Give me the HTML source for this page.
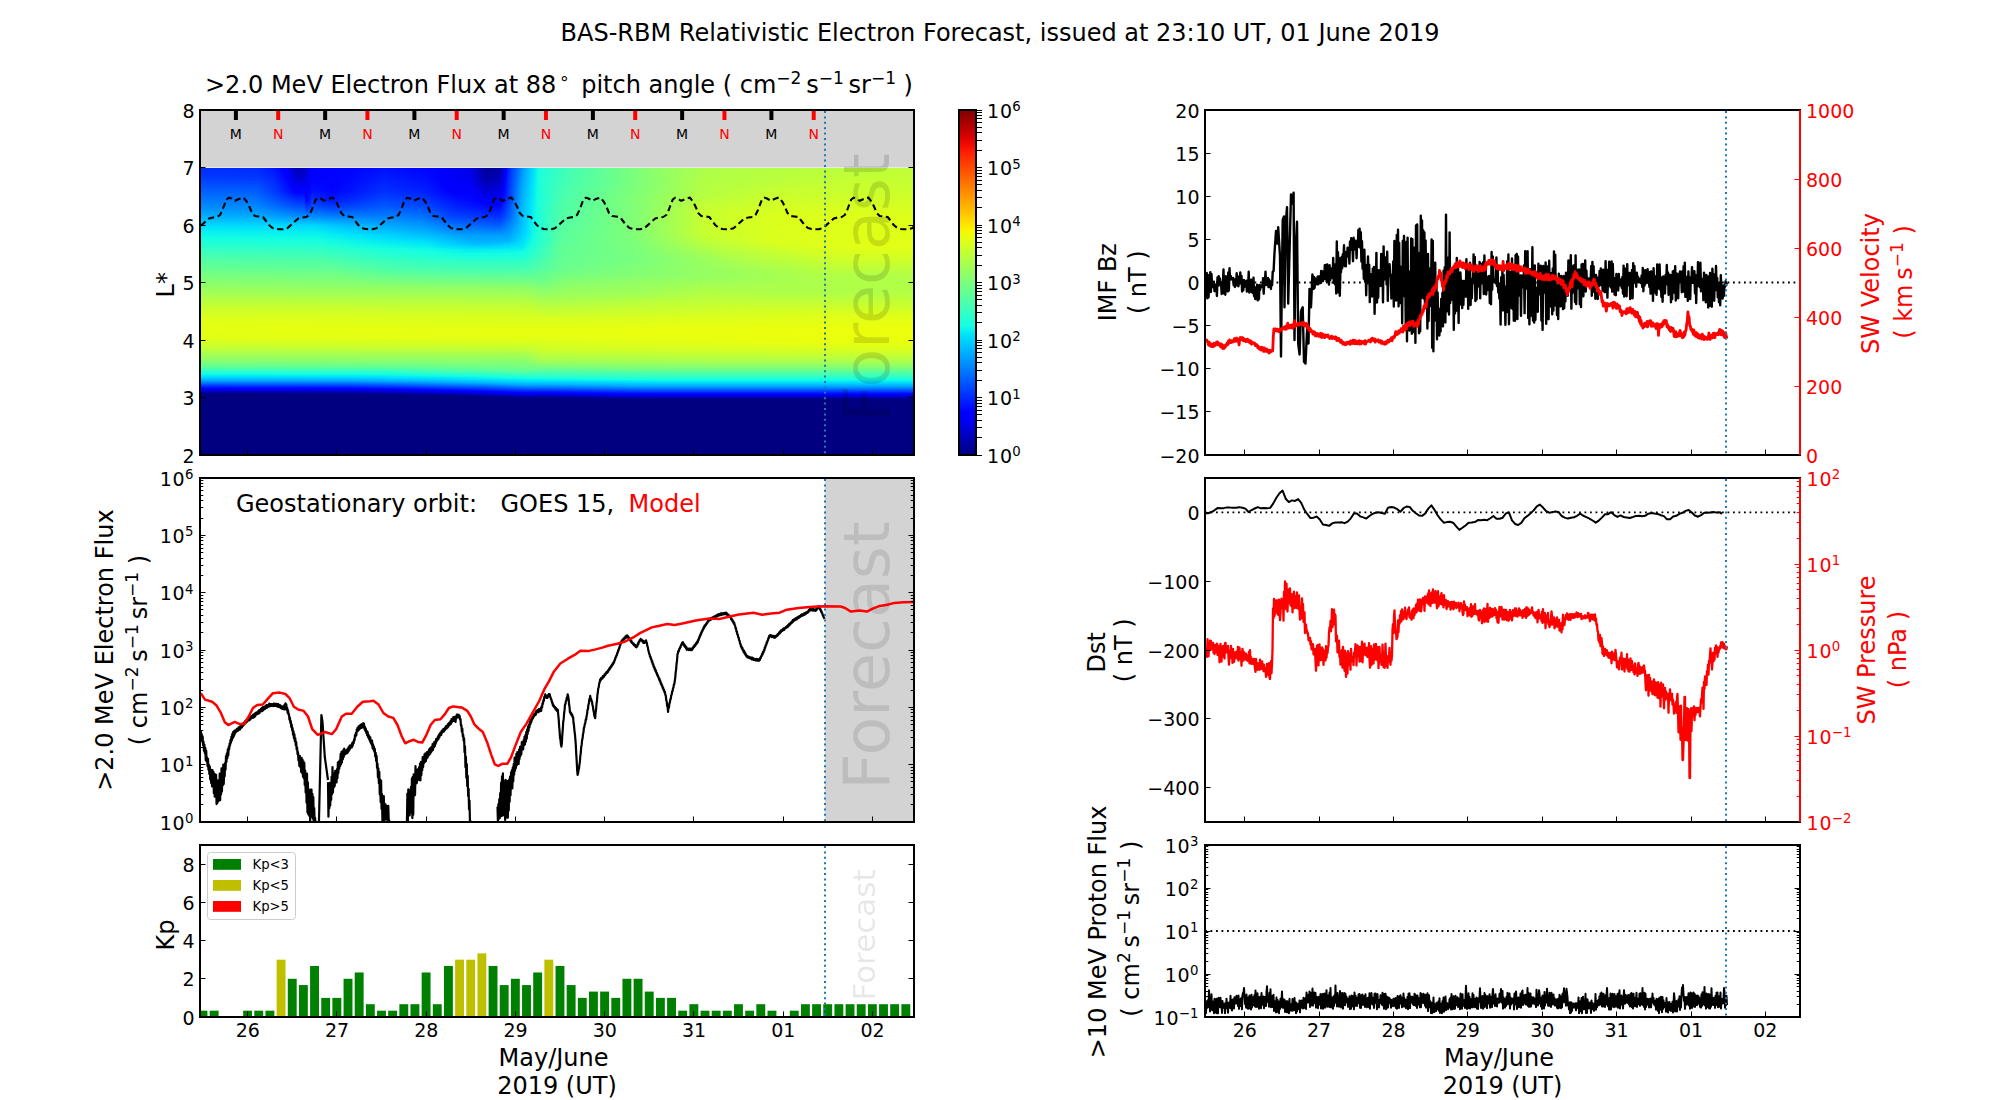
<!DOCTYPE html>
<html><head><meta charset="utf-8"><title>BAS-RBM Relativistic Electron Forecast</title>
<style>html,body{margin:0;padding:0;background:#fff;}svg{display:block;}</style></head>
<body><svg width="2000" height="1100" viewBox="0 0 2000 1100" font-family="'DejaVu Sans','Liberation Sans',sans-serif">
<rect width="2000" height="1100" fill="#fff"/>
<defs>
<clipPath id="clipH"><rect x="200" y="110" width="714" height="345"/></clipPath>
<clipPath id="clipM"><rect x="200" y="478" width="714" height="344"/></clipPath>
<clipPath id="clipK"><rect x="200" y="845" width="714" height="172"/></clipPath>
<clipPath id="clipR1"><rect x="1205" y="110" width="595" height="345"/></clipPath>
<clipPath id="clipR2"><rect x="1205" y="478" width="595" height="344"/></clipPath>
<clipPath id="clipR3"><rect x="1205" y="845" width="595" height="172"/></clipPath>
</defs>
<rect x="200" y="110" width="714" height="57.5" fill="#d3d3d3"/>
<defs><linearGradient id="h0" x1="0" x2="1" y1="0" y2="0"><stop offset="0.000" stop-color="#002fff"/><stop offset="0.081" stop-color="#002cff"/><stop offset="0.104" stop-color="#0016ff"/><stop offset="0.115" stop-color="#0000ff"/><stop offset="0.123" stop-color="#0000f9"/><stop offset="0.134" stop-color="#0000bc"/><stop offset="0.146" stop-color="#0000bc"/><stop offset="0.151" stop-color="#0000e5"/><stop offset="0.157" stop-color="#0000ff"/><stop offset="0.221" stop-color="#0005ff"/><stop offset="0.258" stop-color="#0010ff"/><stop offset="0.333" stop-color="#0000ff"/><stop offset="0.378" stop-color="#0000e9"/><stop offset="0.401" stop-color="#000099"/><stop offset="0.420" stop-color="#0000a5"/><stop offset="0.426" stop-color="#0000ea"/><stop offset="0.429" stop-color="#0000ff"/><stop offset="0.434" stop-color="#002cff"/><stop offset="0.454" stop-color="#00a2ff"/><stop offset="0.465" stop-color="#00d6ff"/><stop offset="0.471" stop-color="#08efef"/><stop offset="0.473" stop-color="#12fce4"/><stop offset="0.476" stop-color="#1dffda"/><stop offset="0.518" stop-color="#43ffb3"/><stop offset="0.630" stop-color="#8aff6d"/><stop offset="0.709" stop-color="#aeff49"/><stop offset="0.936" stop-color="#beff39"/><stop offset="1.000" stop-color="#beff39"/></linearGradient><linearGradient id="h1" x1="0" x2="1" y1="0" y2="0"><stop offset="0.000" stop-color="#0033ff"/><stop offset="0.081" stop-color="#0030ff"/><stop offset="0.104" stop-color="#001bff"/><stop offset="0.118" stop-color="#0000ff"/><stop offset="0.123" stop-color="#0000ff"/><stop offset="0.134" stop-color="#0000c5"/><stop offset="0.146" stop-color="#0000c5"/><stop offset="0.154" stop-color="#0000f7"/><stop offset="0.160" stop-color="#0000ff"/><stop offset="0.213" stop-color="#0004ff"/><stop offset="0.258" stop-color="#0014ff"/><stop offset="0.314" stop-color="#0006ff"/><stop offset="0.339" stop-color="#0000ff"/><stop offset="0.378" stop-color="#0000ec"/><stop offset="0.401" stop-color="#00009e"/><stop offset="0.420" stop-color="#0000ad"/><stop offset="0.426" stop-color="#0000ef"/><stop offset="0.429" stop-color="#0000ff"/><stop offset="0.431" stop-color="#001dff"/><stop offset="0.451" stop-color="#0098ff"/><stop offset="0.465" stop-color="#00d7ff"/><stop offset="0.468" stop-color="#00e4f8"/><stop offset="0.473" stop-color="#13fde4"/><stop offset="0.476" stop-color="#1dffd9"/><stop offset="0.515" stop-color="#43ffb4"/><stop offset="0.636" stop-color="#8dff6a"/><stop offset="0.709" stop-color="#afff48"/><stop offset="0.930" stop-color="#c0ff37"/><stop offset="1.000" stop-color="#c0ff37"/></linearGradient><linearGradient id="h2" x1="0" x2="1" y1="0" y2="0"><stop offset="0.000" stop-color="#0036ff"/><stop offset="0.084" stop-color="#0032ff"/><stop offset="0.104" stop-color="#0021ff"/><stop offset="0.120" stop-color="#0000ff"/><stop offset="0.126" stop-color="#0000f8"/><stop offset="0.134" stop-color="#0000cd"/><stop offset="0.146" stop-color="#0000cd"/><stop offset="0.154" stop-color="#0000fb"/><stop offset="0.207" stop-color="#0004ff"/><stop offset="0.258" stop-color="#0018ff"/><stop offset="0.314" stop-color="#000aff"/><stop offset="0.336" stop-color="#0000ff"/><stop offset="0.378" stop-color="#0000ef"/><stop offset="0.401" stop-color="#0000a4"/><stop offset="0.420" stop-color="#0000b5"/><stop offset="0.426" stop-color="#0000f5"/><stop offset="0.429" stop-color="#0004ff"/><stop offset="0.431" stop-color="#0020ff"/><stop offset="0.454" stop-color="#00a7ff"/><stop offset="0.465" stop-color="#00d9ff"/><stop offset="0.468" stop-color="#00e5f7"/><stop offset="0.473" stop-color="#14fee3"/><stop offset="0.479" stop-color="#21ffd6"/><stop offset="0.515" stop-color="#44ffb3"/><stop offset="0.650" stop-color="#94ff62"/><stop offset="0.709" stop-color="#b0ff47"/><stop offset="0.927" stop-color="#c2ff35"/><stop offset="1.000" stop-color="#c2ff35"/></linearGradient><linearGradient id="h3" x1="0" x2="1" y1="0" y2="0"><stop offset="0.000" stop-color="#003cff"/><stop offset="0.081" stop-color="#0039ff"/><stop offset="0.104" stop-color="#0026ff"/><stop offset="0.123" stop-color="#0000ff"/><stop offset="0.126" stop-color="#0000ff"/><stop offset="0.134" stop-color="#0000d5"/><stop offset="0.146" stop-color="#0000d5"/><stop offset="0.154" stop-color="#0000ff"/><stop offset="0.204" stop-color="#0005ff"/><stop offset="0.258" stop-color="#001cff"/><stop offset="0.314" stop-color="#000eff"/><stop offset="0.336" stop-color="#0000ff"/><stop offset="0.378" stop-color="#0000f2"/><stop offset="0.401" stop-color="#0000a9"/><stop offset="0.420" stop-color="#0000bd"/><stop offset="0.426" stop-color="#0000fa"/><stop offset="0.429" stop-color="#0008ff"/><stop offset="0.431" stop-color="#0023ff"/><stop offset="0.451" stop-color="#009dff"/><stop offset="0.465" stop-color="#00daff"/><stop offset="0.471" stop-color="#0af2ec"/><stop offset="0.473" stop-color="#14ffe3"/><stop offset="0.479" stop-color="#21ffd5"/><stop offset="0.513" stop-color="#44ffb3"/><stop offset="0.681" stop-color="#a5ff51"/><stop offset="0.714" stop-color="#b2ff45"/><stop offset="0.930" stop-color="#c4ff33"/><stop offset="1.000" stop-color="#c4ff33"/></linearGradient><linearGradient id="h4" x1="0" x2="1" y1="0" y2="0"><stop offset="0.000" stop-color="#0045ff"/><stop offset="0.081" stop-color="#0041ff"/><stop offset="0.104" stop-color="#002cff"/><stop offset="0.126" stop-color="#0000ff"/><stop offset="0.132" stop-color="#0000ec"/><stop offset="0.134" stop-color="#0000df"/><stop offset="0.146" stop-color="#0000df"/><stop offset="0.154" stop-color="#0000ff"/><stop offset="0.196" stop-color="#0003ff"/><stop offset="0.258" stop-color="#0020ff"/><stop offset="0.314" stop-color="#0012ff"/><stop offset="0.339" stop-color="#0000ff"/><stop offset="0.378" stop-color="#0000f5"/><stop offset="0.401" stop-color="#0000b0"/><stop offset="0.420" stop-color="#0000c5"/><stop offset="0.426" stop-color="#0000ff"/><stop offset="0.429" stop-color="#000cff"/><stop offset="0.431" stop-color="#0026ff"/><stop offset="0.451" stop-color="#00a0ff"/><stop offset="0.465" stop-color="#00dcff"/><stop offset="0.471" stop-color="#0bf3ec"/><stop offset="0.473" stop-color="#15ffe2"/><stop offset="0.479" stop-color="#22ffd5"/><stop offset="0.513" stop-color="#45ffb2"/><stop offset="0.703" stop-color="#b1ff45"/><stop offset="0.913" stop-color="#c5ff31"/><stop offset="1.000" stop-color="#c5ff31"/></linearGradient><linearGradient id="h5" x1="0" x2="1" y1="0" y2="0"><stop offset="0.000" stop-color="#004aff"/><stop offset="0.081" stop-color="#0046ff"/><stop offset="0.104" stop-color="#002fff"/><stop offset="0.126" stop-color="#0000ff"/><stop offset="0.129" stop-color="#0000ff"/><stop offset="0.134" stop-color="#0000e8"/><stop offset="0.148" stop-color="#0000ed"/><stop offset="0.154" stop-color="#0000ff"/><stop offset="0.160" stop-color="#0004ff"/><stop offset="0.196" stop-color="#0004ff"/><stop offset="0.258" stop-color="#0023ff"/><stop offset="0.314" stop-color="#0015ff"/><stop offset="0.342" stop-color="#0000ff"/><stop offset="0.378" stop-color="#0000f7"/><stop offset="0.401" stop-color="#0000b8"/><stop offset="0.420" stop-color="#0000ca"/><stop offset="0.426" stop-color="#0000ff"/><stop offset="0.429" stop-color="#000eff"/><stop offset="0.431" stop-color="#0028ff"/><stop offset="0.451" stop-color="#00a2ff"/><stop offset="0.465" stop-color="#00ddfe"/><stop offset="0.471" stop-color="#0cf4eb"/><stop offset="0.473" stop-color="#15ffe2"/><stop offset="0.479" stop-color="#22ffd5"/><stop offset="0.513" stop-color="#46ffb1"/><stop offset="0.706" stop-color="#b2ff44"/><stop offset="0.902" stop-color="#c7ff30"/><stop offset="1.000" stop-color="#c7ff30"/></linearGradient><linearGradient id="h6" x1="0" x2="1" y1="0" y2="0"><stop offset="0.000" stop-color="#0050ff"/><stop offset="0.081" stop-color="#004cff"/><stop offset="0.104" stop-color="#0033ff"/><stop offset="0.123" stop-color="#000bff"/><stop offset="0.126" stop-color="#0001ff"/><stop offset="0.132" stop-color="#0000fc"/><stop offset="0.134" stop-color="#0000f1"/><stop offset="0.148" stop-color="#0000f2"/><stop offset="0.154" stop-color="#0000ff"/><stop offset="0.157" stop-color="#0008ff"/><stop offset="0.188" stop-color="#0001ff"/><stop offset="0.255" stop-color="#0026ff"/><stop offset="0.314" stop-color="#0017ff"/><stop offset="0.342" stop-color="#0000ff"/><stop offset="0.378" stop-color="#0000f9"/><stop offset="0.401" stop-color="#0000bf"/><stop offset="0.420" stop-color="#0000cf"/><stop offset="0.426" stop-color="#0000ff"/><stop offset="0.437" stop-color="#004cff"/><stop offset="0.451" stop-color="#00a4ff"/><stop offset="0.465" stop-color="#00defd"/><stop offset="0.471" stop-color="#0cf5ea"/><stop offset="0.473" stop-color="#16ffe1"/><stop offset="0.482" stop-color="#26ffd1"/><stop offset="0.513" stop-color="#47ffb0"/><stop offset="0.709" stop-color="#b4ff43"/><stop offset="0.888" stop-color="#c8ff2f"/><stop offset="1.000" stop-color="#c8ff2f"/></linearGradient><linearGradient id="h7" x1="0" x2="1" y1="0" y2="0"><stop offset="0.000" stop-color="#0055ff"/><stop offset="0.081" stop-color="#0051ff"/><stop offset="0.106" stop-color="#0031ff"/><stop offset="0.129" stop-color="#0000ff"/><stop offset="0.148" stop-color="#0000f7"/><stop offset="0.154" stop-color="#0000ff"/><stop offset="0.157" stop-color="#000bff"/><stop offset="0.185" stop-color="#0000ff"/><stop offset="0.255" stop-color="#0029ff"/><stop offset="0.314" stop-color="#001aff"/><stop offset="0.345" stop-color="#0000ff"/><stop offset="0.378" stop-color="#0000fb"/><stop offset="0.401" stop-color="#0000c7"/><stop offset="0.420" stop-color="#0000d5"/><stop offset="0.423" stop-color="#0000f0"/><stop offset="0.426" stop-color="#0000ff"/><stop offset="0.437" stop-color="#004eff"/><stop offset="0.451" stop-color="#00a6ff"/><stop offset="0.465" stop-color="#00dffc"/><stop offset="0.473" stop-color="#16ffe1"/><stop offset="0.482" stop-color="#26ffd0"/><stop offset="0.510" stop-color="#46ffb0"/><stop offset="0.709" stop-color="#b4ff42"/><stop offset="0.843" stop-color="#c6ff31"/><stop offset="1.000" stop-color="#c9ff2e"/></linearGradient><linearGradient id="h8" x1="0" x2="1" y1="0" y2="0"><stop offset="0.000" stop-color="#005bff"/><stop offset="0.078" stop-color="#0059ff"/><stop offset="0.106" stop-color="#0035ff"/><stop offset="0.132" stop-color="#0000ff"/><stop offset="0.154" stop-color="#0000ff"/><stop offset="0.157" stop-color="#000dff"/><stop offset="0.185" stop-color="#0001ff"/><stop offset="0.255" stop-color="#002bff"/><stop offset="0.311" stop-color="#001fff"/><stop offset="0.347" stop-color="#0000ff"/><stop offset="0.378" stop-color="#0000fd"/><stop offset="0.401" stop-color="#0000cf"/><stop offset="0.420" stop-color="#0000db"/><stop offset="0.423" stop-color="#0000f6"/><stop offset="0.426" stop-color="#0000ff"/><stop offset="0.434" stop-color="#003fff"/><stop offset="0.451" stop-color="#00a8ff"/><stop offset="0.465" stop-color="#00e0fb"/><stop offset="0.473" stop-color="#16ffe0"/><stop offset="0.482" stop-color="#27ffd0"/><stop offset="0.510" stop-color="#47ffaf"/><stop offset="0.709" stop-color="#b5ff42"/><stop offset="0.832" stop-color="#c7ff30"/><stop offset="1.000" stop-color="#caff2c"/></linearGradient><linearGradient id="h9" x1="0" x2="1" y1="0" y2="0"><stop offset="0.000" stop-color="#0060ff"/><stop offset="0.078" stop-color="#005fff"/><stop offset="0.106" stop-color="#0039ff"/><stop offset="0.134" stop-color="#0000ff"/><stop offset="0.154" stop-color="#0003ff"/><stop offset="0.157" stop-color="#0011ff"/><stop offset="0.185" stop-color="#0003ff"/><stop offset="0.255" stop-color="#002fff"/><stop offset="0.314" stop-color="#0020ff"/><stop offset="0.350" stop-color="#0000ff"/><stop offset="0.381" stop-color="#0000fb"/><stop offset="0.401" stop-color="#0000d6"/><stop offset="0.420" stop-color="#0000e2"/><stop offset="0.423" stop-color="#0000fb"/><stop offset="0.426" stop-color="#0003ff"/><stop offset="0.434" stop-color="#0041ff"/><stop offset="0.451" stop-color="#00aaff"/><stop offset="0.465" stop-color="#00e1fb"/><stop offset="0.473" stop-color="#17ffe0"/><stop offset="0.482" stop-color="#27ffd0"/><stop offset="0.510" stop-color="#48ffae"/><stop offset="0.709" stop-color="#b6ff41"/><stop offset="0.826" stop-color="#c8ff2f"/><stop offset="1.000" stop-color="#ccff2b"/></linearGradient><linearGradient id="h10" x1="0" x2="1" y1="0" y2="0"><stop offset="0.000" stop-color="#0063ff"/><stop offset="0.078" stop-color="#0061ff"/><stop offset="0.106" stop-color="#003cff"/><stop offset="0.134" stop-color="#0003ff"/><stop offset="0.151" stop-color="#0000ff"/><stop offset="0.154" stop-color="#0006ff"/><stop offset="0.157" stop-color="#0015ff"/><stop offset="0.185" stop-color="#0006ff"/><stop offset="0.255" stop-color="#0031ff"/><stop offset="0.311" stop-color="#0025ff"/><stop offset="0.353" stop-color="#0000ff"/><stop offset="0.381" stop-color="#0000fe"/><stop offset="0.401" stop-color="#0000da"/><stop offset="0.420" stop-color="#0000e5"/><stop offset="0.423" stop-color="#0000fd"/><stop offset="0.426" stop-color="#0005ff"/><stop offset="0.437" stop-color="#0053ff"/><stop offset="0.451" stop-color="#00aaff"/><stop offset="0.465" stop-color="#00e1fa"/><stop offset="0.473" stop-color="#17ffe0"/><stop offset="0.482" stop-color="#27ffcf"/><stop offset="0.510" stop-color="#49ffae"/><stop offset="0.709" stop-color="#b6ff41"/><stop offset="0.815" stop-color="#c8ff2f"/><stop offset="1.000" stop-color="#ccff2a"/></linearGradient><linearGradient id="h11" x1="0" x2="1" y1="0" y2="0"><stop offset="0.000" stop-color="#0066ff"/><stop offset="0.078" stop-color="#0064ff"/><stop offset="0.109" stop-color="#003bff"/><stop offset="0.134" stop-color="#0008ff"/><stop offset="0.146" stop-color="#0008ff"/><stop offset="0.151" stop-color="#0000ff"/><stop offset="0.154" stop-color="#0009ff"/><stop offset="0.157" stop-color="#001aff"/><stop offset="0.185" stop-color="#0008ff"/><stop offset="0.255" stop-color="#0034ff"/><stop offset="0.311" stop-color="#0028ff"/><stop offset="0.356" stop-color="#0000ff"/><stop offset="0.384" stop-color="#0000fd"/><stop offset="0.401" stop-color="#0000de"/><stop offset="0.420" stop-color="#0000e8"/><stop offset="0.423" stop-color="#0000ff"/><stop offset="0.426" stop-color="#0007ff"/><stop offset="0.437" stop-color="#0054ff"/><stop offset="0.451" stop-color="#00abff"/><stop offset="0.465" stop-color="#00e2fa"/><stop offset="0.473" stop-color="#17ffe0"/><stop offset="0.482" stop-color="#28ffcf"/><stop offset="0.510" stop-color="#49ffae"/><stop offset="0.709" stop-color="#b7ff40"/><stop offset="0.818" stop-color="#c9ff2e"/><stop offset="1.000" stop-color="#cdff2a"/></linearGradient><linearGradient id="h12" x1="0" x2="1" y1="0" y2="0"><stop offset="0.000" stop-color="#0069ff"/><stop offset="0.078" stop-color="#0067ff"/><stop offset="0.109" stop-color="#003eff"/><stop offset="0.134" stop-color="#000eff"/><stop offset="0.146" stop-color="#000eff"/><stop offset="0.148" stop-color="#0000ff"/><stop offset="0.151" stop-color="#0000ff"/><stop offset="0.157" stop-color="#001eff"/><stop offset="0.185" stop-color="#000bff"/><stop offset="0.255" stop-color="#0037ff"/><stop offset="0.314" stop-color="#0028ff"/><stop offset="0.356" stop-color="#0002ff"/><stop offset="0.387" stop-color="#0000fb"/><stop offset="0.401" stop-color="#0000e2"/><stop offset="0.420" stop-color="#0000eb"/><stop offset="0.423" stop-color="#0000ff"/><stop offset="0.426" stop-color="#0008ff"/><stop offset="0.437" stop-color="#0055ff"/><stop offset="0.451" stop-color="#00acff"/><stop offset="0.462" stop-color="#00d7ff"/><stop offset="0.468" stop-color="#06edf1"/><stop offset="0.473" stop-color="#17ffdf"/><stop offset="0.485" stop-color="#2cffcb"/><stop offset="0.510" stop-color="#4affad"/><stop offset="0.709" stop-color="#b7ff3f"/><stop offset="0.818" stop-color="#caff2d"/><stop offset="1.000" stop-color="#ceff29"/></linearGradient><linearGradient id="h13" x1="0" x2="1" y1="0" y2="0"><stop offset="0.000" stop-color="#006bff"/><stop offset="0.078" stop-color="#006aff"/><stop offset="0.112" stop-color="#003dff"/><stop offset="0.134" stop-color="#0013ff"/><stop offset="0.146" stop-color="#0013ff"/><stop offset="0.148" stop-color="#0000ff"/><stop offset="0.151" stop-color="#0000ff"/><stop offset="0.157" stop-color="#0022ff"/><stop offset="0.182" stop-color="#000bff"/><stop offset="0.255" stop-color="#003aff"/><stop offset="0.314" stop-color="#002bff"/><stop offset="0.356" stop-color="#0005ff"/><stop offset="0.387" stop-color="#0000fe"/><stop offset="0.401" stop-color="#0000e6"/><stop offset="0.420" stop-color="#0000ee"/><stop offset="0.423" stop-color="#0000ff"/><stop offset="0.426" stop-color="#000aff"/><stop offset="0.443" stop-color="#0079ff"/><stop offset="0.451" stop-color="#00adff"/><stop offset="0.462" stop-color="#00d8ff"/><stop offset="0.468" stop-color="#06edf0"/><stop offset="0.473" stop-color="#18ffdf"/><stop offset="0.507" stop-color="#49ffae"/><stop offset="0.697" stop-color="#b5ff42"/><stop offset="0.810" stop-color="#caff2d"/><stop offset="1.000" stop-color="#ceff28"/></linearGradient><linearGradient id="h14" x1="0" x2="1" y1="0" y2="0"><stop offset="0.000" stop-color="#006eff"/><stop offset="0.078" stop-color="#006cff"/><stop offset="0.109" stop-color="#0045ff"/><stop offset="0.134" stop-color="#0019ff"/><stop offset="0.146" stop-color="#0019ff"/><stop offset="0.148" stop-color="#0001ff"/><stop offset="0.151" stop-color="#0000ff"/><stop offset="0.157" stop-color="#0026ff"/><stop offset="0.182" stop-color="#000eff"/><stop offset="0.255" stop-color="#003cff"/><stop offset="0.311" stop-color="#0030ff"/><stop offset="0.356" stop-color="#0008ff"/><stop offset="0.389" stop-color="#0000fd"/><stop offset="0.401" stop-color="#0000ea"/><stop offset="0.420" stop-color="#0000f1"/><stop offset="0.423" stop-color="#0000ff"/><stop offset="0.429" stop-color="#0020ff"/><stop offset="0.451" stop-color="#00aeff"/><stop offset="0.462" stop-color="#00d9ff"/><stop offset="0.468" stop-color="#07eef0"/><stop offset="0.473" stop-color="#18ffdf"/><stop offset="0.482" stop-color="#28ffcf"/><stop offset="0.510" stop-color="#4bffac"/><stop offset="0.667" stop-color="#a3ff54"/><stop offset="0.711" stop-color="#baff3d"/><stop offset="0.812" stop-color="#cbff2c"/><stop offset="1.000" stop-color="#cfff28"/></linearGradient><linearGradient id="h15" x1="0" x2="1" y1="0" y2="0"><stop offset="0.000" stop-color="#0071ff"/><stop offset="0.078" stop-color="#006fff"/><stop offset="0.112" stop-color="#0044ff"/><stop offset="0.134" stop-color="#001eff"/><stop offset="0.146" stop-color="#001eff"/><stop offset="0.148" stop-color="#0004ff"/><stop offset="0.151" stop-color="#0000ff"/><stop offset="0.157" stop-color="#002aff"/><stop offset="0.185" stop-color="#0012ff"/><stop offset="0.255" stop-color="#003fff"/><stop offset="0.314" stop-color="#0030ff"/><stop offset="0.356" stop-color="#000bff"/><stop offset="0.392" stop-color="#0000fc"/><stop offset="0.403" stop-color="#0000f0"/><stop offset="0.420" stop-color="#0000f4"/><stop offset="0.423" stop-color="#0000ff"/><stop offset="0.451" stop-color="#00afff"/><stop offset="0.462" stop-color="#00d9ff"/><stop offset="0.468" stop-color="#07eef0"/><stop offset="0.473" stop-color="#18ffdf"/><stop offset="0.485" stop-color="#2cffca"/><stop offset="0.510" stop-color="#4bffac"/><stop offset="0.653" stop-color="#9bff5c"/><stop offset="0.709" stop-color="#baff3c"/><stop offset="0.812" stop-color="#ccff2b"/><stop offset="1.000" stop-color="#d0ff27"/></linearGradient><linearGradient id="h16" x1="0" x2="1" y1="0" y2="0"><stop offset="0.000" stop-color="#0074ff"/><stop offset="0.078" stop-color="#0072ff"/><stop offset="0.115" stop-color="#0043ff"/><stop offset="0.137" stop-color="#0024ff"/><stop offset="0.146" stop-color="#0024ff"/><stop offset="0.148" stop-color="#0006ff"/><stop offset="0.151" stop-color="#0002ff"/><stop offset="0.157" stop-color="#002eff"/><stop offset="0.182" stop-color="#0013ff"/><stop offset="0.255" stop-color="#0042ff"/><stop offset="0.314" stop-color="#0033ff"/><stop offset="0.356" stop-color="#000dff"/><stop offset="0.395" stop-color="#0000fc"/><stop offset="0.403" stop-color="#0000f4"/><stop offset="0.420" stop-color="#0000f7"/><stop offset="0.423" stop-color="#0000ff"/><stop offset="0.451" stop-color="#00b0ff"/><stop offset="0.462" stop-color="#00daff"/><stop offset="0.468" stop-color="#07efef"/><stop offset="0.473" stop-color="#18ffdf"/><stop offset="0.485" stop-color="#2dffca"/><stop offset="0.510" stop-color="#4cffab"/><stop offset="0.644" stop-color="#96ff61"/><stop offset="0.709" stop-color="#bbff3b"/><stop offset="0.815" stop-color="#cdff2a"/><stop offset="1.000" stop-color="#d0ff27"/></linearGradient><linearGradient id="h17" x1="0" x2="1" y1="0" y2="0"><stop offset="0.000" stop-color="#0076ff"/><stop offset="0.081" stop-color="#0072ff"/><stop offset="0.120" stop-color="#003eff"/><stop offset="0.137" stop-color="#0029ff"/><stop offset="0.146" stop-color="#0029ff"/><stop offset="0.148" stop-color="#0009ff"/><stop offset="0.151" stop-color="#0004ff"/><stop offset="0.157" stop-color="#0032ff"/><stop offset="0.182" stop-color="#0016ff"/><stop offset="0.255" stop-color="#0045ff"/><stop offset="0.311" stop-color="#0038ff"/><stop offset="0.356" stop-color="#0010ff"/><stop offset="0.395" stop-color="#0000ff"/><stop offset="0.406" stop-color="#0000f9"/><stop offset="0.423" stop-color="#0000ff"/><stop offset="0.451" stop-color="#00b1ff"/><stop offset="0.462" stop-color="#00daff"/><stop offset="0.468" stop-color="#08efef"/><stop offset="0.473" stop-color="#18ffde"/><stop offset="0.485" stop-color="#2dffca"/><stop offset="0.510" stop-color="#4cffab"/><stop offset="0.639" stop-color="#93ff64"/><stop offset="0.709" stop-color="#bcff3a"/><stop offset="0.815" stop-color="#ceff29"/><stop offset="1.000" stop-color="#d1ff26"/></linearGradient><linearGradient id="h18" x1="0" x2="1" y1="0" y2="0"><stop offset="0.000" stop-color="#0079ff"/><stop offset="0.078" stop-color="#0078ff"/><stop offset="0.123" stop-color="#003eff"/><stop offset="0.137" stop-color="#002fff"/><stop offset="0.146" stop-color="#002fff"/><stop offset="0.148" stop-color="#000cff"/><stop offset="0.151" stop-color="#0006ff"/><stop offset="0.157" stop-color="#0036ff"/><stop offset="0.182" stop-color="#0018ff"/><stop offset="0.255" stop-color="#0047ff"/><stop offset="0.311" stop-color="#003bff"/><stop offset="0.356" stop-color="#0013ff"/><stop offset="0.384" stop-color="#0004ff"/><stop offset="0.423" stop-color="#0001ff"/><stop offset="0.451" stop-color="#00b2ff"/><stop offset="0.462" stop-color="#00dbff"/><stop offset="0.468" stop-color="#08efef"/><stop offset="0.473" stop-color="#19ffde"/><stop offset="0.507" stop-color="#4bffac"/><stop offset="0.630" stop-color="#8eff69"/><stop offset="0.706" stop-color="#bdff3a"/><stop offset="0.818" stop-color="#cfff28"/><stop offset="1.000" stop-color="#d1ff25"/></linearGradient><linearGradient id="h19" x1="0" x2="1" y1="0" y2="0"><stop offset="0.000" stop-color="#007cff"/><stop offset="0.078" stop-color="#007aff"/><stop offset="0.126" stop-color="#003fff"/><stop offset="0.137" stop-color="#0034ff"/><stop offset="0.146" stop-color="#0034ff"/><stop offset="0.148" stop-color="#0011ff"/><stop offset="0.151" stop-color="#000bff"/><stop offset="0.157" stop-color="#003aff"/><stop offset="0.185" stop-color="#001eff"/><stop offset="0.255" stop-color="#004aff"/><stop offset="0.314" stop-color="#003bff"/><stop offset="0.356" stop-color="#0015ff"/><stop offset="0.384" stop-color="#0007ff"/><stop offset="0.395" stop-color="#0000ff"/><stop offset="0.423" stop-color="#0004ff"/><stop offset="0.451" stop-color="#00b3ff"/><stop offset="0.462" stop-color="#00dcff"/><stop offset="0.468" stop-color="#08f0ee"/><stop offset="0.473" stop-color="#19ffde"/><stop offset="0.507" stop-color="#4cffab"/><stop offset="0.630" stop-color="#8eff69"/><stop offset="0.706" stop-color="#beff39"/><stop offset="0.815" stop-color="#cfff27"/><stop offset="1.000" stop-color="#d2ff25"/></linearGradient><linearGradient id="h20" x1="0" x2="1" y1="0" y2="0"><stop offset="0.000" stop-color="#007fff"/><stop offset="0.078" stop-color="#007dff"/><stop offset="0.137" stop-color="#0039ff"/><stop offset="0.146" stop-color="#0039ff"/><stop offset="0.148" stop-color="#0018ff"/><stop offset="0.151" stop-color="#0012ff"/><stop offset="0.157" stop-color="#003eff"/><stop offset="0.185" stop-color="#0024ff"/><stop offset="0.255" stop-color="#004dff"/><stop offset="0.314" stop-color="#003eff"/><stop offset="0.356" stop-color="#0018ff"/><stop offset="0.384" stop-color="#000aff"/><stop offset="0.398" stop-color="#0000ff"/><stop offset="0.420" stop-color="#0000ff"/><stop offset="0.423" stop-color="#0008ff"/><stop offset="0.451" stop-color="#00b4ff"/><stop offset="0.462" stop-color="#00dcfe"/><stop offset="0.468" stop-color="#09f0ee"/><stop offset="0.473" stop-color="#19ffde"/><stop offset="0.504" stop-color="#4bffac"/><stop offset="0.622" stop-color="#89ff6e"/><stop offset="0.706" stop-color="#bfff38"/><stop offset="0.812" stop-color="#d0ff27"/><stop offset="1.000" stop-color="#d3ff24"/></linearGradient><linearGradient id="h21" x1="0" x2="1" y1="0" y2="0"><stop offset="0.000" stop-color="#0082ff"/><stop offset="0.078" stop-color="#0080ff"/><stop offset="0.137" stop-color="#003fff"/><stop offset="0.146" stop-color="#003fff"/><stop offset="0.148" stop-color="#001fff"/><stop offset="0.151" stop-color="#001aff"/><stop offset="0.157" stop-color="#0042ff"/><stop offset="0.185" stop-color="#002aff"/><stop offset="0.258" stop-color="#004fff"/><stop offset="0.311" stop-color="#0043ff"/><stop offset="0.356" stop-color="#001bff"/><stop offset="0.384" stop-color="#000dff"/><stop offset="0.401" stop-color="#0000ff"/><stop offset="0.420" stop-color="#0000ff"/><stop offset="0.429" stop-color="#002dff"/><stop offset="0.451" stop-color="#00b4ff"/><stop offset="0.462" stop-color="#00ddfe"/><stop offset="0.468" stop-color="#09f1ee"/><stop offset="0.473" stop-color="#19ffdd"/><stop offset="0.504" stop-color="#4bffac"/><stop offset="0.622" stop-color="#89ff6e"/><stop offset="0.706" stop-color="#c0ff37"/><stop offset="0.815" stop-color="#d1ff26"/><stop offset="1.000" stop-color="#d4ff23"/></linearGradient><linearGradient id="h22" x1="0" x2="1" y1="0" y2="0"><stop offset="0.000" stop-color="#0085ff"/><stop offset="0.078" stop-color="#0083ff"/><stop offset="0.137" stop-color="#0044ff"/><stop offset="0.146" stop-color="#0044ff"/><stop offset="0.148" stop-color="#0026ff"/><stop offset="0.151" stop-color="#0021ff"/><stop offset="0.157" stop-color="#0046ff"/><stop offset="0.185" stop-color="#0030ff"/><stop offset="0.258" stop-color="#0052ff"/><stop offset="0.314" stop-color="#0043ff"/><stop offset="0.356" stop-color="#001eff"/><stop offset="0.387" stop-color="#000dff"/><stop offset="0.406" stop-color="#0000ff"/><stop offset="0.420" stop-color="#0000ff"/><stop offset="0.451" stop-color="#00b5ff"/><stop offset="0.462" stop-color="#00ddfe"/><stop offset="0.468" stop-color="#09f1ed"/><stop offset="0.473" stop-color="#1affdd"/><stop offset="0.507" stop-color="#4dffaa"/><stop offset="0.622" stop-color="#89ff6e"/><stop offset="0.706" stop-color="#c1ff36"/><stop offset="0.815" stop-color="#d2ff25"/><stop offset="1.000" stop-color="#d5ff22"/></linearGradient><linearGradient id="h23" x1="0" x2="1" y1="0" y2="0"><stop offset="0.000" stop-color="#0088ff"/><stop offset="0.078" stop-color="#0086ff"/><stop offset="0.134" stop-color="#004aff"/><stop offset="0.146" stop-color="#004aff"/><stop offset="0.148" stop-color="#002eff"/><stop offset="0.151" stop-color="#0028ff"/><stop offset="0.157" stop-color="#004aff"/><stop offset="0.185" stop-color="#0036ff"/><stop offset="0.258" stop-color="#0054ff"/><stop offset="0.314" stop-color="#0046ff"/><stop offset="0.356" stop-color="#0020ff"/><stop offset="0.389" stop-color="#000eff"/><stop offset="0.406" stop-color="#0003ff"/><stop offset="0.420" stop-color="#0003ff"/><stop offset="0.451" stop-color="#00b6ff"/><stop offset="0.462" stop-color="#00defd"/><stop offset="0.471" stop-color="#12fbe5"/><stop offset="0.479" stop-color="#26ffd1"/><stop offset="0.507" stop-color="#4dffaa"/><stop offset="0.622" stop-color="#89ff6e"/><stop offset="0.706" stop-color="#c2ff35"/><stop offset="0.815" stop-color="#d3ff24"/><stop offset="1.000" stop-color="#d5ff21"/></linearGradient><linearGradient id="h24" x1="0" x2="1" y1="0" y2="0"><stop offset="0.000" stop-color="#008bff"/><stop offset="0.078" stop-color="#0089ff"/><stop offset="0.134" stop-color="#0050ff"/><stop offset="0.146" stop-color="#0050ff"/><stop offset="0.148" stop-color="#0035ff"/><stop offset="0.151" stop-color="#0030ff"/><stop offset="0.157" stop-color="#0050ff"/><stop offset="0.185" stop-color="#003cff"/><stop offset="0.258" stop-color="#0058ff"/><stop offset="0.311" stop-color="#004cff"/><stop offset="0.356" stop-color="#0023ff"/><stop offset="0.389" stop-color="#0011ff"/><stop offset="0.406" stop-color="#0007ff"/><stop offset="0.420" stop-color="#0007ff"/><stop offset="0.451" stop-color="#00b6ff"/><stop offset="0.462" stop-color="#00defd"/><stop offset="0.471" stop-color="#12fce5"/><stop offset="0.479" stop-color="#26ffd1"/><stop offset="0.507" stop-color="#4effa9"/><stop offset="0.619" stop-color="#87ff6f"/><stop offset="0.706" stop-color="#c3ff34"/><stop offset="0.821" stop-color="#d4ff23"/><stop offset="1.000" stop-color="#d6ff20"/></linearGradient><linearGradient id="h25" x1="0" x2="1" y1="0" y2="0"><stop offset="0.000" stop-color="#008eff"/><stop offset="0.081" stop-color="#008aff"/><stop offset="0.134" stop-color="#0056ff"/><stop offset="0.146" stop-color="#0056ff"/><stop offset="0.148" stop-color="#003dff"/><stop offset="0.151" stop-color="#0037ff"/><stop offset="0.157" stop-color="#0056ff"/><stop offset="0.185" stop-color="#0042ff"/><stop offset="0.258" stop-color="#005cff"/><stop offset="0.311" stop-color="#0050ff"/><stop offset="0.356" stop-color="#0026ff"/><stop offset="0.389" stop-color="#0015ff"/><stop offset="0.406" stop-color="#000bff"/><stop offset="0.420" stop-color="#000bff"/><stop offset="0.445" stop-color="#0096ff"/><stop offset="0.451" stop-color="#00b7ff"/><stop offset="0.462" stop-color="#00defc"/><stop offset="0.471" stop-color="#12fce4"/><stop offset="0.482" stop-color="#2bffcc"/><stop offset="0.507" stop-color="#4effa9"/><stop offset="0.616" stop-color="#86ff71"/><stop offset="0.706" stop-color="#c4ff33"/><stop offset="0.821" stop-color="#d5ff22"/><stop offset="1.000" stop-color="#d7ff20"/></linearGradient><linearGradient id="h26" x1="0" x2="1" y1="0" y2="0"><stop offset="0.000" stop-color="#0091ff"/><stop offset="0.081" stop-color="#008dff"/><stop offset="0.137" stop-color="#005cff"/><stop offset="0.146" stop-color="#005cff"/><stop offset="0.148" stop-color="#0044ff"/><stop offset="0.151" stop-color="#003fff"/><stop offset="0.157" stop-color="#005cff"/><stop offset="0.185" stop-color="#0048ff"/><stop offset="0.258" stop-color="#0060ff"/><stop offset="0.311" stop-color="#0054ff"/><stop offset="0.356" stop-color="#0029ff"/><stop offset="0.395" stop-color="#0014ff"/><stop offset="0.420" stop-color="#000fff"/><stop offset="0.440" stop-color="#0077ff"/><stop offset="0.451" stop-color="#00b8ff"/><stop offset="0.462" stop-color="#00dffc"/><stop offset="0.471" stop-color="#13fde4"/><stop offset="0.479" stop-color="#27ffd0"/><stop offset="0.507" stop-color="#4effa8"/><stop offset="0.616" stop-color="#86ff71"/><stop offset="0.706" stop-color="#c5ff32"/><stop offset="0.815" stop-color="#d5ff22"/><stop offset="1.000" stop-color="#d8ff1f"/></linearGradient><linearGradient id="h27" x1="0" x2="1" y1="0" y2="0"><stop offset="0.000" stop-color="#0094ff"/><stop offset="0.081" stop-color="#0090ff"/><stop offset="0.137" stop-color="#0062ff"/><stop offset="0.146" stop-color="#0062ff"/><stop offset="0.148" stop-color="#004bff"/><stop offset="0.151" stop-color="#0047ff"/><stop offset="0.157" stop-color="#0062ff"/><stop offset="0.185" stop-color="#004eff"/><stop offset="0.258" stop-color="#0064ff"/><stop offset="0.311" stop-color="#0058ff"/><stop offset="0.356" stop-color="#002cff"/><stop offset="0.395" stop-color="#0018ff"/><stop offset="0.420" stop-color="#0013ff"/><stop offset="0.437" stop-color="#0069ff"/><stop offset="0.451" stop-color="#00b8ff"/><stop offset="0.462" stop-color="#00dffc"/><stop offset="0.471" stop-color="#13fde4"/><stop offset="0.479" stop-color="#27ffd0"/><stop offset="0.507" stop-color="#4fffa8"/><stop offset="0.616" stop-color="#86ff71"/><stop offset="0.706" stop-color="#c6ff31"/><stop offset="0.818" stop-color="#d6ff21"/><stop offset="1.000" stop-color="#d9ff1e"/></linearGradient><linearGradient id="h28" x1="0" x2="1" y1="0" y2="0"><stop offset="0.000" stop-color="#0098ff"/><stop offset="0.081" stop-color="#0094ff"/><stop offset="0.137" stop-color="#0068ff"/><stop offset="0.146" stop-color="#0068ff"/><stop offset="0.148" stop-color="#0053ff"/><stop offset="0.151" stop-color="#004fff"/><stop offset="0.157" stop-color="#0068ff"/><stop offset="0.185" stop-color="#0054ff"/><stop offset="0.261" stop-color="#0068ff"/><stop offset="0.311" stop-color="#005cff"/><stop offset="0.356" stop-color="#002fff"/><stop offset="0.409" stop-color="#0017ff"/><stop offset="0.420" stop-color="#0017ff"/><stop offset="0.434" stop-color="#005bff"/><stop offset="0.451" stop-color="#00b9ff"/><stop offset="0.462" stop-color="#00e0fb"/><stop offset="0.471" stop-color="#13fde4"/><stop offset="0.479" stop-color="#27ffd0"/><stop offset="0.507" stop-color="#4fffa8"/><stop offset="0.616" stop-color="#86ff71"/><stop offset="0.706" stop-color="#c6ff30"/><stop offset="0.818" stop-color="#d7ff20"/><stop offset="1.000" stop-color="#daff1d"/></linearGradient><linearGradient id="h29" x1="0" x2="1" y1="0" y2="0"><stop offset="0.000" stop-color="#009cff"/><stop offset="0.081" stop-color="#0099ff"/><stop offset="0.137" stop-color="#006eff"/><stop offset="0.146" stop-color="#006eff"/><stop offset="0.148" stop-color="#005bff"/><stop offset="0.151" stop-color="#0057ff"/><stop offset="0.157" stop-color="#006eff"/><stop offset="0.185" stop-color="#005bff"/><stop offset="0.261" stop-color="#006cff"/><stop offset="0.311" stop-color="#0060ff"/><stop offset="0.356" stop-color="#0032ff"/><stop offset="0.409" stop-color="#001cff"/><stop offset="0.420" stop-color="#001cff"/><stop offset="0.437" stop-color="#006cff"/><stop offset="0.451" stop-color="#00baff"/><stop offset="0.462" stop-color="#00e0fb"/><stop offset="0.471" stop-color="#13fee3"/><stop offset="0.482" stop-color="#2cffcb"/><stop offset="0.507" stop-color="#50ffa7"/><stop offset="0.613" stop-color="#84ff73"/><stop offset="0.706" stop-color="#c7ff30"/><stop offset="0.815" stop-color="#d8ff1f"/><stop offset="1.000" stop-color="#daff1c"/></linearGradient><linearGradient id="h30" x1="0" x2="1" y1="0" y2="0"><stop offset="0.000" stop-color="#00a0ff"/><stop offset="0.081" stop-color="#009dff"/><stop offset="0.140" stop-color="#0074ff"/><stop offset="0.146" stop-color="#0074ff"/><stop offset="0.148" stop-color="#0064ff"/><stop offset="0.151" stop-color="#0061ff"/><stop offset="0.157" stop-color="#0074ff"/><stop offset="0.185" stop-color="#0063ff"/><stop offset="0.261" stop-color="#0070ff"/><stop offset="0.311" stop-color="#0064ff"/><stop offset="0.356" stop-color="#0036ff"/><stop offset="0.409" stop-color="#0020ff"/><stop offset="0.420" stop-color="#0020ff"/><stop offset="0.434" stop-color="#005fff"/><stop offset="0.451" stop-color="#00baff"/><stop offset="0.462" stop-color="#00e1fa"/><stop offset="0.471" stop-color="#14fee3"/><stop offset="0.485" stop-color="#30ffc6"/><stop offset="0.507" stop-color="#50ffa7"/><stop offset="0.613" stop-color="#84ff73"/><stop offset="0.706" stop-color="#c7ff30"/><stop offset="0.812" stop-color="#d8ff1e"/><stop offset="1.000" stop-color="#dbff1c"/></linearGradient><linearGradient id="h31" x1="0" x2="1" y1="0" y2="0"><stop offset="0.000" stop-color="#00a4ff"/><stop offset="0.081" stop-color="#00a1ff"/><stop offset="0.140" stop-color="#007aff"/><stop offset="0.146" stop-color="#007aff"/><stop offset="0.148" stop-color="#006dff"/><stop offset="0.151" stop-color="#006aff"/><stop offset="0.157" stop-color="#007aff"/><stop offset="0.188" stop-color="#006bff"/><stop offset="0.266" stop-color="#0073ff"/><stop offset="0.311" stop-color="#0068ff"/><stop offset="0.356" stop-color="#0039ff"/><stop offset="0.409" stop-color="#0024ff"/><stop offset="0.420" stop-color="#0024ff"/><stop offset="0.434" stop-color="#0061ff"/><stop offset="0.451" stop-color="#00bbff"/><stop offset="0.462" stop-color="#00e1fa"/><stop offset="0.471" stop-color="#14fee3"/><stop offset="0.479" stop-color="#28ffcf"/><stop offset="0.507" stop-color="#50ffa6"/><stop offset="0.613" stop-color="#84ff73"/><stop offset="0.706" stop-color="#c7ff30"/><stop offset="0.810" stop-color="#d9ff1e"/><stop offset="1.000" stop-color="#dcff1b"/></linearGradient><linearGradient id="h32" x1="0" x2="1" y1="0" y2="0"><stop offset="0.000" stop-color="#00a8ff"/><stop offset="0.081" stop-color="#00a5ff"/><stop offset="0.140" stop-color="#0081ff"/><stop offset="0.146" stop-color="#0081ff"/><stop offset="0.151" stop-color="#0073ff"/><stop offset="0.157" stop-color="#0081ff"/><stop offset="0.188" stop-color="#0072ff"/><stop offset="0.266" stop-color="#0077ff"/><stop offset="0.311" stop-color="#006cff"/><stop offset="0.353" stop-color="#003dff"/><stop offset="0.409" stop-color="#0028ff"/><stop offset="0.420" stop-color="#0028ff"/><stop offset="0.434" stop-color="#0063ff"/><stop offset="0.451" stop-color="#00bcff"/><stop offset="0.462" stop-color="#00e2fa"/><stop offset="0.471" stop-color="#14ffe3"/><stop offset="0.479" stop-color="#28ffcf"/><stop offset="0.507" stop-color="#51ffa6"/><stop offset="0.613" stop-color="#84ff73"/><stop offset="0.706" stop-color="#c7ff30"/><stop offset="0.810" stop-color="#daff1d"/><stop offset="1.000" stop-color="#ddff1a"/></linearGradient><linearGradient id="h33" x1="0" x2="1" y1="0" y2="0"><stop offset="0.000" stop-color="#00acff"/><stop offset="0.081" stop-color="#00a9ff"/><stop offset="0.140" stop-color="#0087ff"/><stop offset="0.146" stop-color="#0087ff"/><stop offset="0.151" stop-color="#007dff"/><stop offset="0.157" stop-color="#0087ff"/><stop offset="0.188" stop-color="#0079ff"/><stop offset="0.277" stop-color="#0079ff"/><stop offset="0.311" stop-color="#0070ff"/><stop offset="0.353" stop-color="#0040ff"/><stop offset="0.412" stop-color="#002cff"/><stop offset="0.420" stop-color="#002cff"/><stop offset="0.434" stop-color="#0064ff"/><stop offset="0.454" stop-color="#00c6ff"/><stop offset="0.462" stop-color="#00e2f9"/><stop offset="0.471" stop-color="#15ffe2"/><stop offset="0.485" stop-color="#31ffc6"/><stop offset="0.507" stop-color="#51ffa6"/><stop offset="0.613" stop-color="#84ff73"/><stop offset="0.706" stop-color="#c7ff30"/><stop offset="0.810" stop-color="#dbff1c"/><stop offset="1.000" stop-color="#deff19"/></linearGradient><linearGradient id="h34" x1="0" x2="1" y1="0" y2="0"><stop offset="0.000" stop-color="#00b0ff"/><stop offset="0.084" stop-color="#00acff"/><stop offset="0.140" stop-color="#008eff"/><stop offset="0.151" stop-color="#0086ff"/><stop offset="0.160" stop-color="#008cff"/><stop offset="0.193" stop-color="#0081ff"/><stop offset="0.280" stop-color="#007dff"/><stop offset="0.311" stop-color="#0074ff"/><stop offset="0.353" stop-color="#0044ff"/><stop offset="0.412" stop-color="#0030ff"/><stop offset="0.420" stop-color="#0030ff"/><stop offset="0.434" stop-color="#0067ff"/><stop offset="0.454" stop-color="#00c7ff"/><stop offset="0.462" stop-color="#00e3f9"/><stop offset="0.471" stop-color="#15ffe2"/><stop offset="0.485" stop-color="#31ffc5"/><stop offset="0.507" stop-color="#52ffa5"/><stop offset="0.613" stop-color="#84ff73"/><stop offset="0.706" stop-color="#c7ff30"/><stop offset="0.807" stop-color="#dbff1c"/><stop offset="1.000" stop-color="#deff19"/></linearGradient><linearGradient id="h35" x1="0" x2="1" y1="0" y2="0"><stop offset="0.000" stop-color="#00b5ff"/><stop offset="0.084" stop-color="#00b1ff"/><stop offset="0.143" stop-color="#0096ff"/><stop offset="0.154" stop-color="#0093ff"/><stop offset="0.179" stop-color="#008aff"/><stop offset="0.283" stop-color="#0081ff"/><stop offset="0.314" stop-color="#0075ff"/><stop offset="0.353" stop-color="#0049ff"/><stop offset="0.412" stop-color="#0036ff"/><stop offset="0.420" stop-color="#0036ff"/><stop offset="0.434" stop-color="#006aff"/><stop offset="0.451" stop-color="#00beff"/><stop offset="0.459" stop-color="#00daff"/><stop offset="0.465" stop-color="#06edf1"/><stop offset="0.471" stop-color="#15ffe2"/><stop offset="0.479" stop-color="#29ffce"/><stop offset="0.507" stop-color="#52ffa5"/><stop offset="0.613" stop-color="#84ff73"/><stop offset="0.706" stop-color="#c7ff30"/><stop offset="0.807" stop-color="#dbff1c"/><stop offset="1.000" stop-color="#deff18"/></linearGradient><linearGradient id="h36" x1="0" x2="1" y1="0" y2="0"><stop offset="0.000" stop-color="#00baff"/><stop offset="0.084" stop-color="#00b6ff"/><stop offset="0.143" stop-color="#009fff"/><stop offset="0.154" stop-color="#009dff"/><stop offset="0.196" stop-color="#008fff"/><stop offset="0.289" stop-color="#0084ff"/><stop offset="0.311" stop-color="#007cff"/><stop offset="0.356" stop-color="#004dff"/><stop offset="0.412" stop-color="#003bff"/><stop offset="0.420" stop-color="#003bff"/><stop offset="0.434" stop-color="#006eff"/><stop offset="0.454" stop-color="#00c8ff"/><stop offset="0.459" stop-color="#00dbff"/><stop offset="0.465" stop-color="#06edf1"/><stop offset="0.471" stop-color="#15ffe1"/><stop offset="0.479" stop-color="#29ffce"/><stop offset="0.507" stop-color="#52ffa4"/><stop offset="0.613" stop-color="#84ff73"/><stop offset="0.706" stop-color="#c7ff30"/><stop offset="0.807" stop-color="#dbff1c"/><stop offset="1.000" stop-color="#deff18"/></linearGradient><linearGradient id="h37" x1="0" x2="1" y1="0" y2="0"><stop offset="0.000" stop-color="#00beff"/><stop offset="0.087" stop-color="#00baff"/><stop offset="0.151" stop-color="#00a4ff"/><stop offset="0.165" stop-color="#00a2ff"/><stop offset="0.199" stop-color="#0096ff"/><stop offset="0.294" stop-color="#0087ff"/><stop offset="0.311" stop-color="#0080ff"/><stop offset="0.356" stop-color="#0052ff"/><stop offset="0.412" stop-color="#0040ff"/><stop offset="0.420" stop-color="#0040ff"/><stop offset="0.434" stop-color="#0071ff"/><stop offset="0.454" stop-color="#00c8ff"/><stop offset="0.459" stop-color="#00dbff"/><stop offset="0.465" stop-color="#07eef0"/><stop offset="0.471" stop-color="#16ffe1"/><stop offset="0.485" stop-color="#32ffc5"/><stop offset="0.507" stop-color="#53ffa4"/><stop offset="0.613" stop-color="#84ff73"/><stop offset="0.706" stop-color="#c7ff30"/><stop offset="0.807" stop-color="#dbff1c"/><stop offset="1.000" stop-color="#dfff18"/></linearGradient><linearGradient id="h38" x1="0" x2="1" y1="0" y2="0"><stop offset="0.000" stop-color="#00c3ff"/><stop offset="0.090" stop-color="#00bfff"/><stop offset="0.154" stop-color="#00aeff"/><stop offset="0.193" stop-color="#009eff"/><stop offset="0.303" stop-color="#0089ff"/><stop offset="0.322" stop-color="#0078ff"/><stop offset="0.356" stop-color="#0057ff"/><stop offset="0.412" stop-color="#0045ff"/><stop offset="0.420" stop-color="#0045ff"/><stop offset="0.434" stop-color="#0075ff"/><stop offset="0.454" stop-color="#00c9ff"/><stop offset="0.459" stop-color="#00dcff"/><stop offset="0.465" stop-color="#07eef0"/><stop offset="0.471" stop-color="#16ffe1"/><stop offset="0.485" stop-color="#32ffc4"/><stop offset="0.507" stop-color="#53ffa4"/><stop offset="0.613" stop-color="#84ff73"/><stop offset="0.706" stop-color="#c7ff30"/><stop offset="0.807" stop-color="#dbff1c"/><stop offset="1.000" stop-color="#dfff18"/></linearGradient><linearGradient id="h39" x1="0" x2="1" y1="0" y2="0"><stop offset="0.000" stop-color="#00c8ff"/><stop offset="0.095" stop-color="#00c3ff"/><stop offset="0.165" stop-color="#00b3ff"/><stop offset="0.193" stop-color="#00a5ff"/><stop offset="0.308" stop-color="#008cff"/><stop offset="0.356" stop-color="#005cff"/><stop offset="0.412" stop-color="#004aff"/><stop offset="0.420" stop-color="#004aff"/><stop offset="0.434" stop-color="#0078ff"/><stop offset="0.457" stop-color="#00d3ff"/><stop offset="0.462" stop-color="#00e5f7"/><stop offset="0.471" stop-color="#16ffe1"/><stop offset="0.485" stop-color="#33ffc4"/><stop offset="0.507" stop-color="#54ffa3"/><stop offset="0.613" stop-color="#84ff73"/><stop offset="0.706" stop-color="#c7ff30"/><stop offset="0.807" stop-color="#dbff1c"/><stop offset="1.000" stop-color="#dfff18"/></linearGradient><linearGradient id="h40" x1="0" x2="1" y1="0" y2="0"><stop offset="0.000" stop-color="#00cdff"/><stop offset="0.101" stop-color="#00c8ff"/><stop offset="0.162" stop-color="#00bdff"/><stop offset="0.193" stop-color="#00adff"/><stop offset="0.311" stop-color="#008dff"/><stop offset="0.356" stop-color="#0061ff"/><stop offset="0.412" stop-color="#004fff"/><stop offset="0.420" stop-color="#004fff"/><stop offset="0.434" stop-color="#007cff"/><stop offset="0.457" stop-color="#00d3ff"/><stop offset="0.462" stop-color="#00e6f6"/><stop offset="0.471" stop-color="#17ffe0"/><stop offset="0.485" stop-color="#33ffc4"/><stop offset="0.507" stop-color="#54ffa3"/><stop offset="0.613" stop-color="#84ff73"/><stop offset="0.706" stop-color="#c7ff30"/><stop offset="0.807" stop-color="#dbff1c"/><stop offset="1.000" stop-color="#dfff18"/></linearGradient><linearGradient id="h41" x1="0" x2="1" y1="0" y2="0"><stop offset="0.000" stop-color="#00d1ff"/><stop offset="0.126" stop-color="#00cbff"/><stop offset="0.162" stop-color="#00c5ff"/><stop offset="0.196" stop-color="#00b3ff"/><stop offset="0.311" stop-color="#0091ff"/><stop offset="0.356" stop-color="#0067ff"/><stop offset="0.412" stop-color="#0054ff"/><stop offset="0.420" stop-color="#0054ff"/><stop offset="0.434" stop-color="#007fff"/><stop offset="0.457" stop-color="#00d4ff"/><stop offset="0.462" stop-color="#01e6f6"/><stop offset="0.471" stop-color="#17ffe0"/><stop offset="0.485" stop-color="#33ffc4"/><stop offset="0.507" stop-color="#54ffa2"/><stop offset="0.613" stop-color="#84ff73"/><stop offset="0.706" stop-color="#c7ff30"/><stop offset="0.810" stop-color="#dbff1b"/><stop offset="1.000" stop-color="#dfff18"/></linearGradient><linearGradient id="h42" x1="0" x2="1" y1="0" y2="0"><stop offset="0.000" stop-color="#00d6ff"/><stop offset="0.160" stop-color="#00d0ff"/><stop offset="0.193" stop-color="#00bbff"/><stop offset="0.311" stop-color="#0095ff"/><stop offset="0.356" stop-color="#006cff"/><stop offset="0.412" stop-color="#0059ff"/><stop offset="0.420" stop-color="#0059ff"/><stop offset="0.437" stop-color="#008dff"/><stop offset="0.459" stop-color="#00defd"/><stop offset="0.465" stop-color="#08f0ee"/><stop offset="0.471" stop-color="#17ffe0"/><stop offset="0.485" stop-color="#34ffc3"/><stop offset="0.507" stop-color="#55ffa2"/><stop offset="0.611" stop-color="#82ff75"/><stop offset="0.706" stop-color="#c7ff30"/><stop offset="0.810" stop-color="#dbff1b"/><stop offset="1.000" stop-color="#dfff18"/></linearGradient><linearGradient id="h43" x1="0" x2="1" y1="0" y2="0"><stop offset="0.000" stop-color="#00dbff"/><stop offset="0.162" stop-color="#00d6ff"/><stop offset="0.193" stop-color="#00c3ff"/><stop offset="0.314" stop-color="#0097ff"/><stop offset="0.356" stop-color="#0071ff"/><stop offset="0.412" stop-color="#005eff"/><stop offset="0.420" stop-color="#005eff"/><stop offset="0.437" stop-color="#0090ff"/><stop offset="0.459" stop-color="#00defd"/><stop offset="0.465" stop-color="#09f0ee"/><stop offset="0.471" stop-color="#17ffdf"/><stop offset="0.485" stop-color="#34ffc3"/><stop offset="0.507" stop-color="#55ffa2"/><stop offset="0.611" stop-color="#82ff75"/><stop offset="0.706" stop-color="#c7ff30"/><stop offset="0.810" stop-color="#dbff1b"/><stop offset="1.000" stop-color="#dfff17"/></linearGradient><linearGradient id="h44" x1="0" x2="1" y1="0" y2="0"><stop offset="0.000" stop-color="#00defc"/><stop offset="0.162" stop-color="#00daff"/><stop offset="0.202" stop-color="#00c4ff"/><stop offset="0.314" stop-color="#009bff"/><stop offset="0.356" stop-color="#0076ff"/><stop offset="0.412" stop-color="#0064ff"/><stop offset="0.420" stop-color="#0064ff"/><stop offset="0.437" stop-color="#0093ff"/><stop offset="0.459" stop-color="#00dffc"/><stop offset="0.468" stop-color="#10fae6"/><stop offset="0.482" stop-color="#2fffc7"/><stop offset="0.507" stop-color="#56ffa1"/><stop offset="0.611" stop-color="#82ff75"/><stop offset="0.706" stop-color="#c7ff30"/><stop offset="0.810" stop-color="#dbff1b"/><stop offset="1.000" stop-color="#e0ff17"/></linearGradient><linearGradient id="h45" x1="0" x2="1" y1="0" y2="0"><stop offset="0.000" stop-color="#00e2fa"/><stop offset="0.162" stop-color="#00defd"/><stop offset="0.199" stop-color="#00c9ff"/><stop offset="0.314" stop-color="#009fff"/><stop offset="0.359" stop-color="#007aff"/><stop offset="0.415" stop-color="#006aff"/><stop offset="0.420" stop-color="#006aff"/><stop offset="0.437" stop-color="#0096ff"/><stop offset="0.459" stop-color="#00dffc"/><stop offset="0.468" stop-color="#11fae6"/><stop offset="0.482" stop-color="#30ffc7"/><stop offset="0.507" stop-color="#56ffa1"/><stop offset="0.611" stop-color="#82ff75"/><stop offset="0.706" stop-color="#c7ff30"/><stop offset="0.810" stop-color="#dbff1b"/><stop offset="1.000" stop-color="#e0ff17"/></linearGradient><linearGradient id="h46" x1="0" x2="1" y1="0" y2="0"><stop offset="0.000" stop-color="#00e5f7"/><stop offset="0.162" stop-color="#00e1fa"/><stop offset="0.202" stop-color="#00cdff"/><stop offset="0.314" stop-color="#00a3ff"/><stop offset="0.359" stop-color="#007fff"/><stop offset="0.415" stop-color="#0070ff"/><stop offset="0.423" stop-color="#0076ff"/><stop offset="0.437" stop-color="#0099ff"/><stop offset="0.459" stop-color="#00e0fb"/><stop offset="0.471" stop-color="#18ffdf"/><stop offset="0.485" stop-color="#35ffc2"/><stop offset="0.507" stop-color="#56ffa0"/><stop offset="0.611" stop-color="#82ff75"/><stop offset="0.706" stop-color="#c7ff30"/><stop offset="0.810" stop-color="#dbff1b"/><stop offset="1.000" stop-color="#e0ff17"/></linearGradient><linearGradient id="h47" x1="0" x2="1" y1="0" y2="0"><stop offset="0.000" stop-color="#03e9f4"/><stop offset="0.162" stop-color="#00e5f7"/><stop offset="0.190" stop-color="#00d4ff"/><stop offset="0.314" stop-color="#00a7ff"/><stop offset="0.359" stop-color="#0084ff"/><stop offset="0.417" stop-color="#0076ff"/><stop offset="0.429" stop-color="#0086ff"/><stop offset="0.459" stop-color="#00e0fb"/><stop offset="0.471" stop-color="#18ffde"/><stop offset="0.487" stop-color="#3affbd"/><stop offset="0.507" stop-color="#57ffa0"/><stop offset="0.611" stop-color="#82ff75"/><stop offset="0.706" stop-color="#c7ff30"/><stop offset="0.810" stop-color="#dcff1b"/><stop offset="1.000" stop-color="#e0ff17"/></linearGradient><linearGradient id="h48" x1="0" x2="1" y1="0" y2="0"><stop offset="0.000" stop-color="#05ecf1"/><stop offset="0.162" stop-color="#02e8f4"/><stop offset="0.193" stop-color="#00d8ff"/><stop offset="0.314" stop-color="#00acff"/><stop offset="0.359" stop-color="#0089ff"/><stop offset="0.417" stop-color="#007cff"/><stop offset="0.431" stop-color="#008fff"/><stop offset="0.457" stop-color="#00d8ff"/><stop offset="0.462" stop-color="#03eaf3"/><stop offset="0.471" stop-color="#19ffde"/><stop offset="0.504" stop-color="#56ffa1"/><stop offset="0.611" stop-color="#82ff75"/><stop offset="0.706" stop-color="#c7ff30"/><stop offset="0.810" stop-color="#dcff1b"/><stop offset="1.000" stop-color="#e0ff17"/></linearGradient><linearGradient id="h49" x1="0" x2="1" y1="0" y2="0"><stop offset="0.000" stop-color="#08f0ef"/><stop offset="0.162" stop-color="#05ecf1"/><stop offset="0.202" stop-color="#00d9ff"/><stop offset="0.317" stop-color="#00aeff"/><stop offset="0.359" stop-color="#008eff"/><stop offset="0.420" stop-color="#0083ff"/><stop offset="0.434" stop-color="#009aff"/><stop offset="0.457" stop-color="#00d9ff"/><stop offset="0.465" stop-color="#0bf3ec"/><stop offset="0.471" stop-color="#19ffde"/><stop offset="0.504" stop-color="#57ffa0"/><stop offset="0.611" stop-color="#82ff75"/><stop offset="0.706" stop-color="#c7ff30"/><stop offset="0.810" stop-color="#dcff1b"/><stop offset="1.000" stop-color="#e0ff17"/></linearGradient><linearGradient id="h50" x1="0" x2="1" y1="0" y2="0"><stop offset="0.000" stop-color="#0af2ed"/><stop offset="0.162" stop-color="#07efef"/><stop offset="0.202" stop-color="#00ddfe"/><stop offset="0.317" stop-color="#00b2ff"/><stop offset="0.361" stop-color="#0092ff"/><stop offset="0.420" stop-color="#0089ff"/><stop offset="0.434" stop-color="#009dff"/><stop offset="0.457" stop-color="#00dbff"/><stop offset="0.465" stop-color="#0cf4eb"/><stop offset="0.471" stop-color="#1affdd"/><stop offset="0.504" stop-color="#57ffa0"/><stop offset="0.611" stop-color="#81ff75"/><stop offset="0.706" stop-color="#c7ff30"/><stop offset="0.810" stop-color="#dcff1b"/><stop offset="1.000" stop-color="#e0ff16"/></linearGradient><linearGradient id="h51" x1="0" x2="1" y1="0" y2="0"><stop offset="0.000" stop-color="#0cf4eb"/><stop offset="0.165" stop-color="#08f0ef"/><stop offset="0.204" stop-color="#00e0fb"/><stop offset="0.317" stop-color="#00b6ff"/><stop offset="0.367" stop-color="#0095ff"/><stop offset="0.423" stop-color="#0091ff"/><stop offset="0.434" stop-color="#00a0ff"/><stop offset="0.457" stop-color="#00ddfe"/><stop offset="0.462" stop-color="#06edf1"/><stop offset="0.468" stop-color="#14fee3"/><stop offset="0.490" stop-color="#3fffb7"/><stop offset="0.507" stop-color="#58ff9e"/><stop offset="0.613" stop-color="#83ff74"/><stop offset="0.706" stop-color="#c7ff30"/><stop offset="0.810" stop-color="#dcff1b"/><stop offset="1.000" stop-color="#e0ff16"/></linearGradient><linearGradient id="h52" x1="0" x2="1" y1="0" y2="0"><stop offset="0.000" stop-color="#0df6e9"/><stop offset="0.165" stop-color="#0af2ed"/><stop offset="0.210" stop-color="#00e1fa"/><stop offset="0.308" stop-color="#00c1ff"/><stop offset="0.361" stop-color="#009dff"/><stop offset="0.406" stop-color="#0095ff"/><stop offset="0.431" stop-color="#009cff"/><stop offset="0.457" stop-color="#00defd"/><stop offset="0.468" stop-color="#14ffe3"/><stop offset="0.493" stop-color="#45ffb2"/><stop offset="0.507" stop-color="#59ff9e"/><stop offset="0.611" stop-color="#81ff76"/><stop offset="0.706" stop-color="#c7ff30"/><stop offset="0.810" stop-color="#dcff1b"/><stop offset="1.000" stop-color="#e1ff16"/></linearGradient><linearGradient id="h53" x1="0" x2="1" y1="0" y2="0"><stop offset="0.000" stop-color="#11fae6"/><stop offset="0.165" stop-color="#0ef6e9"/><stop offset="0.232" stop-color="#00e2fa"/><stop offset="0.319" stop-color="#00c1ff"/><stop offset="0.370" stop-color="#00a3ff"/><stop offset="0.431" stop-color="#00a3ff"/><stop offset="0.454" stop-color="#00daff"/><stop offset="0.462" stop-color="#09f1ee"/><stop offset="0.468" stop-color="#16ffe1"/><stop offset="0.504" stop-color="#59ff9e"/><stop offset="0.613" stop-color="#82ff75"/><stop offset="0.709" stop-color="#c5ff32"/><stop offset="0.807" stop-color="#dcff1b"/><stop offset="1.000" stop-color="#e1ff16"/></linearGradient><linearGradient id="h54" x1="0" x2="1" y1="0" y2="0"><stop offset="0.000" stop-color="#13fce4"/><stop offset="0.165" stop-color="#0ff9e7"/><stop offset="0.246" stop-color="#00e1fb"/><stop offset="0.317" stop-color="#00c8ff"/><stop offset="0.375" stop-color="#00a5ff"/><stop offset="0.431" stop-color="#00a7ff"/><stop offset="0.454" stop-color="#00dcff"/><stop offset="0.465" stop-color="#10fae7"/><stop offset="0.479" stop-color="#2dffca"/><stop offset="0.507" stop-color="#5aff9d"/><stop offset="0.613" stop-color="#82ff75"/><stop offset="0.709" stop-color="#c4ff33"/><stop offset="0.807" stop-color="#dcff1b"/><stop offset="1.000" stop-color="#e1ff16"/></linearGradient><linearGradient id="h55" x1="0" x2="1" y1="0" y2="0"><stop offset="0.000" stop-color="#14ffe3"/><stop offset="0.165" stop-color="#11fbe6"/><stop offset="0.255" stop-color="#00e1fa"/><stop offset="0.317" stop-color="#00ceff"/><stop offset="0.375" stop-color="#00a9ff"/><stop offset="0.431" stop-color="#00aaff"/><stop offset="0.454" stop-color="#00ddfd"/><stop offset="0.462" stop-color="#0bf3ec"/><stop offset="0.471" stop-color="#1dffda"/><stop offset="0.504" stop-color="#59ff9d"/><stop offset="0.613" stop-color="#81ff75"/><stop offset="0.709" stop-color="#c2ff35"/><stop offset="0.801" stop-color="#dbff1c"/><stop offset="1.000" stop-color="#e1ff16"/></linearGradient><linearGradient id="h56" x1="0" x2="1" y1="0" y2="0"><stop offset="0.000" stop-color="#17ffe0"/><stop offset="0.168" stop-color="#13fde4"/><stop offset="0.266" stop-color="#00e1fa"/><stop offset="0.317" stop-color="#00d3ff"/><stop offset="0.378" stop-color="#00abff"/><stop offset="0.431" stop-color="#00adff"/><stop offset="0.454" stop-color="#00dffc"/><stop offset="0.468" stop-color="#18ffdf"/><stop offset="0.507" stop-color="#5bff9c"/><stop offset="0.613" stop-color="#81ff76"/><stop offset="0.709" stop-color="#c1ff36"/><stop offset="0.801" stop-color="#dbff1c"/><stop offset="0.989" stop-color="#e1ff15"/><stop offset="1.000" stop-color="#e1ff15"/></linearGradient><linearGradient id="h57" x1="0" x2="1" y1="0" y2="0"><stop offset="0.000" stop-color="#1affdd"/><stop offset="0.165" stop-color="#16ffe1"/><stop offset="0.275" stop-color="#00e3f9"/><stop offset="0.317" stop-color="#00d8ff"/><stop offset="0.381" stop-color="#00afff"/><stop offset="0.431" stop-color="#00b1ff"/><stop offset="0.451" stop-color="#00daff"/><stop offset="0.459" stop-color="#08efef"/><stop offset="0.468" stop-color="#18ffde"/><stop offset="0.504" stop-color="#5aff9c"/><stop offset="0.611" stop-color="#7fff78"/><stop offset="0.711" stop-color="#c0ff37"/><stop offset="0.798" stop-color="#dbff1c"/><stop offset="0.992" stop-color="#e1ff15"/><stop offset="1.000" stop-color="#e1ff15"/></linearGradient><linearGradient id="h58" x1="0" x2="1" y1="0" y2="0"><stop offset="0.000" stop-color="#1cffda"/><stop offset="0.165" stop-color="#19ffde"/><stop offset="0.277" stop-color="#01e6f6"/><stop offset="0.314" stop-color="#00dffc"/><stop offset="0.381" stop-color="#00b3ff"/><stop offset="0.431" stop-color="#00b7ff"/><stop offset="0.451" stop-color="#00dcfe"/><stop offset="0.465" stop-color="#14fee3"/><stop offset="0.507" stop-color="#5cff9b"/><stop offset="0.613" stop-color="#80ff77"/><stop offset="0.711" stop-color="#beff38"/><stop offset="0.798" stop-color="#daff1d"/><stop offset="0.958" stop-color="#e2ff15"/><stop offset="1.000" stop-color="#e2ff15"/></linearGradient><linearGradient id="h59" x1="0" x2="1" y1="0" y2="0"><stop offset="0.000" stop-color="#1fffd8"/><stop offset="0.168" stop-color="#1bffdc"/><stop offset="0.272" stop-color="#04eaf3"/><stop offset="0.314" stop-color="#00e3f9"/><stop offset="0.347" stop-color="#00cbff"/><stop offset="0.384" stop-color="#00b7ff"/><stop offset="0.431" stop-color="#00bfff"/><stop offset="0.451" stop-color="#00defd"/><stop offset="0.462" stop-color="#10f9e7"/><stop offset="0.471" stop-color="#20ffd7"/><stop offset="0.504" stop-color="#5bff9b"/><stop offset="0.611" stop-color="#7eff79"/><stop offset="0.714" stop-color="#beff39"/><stop offset="0.801" stop-color="#d9ff1e"/><stop offset="0.941" stop-color="#e2ff15"/><stop offset="1.000" stop-color="#e2ff15"/></linearGradient><linearGradient id="h60" x1="0" x2="1" y1="0" y2="0"><stop offset="0.000" stop-color="#22ffd5"/><stop offset="0.168" stop-color="#1effd9"/><stop offset="0.224" stop-color="#0ef7e9"/><stop offset="0.286" stop-color="#05ecf1"/><stop offset="0.314" stop-color="#01e7f6"/><stop offset="0.342" stop-color="#00d4ff"/><stop offset="0.384" stop-color="#00bbff"/><stop offset="0.423" stop-color="#00c2ff"/><stop offset="0.451" stop-color="#00e0fb"/><stop offset="0.465" stop-color="#17ffe0"/><stop offset="0.507" stop-color="#5dff9a"/><stop offset="0.613" stop-color="#7fff78"/><stop offset="0.714" stop-color="#bcff3b"/><stop offset="0.807" stop-color="#d8ff1f"/><stop offset="0.927" stop-color="#e2ff15"/><stop offset="1.000" stop-color="#e2ff15"/></linearGradient><linearGradient id="h61" x1="0" x2="1" y1="0" y2="0"><stop offset="0.000" stop-color="#25ffd2"/><stop offset="0.168" stop-color="#21ffd6"/><stop offset="0.224" stop-color="#11fae6"/><stop offset="0.280" stop-color="#08f0ef"/><stop offset="0.317" stop-color="#03e9f4"/><stop offset="0.350" stop-color="#00d4ff"/><stop offset="0.384" stop-color="#00c1ff"/><stop offset="0.423" stop-color="#00c8ff"/><stop offset="0.448" stop-color="#00e0fb"/><stop offset="0.459" stop-color="#0ef6e9"/><stop offset="0.468" stop-color="#1dffd9"/><stop offset="0.504" stop-color="#5cff9a"/><stop offset="0.613" stop-color="#7fff78"/><stop offset="0.714" stop-color="#baff3d"/><stop offset="0.810" stop-color="#d7ff20"/><stop offset="0.919" stop-color="#e2ff15"/><stop offset="1.000" stop-color="#e2ff15"/></linearGradient><linearGradient id="h62" x1="0" x2="1" y1="0" y2="0"><stop offset="0.000" stop-color="#28ffcf"/><stop offset="0.168" stop-color="#24ffd3"/><stop offset="0.235" stop-color="#11fae6"/><stop offset="0.314" stop-color="#07eef0"/><stop offset="0.345" stop-color="#00dcfe"/><stop offset="0.387" stop-color="#00c9ff"/><stop offset="0.423" stop-color="#00d0ff"/><stop offset="0.451" stop-color="#00e4f8"/><stop offset="0.462" stop-color="#14ffe2"/><stop offset="0.504" stop-color="#5dff9a"/><stop offset="0.613" stop-color="#7eff79"/><stop offset="0.714" stop-color="#b8ff3e"/><stop offset="0.810" stop-color="#d6ff21"/><stop offset="0.913" stop-color="#e2ff15"/><stop offset="1.000" stop-color="#e2ff15"/></linearGradient><linearGradient id="h63" x1="0" x2="1" y1="0" y2="0"><stop offset="0.000" stop-color="#2bffcc"/><stop offset="0.168" stop-color="#27ffd0"/><stop offset="0.244" stop-color="#11fbe5"/><stop offset="0.317" stop-color="#09f0ee"/><stop offset="0.350" stop-color="#00defd"/><stop offset="0.389" stop-color="#00d1ff"/><stop offset="0.423" stop-color="#00d7ff"/><stop offset="0.443" stop-color="#00e5f7"/><stop offset="0.451" stop-color="#01e7f5"/><stop offset="0.462" stop-color="#16ffe1"/><stop offset="0.504" stop-color="#5eff99"/><stop offset="0.613" stop-color="#7eff79"/><stop offset="0.720" stop-color="#b9ff3e"/><stop offset="0.812" stop-color="#d5ff22"/><stop offset="0.913" stop-color="#e2ff15"/><stop offset="1.000" stop-color="#e2ff15"/></linearGradient><linearGradient id="h64" x1="0" x2="1" y1="0" y2="0"><stop offset="0.000" stop-color="#2dffc9"/><stop offset="0.168" stop-color="#29ffcd"/><stop offset="0.272" stop-color="#11fae6"/><stop offset="0.319" stop-color="#0bf3ec"/><stop offset="0.359" stop-color="#00e0fb"/><stop offset="0.403" stop-color="#00d9ff"/><stop offset="0.426" stop-color="#00e1fa"/><stop offset="0.451" stop-color="#04ebf3"/><stop offset="0.462" stop-color="#18ffdf"/><stop offset="0.507" stop-color="#5fff98"/><stop offset="0.613" stop-color="#7dff79"/><stop offset="0.717" stop-color="#b6ff41"/><stop offset="0.812" stop-color="#d3ff24"/><stop offset="0.908" stop-color="#e0ff17"/><stop offset="1.000" stop-color="#e0ff17"/></linearGradient><linearGradient id="h65" x1="0" x2="1" y1="0" y2="0"><stop offset="0.000" stop-color="#30ffc6"/><stop offset="0.168" stop-color="#2cffca"/><stop offset="0.269" stop-color="#14fee3"/><stop offset="0.317" stop-color="#0ff8e8"/><stop offset="0.370" stop-color="#00e3f8"/><stop offset="0.426" stop-color="#01e6f6"/><stop offset="0.451" stop-color="#07eef0"/><stop offset="0.459" stop-color="#15ffe1"/><stop offset="0.504" stop-color="#5fff98"/><stop offset="0.613" stop-color="#7dff7a"/><stop offset="0.717" stop-color="#b4ff43"/><stop offset="0.821" stop-color="#d3ff24"/><stop offset="0.913" stop-color="#dfff18"/><stop offset="1.000" stop-color="#dfff18"/></linearGradient><linearGradient id="h66" x1="0" x2="1" y1="0" y2="0"><stop offset="0.000" stop-color="#36ffc1"/><stop offset="0.168" stop-color="#32ffc5"/><stop offset="0.272" stop-color="#19ffde"/><stop offset="0.325" stop-color="#11fbe5"/><stop offset="0.378" stop-color="#05ecf2"/><stop offset="0.431" stop-color="#0af1ed"/><stop offset="0.451" stop-color="#0cf5ea"/><stop offset="0.459" stop-color="#1affdd"/><stop offset="0.504" stop-color="#60ff97"/><stop offset="0.613" stop-color="#7cff7b"/><stop offset="0.723" stop-color="#b3ff44"/><stop offset="0.832" stop-color="#d2ff25"/><stop offset="0.910" stop-color="#dcff1b"/><stop offset="1.000" stop-color="#dcff1b"/></linearGradient><linearGradient id="h67" x1="0" x2="1" y1="0" y2="0"><stop offset="0.000" stop-color="#3cffbb"/><stop offset="0.168" stop-color="#38ffbf"/><stop offset="0.269" stop-color="#1fffd8"/><stop offset="0.325" stop-color="#17ffe0"/><stop offset="0.378" stop-color="#0cf4eb"/><stop offset="0.437" stop-color="#10f9e7"/><stop offset="0.454" stop-color="#16ffe1"/><stop offset="0.507" stop-color="#61ff95"/><stop offset="0.613" stop-color="#7bff7c"/><stop offset="0.725" stop-color="#b0ff47"/><stop offset="0.843" stop-color="#d1ff26"/><stop offset="0.913" stop-color="#d9ff1d"/><stop offset="1.000" stop-color="#d9ff1d"/></linearGradient><linearGradient id="h68" x1="0" x2="1" y1="0" y2="0"><stop offset="0.000" stop-color="#42ffb5"/><stop offset="0.168" stop-color="#3effb9"/><stop offset="0.269" stop-color="#24ffd3"/><stop offset="0.325" stop-color="#1dffda"/><stop offset="0.378" stop-color="#12fce5"/><stop offset="0.451" stop-color="#17ffdf"/><stop offset="0.507" stop-color="#62ff94"/><stop offset="0.616" stop-color="#7cff7b"/><stop offset="0.734" stop-color="#afff48"/><stop offset="0.874" stop-color="#d5ff22"/><stop offset="1.000" stop-color="#d7ff20"/></linearGradient><linearGradient id="h69" x1="0" x2="1" y1="0" y2="0"><stop offset="0.000" stop-color="#4affad"/><stop offset="0.168" stop-color="#46ffb1"/><stop offset="0.266" stop-color="#2dffca"/><stop offset="0.325" stop-color="#25ffd2"/><stop offset="0.378" stop-color="#1cffdb"/><stop offset="0.451" stop-color="#20ffd7"/><stop offset="0.507" stop-color="#64ff93"/><stop offset="0.616" stop-color="#7aff7d"/><stop offset="0.754" stop-color="#b1ff46"/><stop offset="0.896" stop-color="#d2ff24"/><stop offset="1.000" stop-color="#d2ff24"/></linearGradient><linearGradient id="h70" x1="0" x2="1" y1="0" y2="0"><stop offset="0.000" stop-color="#51ffa6"/><stop offset="0.174" stop-color="#4dffaa"/><stop offset="0.266" stop-color="#35ffc2"/><stop offset="0.331" stop-color="#2cffcb"/><stop offset="0.389" stop-color="#26ffd1"/><stop offset="0.454" stop-color="#2bffcc"/><stop offset="0.507" stop-color="#66ff91"/><stop offset="0.619" stop-color="#7aff7d"/><stop offset="0.768" stop-color="#b1ff46"/><stop offset="0.896" stop-color="#ceff28"/><stop offset="1.000" stop-color="#ceff28"/></linearGradient><linearGradient id="h71" x1="0" x2="1" y1="0" y2="0"><stop offset="0.000" stop-color="#56ffa1"/><stop offset="0.174" stop-color="#52ffa5"/><stop offset="0.272" stop-color="#3affbd"/><stop offset="0.339" stop-color="#30ffc7"/><stop offset="0.454" stop-color="#31ffc6"/><stop offset="0.501" stop-color="#63ff94"/><stop offset="0.622" stop-color="#7dff7a"/><stop offset="0.770" stop-color="#afff48"/><stop offset="0.899" stop-color="#cbff2c"/><stop offset="1.000" stop-color="#cbff2c"/></linearGradient><linearGradient id="h72" x1="0" x2="1" y1="0" y2="0"><stop offset="0.000" stop-color="#5bff9c"/><stop offset="0.176" stop-color="#57ffa0"/><stop offset="0.266" stop-color="#40ffb7"/><stop offset="0.333" stop-color="#38ffbf"/><stop offset="0.454" stop-color="#37ffc0"/><stop offset="0.510" stop-color="#68ff8e"/><stop offset="0.627" stop-color="#80ff77"/><stop offset="0.770" stop-color="#acff4b"/><stop offset="0.899" stop-color="#c7ff30"/><stop offset="1.000" stop-color="#c7ff30"/></linearGradient><linearGradient id="h73" x1="0" x2="1" y1="0" y2="0"><stop offset="0.000" stop-color="#60ff97"/><stop offset="0.182" stop-color="#5cff9b"/><stop offset="0.266" stop-color="#46ffb1"/><stop offset="0.336" stop-color="#3effb9"/><stop offset="0.454" stop-color="#3dffba"/><stop offset="0.510" stop-color="#69ff8d"/><stop offset="0.636" stop-color="#84ff72"/><stop offset="0.804" stop-color="#b1ff46"/><stop offset="0.899" stop-color="#c3ff34"/><stop offset="1.000" stop-color="#c3ff34"/></linearGradient><linearGradient id="h74" x1="0" x2="1" y1="0" y2="0"><stop offset="0.000" stop-color="#65ff92"/><stop offset="0.185" stop-color="#61ff96"/><stop offset="0.263" stop-color="#4bffab"/><stop offset="0.333" stop-color="#45ffb2"/><stop offset="0.457" stop-color="#45ffb2"/><stop offset="0.510" stop-color="#6bff8c"/><stop offset="0.669" stop-color="#8fff68"/><stop offset="0.896" stop-color="#bfff38"/><stop offset="1.000" stop-color="#bfff38"/></linearGradient><linearGradient id="h75" x1="0" x2="1" y1="0" y2="0"><stop offset="0.000" stop-color="#6cff8b"/><stop offset="0.190" stop-color="#68ff8f"/><stop offset="0.266" stop-color="#54ffa3"/><stop offset="0.331" stop-color="#50ffa7"/><stop offset="0.429" stop-color="#4bffac"/><stop offset="0.465" stop-color="#52ffa5"/><stop offset="0.513" stop-color="#6eff89"/><stop offset="0.896" stop-color="#b9ff3d"/><stop offset="1.000" stop-color="#b9ff3d"/></linearGradient><linearGradient id="h76" x1="0" x2="1" y1="0" y2="0"><stop offset="0.000" stop-color="#71ff86"/><stop offset="0.193" stop-color="#6dff8a"/><stop offset="0.269" stop-color="#5bff9c"/><stop offset="0.342" stop-color="#54ffa3"/><stop offset="0.459" stop-color="#55ffa1"/><stop offset="0.501" stop-color="#6eff88"/><stop offset="0.896" stop-color="#b6ff41"/><stop offset="1.000" stop-color="#b6ff41"/></linearGradient><linearGradient id="h77" x1="0" x2="1" y1="0" y2="0"><stop offset="0.000" stop-color="#76ff81"/><stop offset="0.196" stop-color="#72ff85"/><stop offset="0.266" stop-color="#62ff95"/><stop offset="0.412" stop-color="#59ff9e"/><stop offset="0.473" stop-color="#5fff98"/><stop offset="0.513" stop-color="#76ff81"/><stop offset="0.882" stop-color="#b2ff45"/><stop offset="1.000" stop-color="#b2ff45"/></linearGradient><linearGradient id="h78" x1="0" x2="1" y1="0" y2="0"><stop offset="0.000" stop-color="#7bff7c"/><stop offset="0.199" stop-color="#77ff80"/><stop offset="0.269" stop-color="#68ff8e"/><stop offset="0.451" stop-color="#62ff95"/><stop offset="0.482" stop-color="#68ff8f"/><stop offset="0.513" stop-color="#7aff7c"/><stop offset="0.882" stop-color="#b1ff46"/><stop offset="1.000" stop-color="#b1ff46"/></linearGradient><linearGradient id="h79" x1="0" x2="1" y1="0" y2="0"><stop offset="0.000" stop-color="#80ff77"/><stop offset="0.199" stop-color="#7cff7b"/><stop offset="0.275" stop-color="#6fff88"/><stop offset="0.479" stop-color="#6aff8d"/><stop offset="0.510" stop-color="#7eff78"/><stop offset="0.891" stop-color="#b1ff46"/><stop offset="1.000" stop-color="#b1ff46"/></linearGradient><linearGradient id="h80" x1="0" x2="1" y1="0" y2="0"><stop offset="0.000" stop-color="#85ff72"/><stop offset="0.202" stop-color="#81ff76"/><stop offset="0.280" stop-color="#76ff81"/><stop offset="0.462" stop-color="#71ff86"/><stop offset="0.479" stop-color="#6fff88"/><stop offset="0.513" stop-color="#83ff74"/><stop offset="0.695" stop-color="#9dff5a"/><stop offset="0.924" stop-color="#b1ff46"/><stop offset="1.000" stop-color="#b1ff46"/></linearGradient><linearGradient id="h81" x1="0" x2="1" y1="0" y2="0"><stop offset="0.000" stop-color="#8aff6d"/><stop offset="0.204" stop-color="#86ff71"/><stop offset="0.289" stop-color="#7dff79"/><stop offset="0.459" stop-color="#7aff7d"/><stop offset="0.479" stop-color="#75ff82"/><stop offset="0.510" stop-color="#87ff70"/><stop offset="0.655" stop-color="#99ff5e"/><stop offset="0.765" stop-color="#a6ff51"/><stop offset="0.938" stop-color="#b1ff46"/><stop offset="1.000" stop-color="#b1ff46"/></linearGradient><linearGradient id="h82" x1="0" x2="1" y1="0" y2="0"><stop offset="0.000" stop-color="#8fff68"/><stop offset="0.213" stop-color="#8bff6c"/><stop offset="0.381" stop-color="#86ff71"/><stop offset="0.457" stop-color="#83ff74"/><stop offset="0.479" stop-color="#7bff7c"/><stop offset="0.513" stop-color="#8bff6b"/><stop offset="0.633" stop-color="#98ff5f"/><stop offset="0.725" stop-color="#a6ff51"/><stop offset="0.961" stop-color="#b1ff46"/><stop offset="1.000" stop-color="#b1ff46"/></linearGradient><linearGradient id="h83" x1="0" x2="1" y1="0" y2="0"><stop offset="0.000" stop-color="#94ff63"/><stop offset="0.244" stop-color="#8fff68"/><stop offset="0.457" stop-color="#8bff6c"/><stop offset="0.479" stop-color="#81ff76"/><stop offset="0.515" stop-color="#90ff67"/><stop offset="0.630" stop-color="#9aff5d"/><stop offset="0.717" stop-color="#a9ff4e"/><stop offset="0.852" stop-color="#aeff49"/><stop offset="1.000" stop-color="#b1ff46"/></linearGradient><linearGradient id="h84" x1="0" x2="1" y1="0" y2="0"><stop offset="0.000" stop-color="#99ff5e"/><stop offset="0.457" stop-color="#92ff64"/><stop offset="0.479" stop-color="#87ff70"/><stop offset="0.515" stop-color="#94ff63"/><stop offset="0.622" stop-color="#9bff5c"/><stop offset="0.711" stop-color="#acff4a"/><stop offset="0.832" stop-color="#acff4a"/><stop offset="1.000" stop-color="#b1ff46"/></linearGradient><linearGradient id="h85" x1="0" x2="1" y1="0" y2="0"><stop offset="0.000" stop-color="#9eff59"/><stop offset="0.457" stop-color="#9aff5d"/><stop offset="0.479" stop-color="#8dff6a"/><stop offset="0.518" stop-color="#98ff5f"/><stop offset="0.622" stop-color="#9eff59"/><stop offset="0.714" stop-color="#b0ff47"/><stop offset="0.815" stop-color="#acff4b"/><stop offset="1.000" stop-color="#b2ff45"/></linearGradient><linearGradient id="h86" x1="0" x2="1" y1="0" y2="0"><stop offset="0.000" stop-color="#a6ff51"/><stop offset="0.457" stop-color="#a2ff55"/><stop offset="0.479" stop-color="#96ff61"/><stop offset="0.524" stop-color="#9fff58"/><stop offset="0.625" stop-color="#a6ff51"/><stop offset="0.711" stop-color="#b5ff41"/><stop offset="0.821" stop-color="#b2ff45"/><stop offset="1.000" stop-color="#b7ff40"/></linearGradient><linearGradient id="h87" x1="0" x2="1" y1="0" y2="0"><stop offset="0.000" stop-color="#aeff49"/><stop offset="0.457" stop-color="#aaff4c"/><stop offset="0.479" stop-color="#9fff58"/><stop offset="0.580" stop-color="#a8ff4f"/><stop offset="0.714" stop-color="#baff3c"/><stop offset="0.818" stop-color="#b7ff3f"/><stop offset="1.000" stop-color="#bcff3b"/></linearGradient><linearGradient id="h88" x1="0" x2="1" y1="0" y2="0"><stop offset="0.000" stop-color="#b6ff40"/><stop offset="0.457" stop-color="#b3ff44"/><stop offset="0.482" stop-color="#a8ff4f"/><stop offset="0.655" stop-color="#b9ff3e"/><stop offset="0.723" stop-color="#bfff38"/><stop offset="0.860" stop-color="#bfff38"/><stop offset="1.000" stop-color="#c0ff36"/></linearGradient><linearGradient id="h89" x1="0" x2="1" y1="0" y2="0"><stop offset="0.000" stop-color="#bfff38"/><stop offset="0.457" stop-color="#bbff3c"/><stop offset="0.482" stop-color="#b0ff47"/><stop offset="0.678" stop-color="#c2ff35"/><stop offset="0.770" stop-color="#c1ff35"/><stop offset="1.000" stop-color="#c5ff31"/></linearGradient><linearGradient id="h90" x1="0" x2="1" y1="0" y2="0"><stop offset="0.000" stop-color="#c8ff2f"/><stop offset="0.457" stop-color="#c5ff32"/><stop offset="0.482" stop-color="#b9ff3d"/><stop offset="0.737" stop-color="#cbff2c"/><stop offset="1.000" stop-color="#cdff2a"/></linearGradient><linearGradient id="h91" x1="0" x2="1" y1="0" y2="0"><stop offset="0.000" stop-color="#d0ff27"/><stop offset="0.459" stop-color="#ccff2b"/><stop offset="0.485" stop-color="#c4ff33"/><stop offset="0.754" stop-color="#d2ff25"/><stop offset="1.000" stop-color="#d5ff22"/></linearGradient><linearGradient id="h92" x1="0" x2="1" y1="0" y2="0"><stop offset="0.000" stop-color="#d7ff1f"/><stop offset="0.459" stop-color="#d4ff23"/><stop offset="0.490" stop-color="#cdff29"/><stop offset="0.894" stop-color="#ddff1a"/><stop offset="1.000" stop-color="#ddff1a"/></linearGradient><linearGradient id="h93" x1="0" x2="1" y1="0" y2="0"><stop offset="0.000" stop-color="#dfff18"/><stop offset="0.462" stop-color="#dbff1c"/><stop offset="0.608" stop-color="#dbff1c"/><stop offset="0.992" stop-color="#e4ff13"/><stop offset="1.000" stop-color="#e4ff13"/></linearGradient><linearGradient id="h94" x1="0" x2="1" y1="0" y2="0"><stop offset="0.000" stop-color="#e3ff13"/><stop offset="0.473" stop-color="#dfff17"/><stop offset="1.000" stop-color="#e9ff0e"/></linearGradient><linearGradient id="h95" x1="0" x2="1" y1="0" y2="0"><stop offset="0.000" stop-color="#e5ff12"/><stop offset="0.748" stop-color="#ebff0c"/><stop offset="1.000" stop-color="#edff0a"/></linearGradient><linearGradient id="h96" x1="0" x2="1" y1="0" y2="0"><stop offset="0.000" stop-color="#e1ff16"/><stop offset="0.515" stop-color="#e5ff12"/><stop offset="0.936" stop-color="#eaff0d"/><stop offset="1.000" stop-color="#eaff0d"/></linearGradient><linearGradient id="h97" x1="0" x2="1" y1="0" y2="0"><stop offset="0.000" stop-color="#d7ff20"/><stop offset="0.465" stop-color="#dbff1c"/><stop offset="0.779" stop-color="#e9ff0e"/><stop offset="1.000" stop-color="#e9ff0e"/></linearGradient><linearGradient id="h98" x1="0" x2="1" y1="0" y2="0"><stop offset="0.000" stop-color="#cfff28"/><stop offset="0.459" stop-color="#d2ff24"/><stop offset="0.499" stop-color="#d9ff1e"/><stop offset="0.919" stop-color="#e5ff12"/><stop offset="1.000" stop-color="#e5ff12"/></linearGradient><linearGradient id="h99" x1="0" x2="1" y1="0" y2="0"><stop offset="0.000" stop-color="#c7ff30"/><stop offset="0.459" stop-color="#cbff2c"/><stop offset="0.487" stop-color="#d4ff23"/><stop offset="0.966" stop-color="#deff19"/><stop offset="1.000" stop-color="#deff19"/></linearGradient><linearGradient id="h100" x1="0" x2="1" y1="0" y2="0"><stop offset="0.000" stop-color="#beff38"/><stop offset="0.457" stop-color="#c2ff34"/><stop offset="0.482" stop-color="#d0ff27"/><stop offset="1.000" stop-color="#d9ff1e"/></linearGradient><linearGradient id="h101" x1="0" x2="1" y1="0" y2="0"><stop offset="0.000" stop-color="#b5ff42"/><stop offset="0.454" stop-color="#b7ff40"/><stop offset="0.482" stop-color="#c9ff2e"/><stop offset="0.773" stop-color="#d3ff24"/><stop offset="1.000" stop-color="#d4ff23"/></linearGradient><linearGradient id="h102" x1="0" x2="1" y1="0" y2="0"><stop offset="0.000" stop-color="#acff4b"/><stop offset="0.454" stop-color="#aeff49"/><stop offset="0.482" stop-color="#c1ff36"/><stop offset="0.773" stop-color="#ccff2b"/><stop offset="1.000" stop-color="#cdff2a"/></linearGradient><linearGradient id="h103" x1="0" x2="1" y1="0" y2="0"><stop offset="0.000" stop-color="#a2ff55"/><stop offset="0.454" stop-color="#a5ff52"/><stop offset="0.479" stop-color="#baff3d"/><stop offset="0.678" stop-color="#bfff37"/><stop offset="0.913" stop-color="#c6ff31"/><stop offset="1.000" stop-color="#c6ff31"/></linearGradient><linearGradient id="h104" x1="0" x2="1" y1="0" y2="0"><stop offset="0.000" stop-color="#98ff5e"/><stop offset="0.454" stop-color="#9bff5b"/><stop offset="0.479" stop-color="#b2ff44"/><stop offset="0.658" stop-color="#b8ff3f"/><stop offset="0.938" stop-color="#bfff38"/><stop offset="1.000" stop-color="#bfff38"/></linearGradient><linearGradient id="h105" x1="0" x2="1" y1="0" y2="0"><stop offset="0.000" stop-color="#94ff63"/><stop offset="0.454" stop-color="#97ff60"/><stop offset="0.479" stop-color="#afff48"/><stop offset="0.655" stop-color="#b5ff42"/><stop offset="0.770" stop-color="#b9ff3e"/><stop offset="1.000" stop-color="#baff3c"/></linearGradient><linearGradient id="h106" x1="0" x2="1" y1="0" y2="0"><stop offset="0.000" stop-color="#8fff68"/><stop offset="0.454" stop-color="#92ff65"/><stop offset="0.479" stop-color="#aaff4d"/><stop offset="0.655" stop-color="#b0ff46"/><stop offset="1.000" stop-color="#b5ff42"/></linearGradient><linearGradient id="h107" x1="0" x2="1" y1="0" y2="0"><stop offset="0.000" stop-color="#89ff6e"/><stop offset="0.454" stop-color="#8dff6a"/><stop offset="0.479" stop-color="#a4ff53"/><stop offset="0.678" stop-color="#abff4c"/><stop offset="1.000" stop-color="#afff48"/></linearGradient><linearGradient id="h108" x1="0" x2="1" y1="0" y2="0"><stop offset="0.000" stop-color="#83ff74"/><stop offset="0.454" stop-color="#89ff6e"/><stop offset="0.479" stop-color="#9eff59"/><stop offset="0.700" stop-color="#a7ff50"/><stop offset="1.000" stop-color="#a9ff4e"/></linearGradient><linearGradient id="h109" x1="0" x2="1" y1="0" y2="0"><stop offset="0.000" stop-color="#7cff7a"/><stop offset="0.451" stop-color="#83ff74"/><stop offset="0.482" stop-color="#98ff5f"/><stop offset="0.745" stop-color="#a3ff54"/><stop offset="1.000" stop-color="#a3ff53"/></linearGradient><linearGradient id="h110" x1="0" x2="1" y1="0" y2="0"><stop offset="0.000" stop-color="#76ff81"/><stop offset="0.429" stop-color="#7eff79"/><stop offset="0.457" stop-color="#83ff74"/><stop offset="0.482" stop-color="#92ff64"/><stop offset="0.745" stop-color="#9dff5a"/><stop offset="1.000" stop-color="#9dff5a"/></linearGradient><linearGradient id="h111" x1="0" x2="1" y1="0" y2="0"><stop offset="0.000" stop-color="#70ff87"/><stop offset="0.347" stop-color="#76ff81"/><stop offset="0.457" stop-color="#7fff78"/><stop offset="0.485" stop-color="#8dff6a"/><stop offset="0.765" stop-color="#97ff60"/><stop offset="1.000" stop-color="#97ff60"/></linearGradient><linearGradient id="h112" x1="0" x2="1" y1="0" y2="0"><stop offset="0.000" stop-color="#69ff8e"/><stop offset="0.300" stop-color="#6fff88"/><stop offset="0.457" stop-color="#7bff7c"/><stop offset="0.490" stop-color="#87ff6f"/><stop offset="0.734" stop-color="#90ff67"/><stop offset="1.000" stop-color="#90ff67"/></linearGradient><linearGradient id="h113" x1="0" x2="1" y1="0" y2="0"><stop offset="0.000" stop-color="#63ff94"/><stop offset="0.280" stop-color="#68ff8f"/><stop offset="0.459" stop-color="#77ff80"/><stop offset="0.521" stop-color="#84ff73"/><stop offset="0.950" stop-color="#8aff6d"/><stop offset="1.000" stop-color="#8aff6d"/></linearGradient><linearGradient id="h114" x1="0" x2="1" y1="0" y2="0"><stop offset="0.000" stop-color="#57ff9f"/><stop offset="0.244" stop-color="#5cff9a"/><stop offset="0.501" stop-color="#79ff7e"/><stop offset="0.664" stop-color="#83ff74"/><stop offset="1.000" stop-color="#83ff74"/></linearGradient><linearGradient id="h115" x1="0" x2="1" y1="0" y2="0"><stop offset="0.000" stop-color="#4cffab"/><stop offset="0.244" stop-color="#51ffa6"/><stop offset="0.426" stop-color="#6aff8d"/><stop offset="0.655" stop-color="#7aff7d"/><stop offset="1.000" stop-color="#7aff7d"/></linearGradient><linearGradient id="h116" x1="0" x2="1" y1="0" y2="0"><stop offset="0.000" stop-color="#41ffb6"/><stop offset="0.249" stop-color="#46ffb1"/><stop offset="0.454" stop-color="#68ff8f"/><stop offset="0.493" stop-color="#65ff91"/><stop offset="0.650" stop-color="#70ff86"/><stop offset="1.000" stop-color="#70ff86"/></linearGradient><linearGradient id="h117" x1="0" x2="1" y1="0" y2="0"><stop offset="0.000" stop-color="#36ffc1"/><stop offset="0.252" stop-color="#3bffbc"/><stop offset="0.423" stop-color="#5eff98"/><stop offset="0.457" stop-color="#62ff95"/><stop offset="0.485" stop-color="#5bff9c"/><stop offset="0.653" stop-color="#67ff8f"/><stop offset="1.000" stop-color="#67ff8f"/></linearGradient><linearGradient id="h118" x1="0" x2="1" y1="0" y2="0"><stop offset="0.000" stop-color="#2affcd"/><stop offset="0.244" stop-color="#2fffc8"/><stop offset="0.423" stop-color="#53ffa4"/><stop offset="0.454" stop-color="#5cff9b"/><stop offset="0.482" stop-color="#51ffa5"/><stop offset="0.647" stop-color="#5eff99"/><stop offset="1.000" stop-color="#5eff99"/></linearGradient><linearGradient id="h119" x1="0" x2="1" y1="0" y2="0"><stop offset="0.000" stop-color="#20ffd7"/><stop offset="0.252" stop-color="#25ffd2"/><stop offset="0.423" stop-color="#48ffaf"/><stop offset="0.454" stop-color="#51ffa6"/><stop offset="0.482" stop-color="#48ffaf"/><stop offset="0.647" stop-color="#55ffa2"/><stop offset="1.000" stop-color="#55ffa2"/></linearGradient><linearGradient id="h120" x1="0" x2="1" y1="0" y2="0"><stop offset="0.000" stop-color="#16ffe0"/><stop offset="0.252" stop-color="#1bffdb"/><stop offset="0.412" stop-color="#39ffbe"/><stop offset="0.457" stop-color="#45ffb2"/><stop offset="0.487" stop-color="#40ffb7"/><stop offset="0.650" stop-color="#4cffab"/><stop offset="1.000" stop-color="#4cffab"/></linearGradient><linearGradient id="h121" x1="0" x2="1" y1="0" y2="0"><stop offset="0.000" stop-color="#0df6ea"/><stop offset="0.252" stop-color="#11fbe5"/><stop offset="0.420" stop-color="#30ffc7"/><stop offset="0.457" stop-color="#3affbd"/><stop offset="0.504" stop-color="#3affbd"/><stop offset="0.675" stop-color="#43ffb4"/><stop offset="1.000" stop-color="#43ffb4"/></linearGradient><linearGradient id="h122" x1="0" x2="1" y1="0" y2="0"><stop offset="0.000" stop-color="#05ecf2"/><stop offset="0.255" stop-color="#09f1ed"/><stop offset="0.361" stop-color="#18ffde"/><stop offset="0.462" stop-color="#2fffc8"/><stop offset="0.667" stop-color="#3affbd"/><stop offset="1.000" stop-color="#3affbd"/></linearGradient><linearGradient id="h123" x1="0" x2="1" y1="0" y2="0"><stop offset="0.000" stop-color="#00e1fa"/><stop offset="0.249" stop-color="#01e6f6"/><stop offset="0.417" stop-color="#1bffdc"/><stop offset="0.468" stop-color="#25ffd2"/><stop offset="0.653" stop-color="#32ffc5"/><stop offset="1.000" stop-color="#32ffc5"/></linearGradient><linearGradient id="h124" x1="0" x2="1" y1="0" y2="0"><stop offset="0.000" stop-color="#00d3ff"/><stop offset="0.221" stop-color="#00d7ff"/><stop offset="0.359" stop-color="#06edf1"/><stop offset="0.448" stop-color="#1bffdc"/><stop offset="0.650" stop-color="#29ffcd"/><stop offset="1.000" stop-color="#29ffcd"/></linearGradient><linearGradient id="h125" x1="0" x2="1" y1="0" y2="0"><stop offset="0.000" stop-color="#00c5ff"/><stop offset="0.224" stop-color="#00c9ff"/><stop offset="0.353" stop-color="#00e2fa"/><stop offset="0.440" stop-color="#0ff8e8"/><stop offset="0.543" stop-color="#1bffdb"/><stop offset="0.711" stop-color="#21ffd6"/><stop offset="1.000" stop-color="#21ffd6"/></linearGradient><linearGradient id="h126" x1="0" x2="1" y1="0" y2="0"><stop offset="0.000" stop-color="#00b7ff"/><stop offset="0.227" stop-color="#00bbff"/><stop offset="0.398" stop-color="#00e1fb"/><stop offset="0.468" stop-color="#09f1ee"/><stop offset="0.608" stop-color="#18ffdf"/><stop offset="1.000" stop-color="#18ffdf"/></linearGradient><linearGradient id="h127" x1="0" x2="1" y1="0" y2="0"><stop offset="0.000" stop-color="#00a8ff"/><stop offset="0.221" stop-color="#00acff"/><stop offset="0.403" stop-color="#00d4ff"/><stop offset="0.457" stop-color="#00e6f6"/><stop offset="0.518" stop-color="#05ecf1"/><stop offset="0.650" stop-color="#0ef7e9"/><stop offset="1.000" stop-color="#0ef7e9"/></linearGradient><linearGradient id="h128" x1="0" x2="1" y1="0" y2="0"><stop offset="0.000" stop-color="#0093ff"/><stop offset="0.210" stop-color="#0097ff"/><stop offset="0.300" stop-color="#00adff"/><stop offset="0.420" stop-color="#00ccff"/><stop offset="0.457" stop-color="#00daff"/><stop offset="0.493" stop-color="#00daff"/><stop offset="0.630" stop-color="#04eaf3"/><stop offset="1.000" stop-color="#04eaf3"/></linearGradient><linearGradient id="h129" x1="0" x2="1" y1="0" y2="0"><stop offset="0.000" stop-color="#007dff"/><stop offset="0.207" stop-color="#0081ff"/><stop offset="0.277" stop-color="#0092ff"/><stop offset="0.429" stop-color="#00c3ff"/><stop offset="0.459" stop-color="#00cbff"/><stop offset="0.496" stop-color="#00cdff"/><stop offset="0.633" stop-color="#00ddfe"/><stop offset="1.000" stop-color="#00ddfe"/></linearGradient><linearGradient id="h130" x1="0" x2="1" y1="0" y2="0"><stop offset="0.000" stop-color="#0068ff"/><stop offset="0.210" stop-color="#006cff"/><stop offset="0.283" stop-color="#007eff"/><stop offset="0.423" stop-color="#00b1ff"/><stop offset="0.459" stop-color="#00bdff"/><stop offset="0.496" stop-color="#00bfff"/><stop offset="0.633" stop-color="#00cfff"/><stop offset="1.000" stop-color="#00cfff"/></linearGradient><linearGradient id="h131" x1="0" x2="1" y1="0" y2="0"><stop offset="0.000" stop-color="#0052ff"/><stop offset="0.207" stop-color="#0056ff"/><stop offset="0.277" stop-color="#0067ff"/><stop offset="0.403" stop-color="#0094ff"/><stop offset="0.448" stop-color="#00aeff"/><stop offset="0.496" stop-color="#00b1ff"/><stop offset="0.630" stop-color="#00c1ff"/><stop offset="1.000" stop-color="#00c1ff"/></linearGradient><linearGradient id="h132" x1="0" x2="1" y1="0" y2="0"><stop offset="0.000" stop-color="#003dff"/><stop offset="0.210" stop-color="#0041ff"/><stop offset="0.283" stop-color="#0053ff"/><stop offset="0.406" stop-color="#0080ff"/><stop offset="0.454" stop-color="#009dff"/><stop offset="0.485" stop-color="#009dff"/><stop offset="0.616" stop-color="#00b3ff"/><stop offset="1.000" stop-color="#00b3ff"/></linearGradient><linearGradient id="h133" x1="0" x2="1" y1="0" y2="0"><stop offset="0.000" stop-color="#0027ff"/><stop offset="0.207" stop-color="#002bff"/><stop offset="0.277" stop-color="#003cff"/><stop offset="0.395" stop-color="#0065ff"/><stop offset="0.454" stop-color="#0088ff"/><stop offset="0.487" stop-color="#0088ff"/><stop offset="0.619" stop-color="#00a4ff"/><stop offset="1.000" stop-color="#00a4ff"/></linearGradient><linearGradient id="h134" x1="0" x2="1" y1="0" y2="0"><stop offset="0.000" stop-color="#0012ff"/><stop offset="0.210" stop-color="#0016ff"/><stop offset="0.280" stop-color="#0027ff"/><stop offset="0.406" stop-color="#0055ff"/><stop offset="0.454" stop-color="#0072ff"/><stop offset="0.487" stop-color="#0073ff"/><stop offset="0.619" stop-color="#008fff"/><stop offset="1.000" stop-color="#008fff"/></linearGradient><linearGradient id="h135" x1="0" x2="1" y1="0" y2="0"><stop offset="0.000" stop-color="#0000ff"/><stop offset="0.232" stop-color="#0004ff"/><stop offset="0.389" stop-color="#0038ff"/><stop offset="0.454" stop-color="#005dff"/><stop offset="0.485" stop-color="#005dff"/><stop offset="0.616" stop-color="#0079ff"/><stop offset="1.000" stop-color="#0079ff"/></linearGradient><linearGradient id="h136" x1="0" x2="1" y1="0" y2="0"><stop offset="0.000" stop-color="#0000f3"/><stop offset="0.207" stop-color="#0000f7"/><stop offset="0.291" stop-color="#0001ff"/><stop offset="0.403" stop-color="#0029ff"/><stop offset="0.454" stop-color="#0047ff"/><stop offset="0.487" stop-color="#0048ff"/><stop offset="0.619" stop-color="#0064ff"/><stop offset="1.000" stop-color="#0064ff"/></linearGradient><linearGradient id="h137" x1="0" x2="1" y1="0" y2="0"><stop offset="0.000" stop-color="#0000d9"/><stop offset="0.204" stop-color="#0000dd"/><stop offset="0.275" stop-color="#0000f0"/><stop offset="0.319" stop-color="#0000ff"/><stop offset="0.373" stop-color="#0005ff"/><stop offset="0.431" stop-color="#0027ff"/><stop offset="0.459" stop-color="#0031ff"/><stop offset="0.487" stop-color="#0032ff"/><stop offset="0.619" stop-color="#004fff"/><stop offset="1.000" stop-color="#004fff"/></linearGradient><linearGradient id="h138" x1="0" x2="1" y1="0" y2="0"><stop offset="0.000" stop-color="#0000bf"/><stop offset="0.202" stop-color="#0000c3"/><stop offset="0.272" stop-color="#0000d6"/><stop offset="0.389" stop-color="#0000ff"/><stop offset="0.420" stop-color="#0007ff"/><stop offset="0.451" stop-color="#001dff"/><stop offset="0.485" stop-color="#001bff"/><stop offset="0.619" stop-color="#0039ff"/><stop offset="1.000" stop-color="#0039ff"/></linearGradient><linearGradient id="h139" x1="0" x2="1" y1="0" y2="0"><stop offset="0.000" stop-color="#0000a4"/><stop offset="0.204" stop-color="#0000a8"/><stop offset="0.275" stop-color="#0000bc"/><stop offset="0.345" stop-color="#0000d8"/><stop offset="0.426" stop-color="#0000ff"/><stop offset="0.462" stop-color="#0005ff"/><stop offset="0.490" stop-color="#0007ff"/><stop offset="0.619" stop-color="#0023ff"/><stop offset="1.000" stop-color="#0023ff"/></linearGradient><linearGradient id="h140" x1="0" x2="1" y1="0" y2="0"><stop offset="0.000" stop-color="#000088"/><stop offset="0.204" stop-color="#00008c"/><stop offset="0.272" stop-color="#00009f"/><stop offset="0.347" stop-color="#0000bf"/><stop offset="0.423" stop-color="#0000e9"/><stop offset="0.451" stop-color="#0000ff"/><stop offset="0.479" stop-color="#0000f8"/><stop offset="0.510" stop-color="#0000ff"/><stop offset="0.574" stop-color="#0006ff"/><stop offset="0.639" stop-color="#000dff"/><stop offset="1.000" stop-color="#000dff"/></linearGradient><linearGradient id="h141" x1="0" x2="1" y1="0" y2="0"><stop offset="0.000" stop-color="#000080"/><stop offset="0.263" stop-color="#000084"/><stop offset="0.384" stop-color="#0000b5"/><stop offset="0.454" stop-color="#0000e5"/><stop offset="0.479" stop-color="#0000db"/><stop offset="0.574" stop-color="#0000fd"/><stop offset="1.000" stop-color="#0000ff"/></linearGradient><linearGradient id="h142" x1="0" x2="1" y1="0" y2="0"><stop offset="0.000" stop-color="#000080"/><stop offset="0.331" stop-color="#000084"/><stop offset="0.384" stop-color="#000099"/><stop offset="0.429" stop-color="#0000bc"/><stop offset="0.454" stop-color="#0000cb"/><stop offset="0.479" stop-color="#0000be"/><stop offset="0.574" stop-color="#0000e0"/><stop offset="0.630" stop-color="#0000e8"/><stop offset="1.000" stop-color="#0000e8"/></linearGradient><linearGradient id="h143" x1="0" x2="1" y1="0" y2="0"><stop offset="0.000" stop-color="#000080"/><stop offset="0.389" stop-color="#000084"/><stop offset="0.426" stop-color="#00009d"/><stop offset="0.454" stop-color="#0000b0"/><stop offset="0.479" stop-color="#0000a2"/><stop offset="0.605" stop-color="#0000cb"/><stop offset="1.000" stop-color="#0000cb"/></linearGradient><linearGradient id="h144" x1="0" x2="1" y1="0" y2="0"><stop offset="0.000" stop-color="#000080"/><stop offset="0.426" stop-color="#000084"/><stop offset="0.454" stop-color="#000095"/><stop offset="0.487" stop-color="#000093"/><stop offset="0.619" stop-color="#0000ae"/><stop offset="1.000" stop-color="#0000ae"/></linearGradient><linearGradient id="h145" x1="0" x2="1" y1="0" y2="0"><stop offset="0.000" stop-color="#000080"/><stop offset="0.493" stop-color="#000084"/><stop offset="0.625" stop-color="#000098"/><stop offset="1.000" stop-color="#000098"/></linearGradient></defs>
<g shape-rendering="crispEdges"><rect x="200" y="167.5" width="714" height="3.6" fill="url(#h0)"/><rect x="200" y="170.5" width="714" height="3.6" fill="url(#h1)"/><rect x="200" y="173.5" width="714" height="3.6" fill="url(#h2)"/><rect x="200" y="176.5" width="714" height="3.6" fill="url(#h3)"/><rect x="200" y="179.5" width="714" height="2.6" fill="url(#h4)"/><rect x="200" y="181.5" width="714" height="2.6" fill="url(#h5)"/><rect x="200" y="183.5" width="714" height="2.6" fill="url(#h6)"/><rect x="200" y="185.5" width="714" height="2.6" fill="url(#h7)"/><rect x="200" y="187.5" width="714" height="2.6" fill="url(#h8)"/><rect x="200" y="189.5" width="714" height="2.6" fill="url(#h9)"/><rect x="200" y="191.5" width="714" height="1.6" fill="url(#h10)"/><rect x="200" y="192.5" width="714" height="1.6" fill="url(#h11)"/><rect x="200" y="193.5" width="714" height="1.6" fill="url(#h12)"/><rect x="200" y="194.5" width="714" height="1.6" fill="url(#h13)"/><rect x="200" y="195.5" width="714" height="1.6" fill="url(#h14)"/><rect x="200" y="196.5" width="714" height="1.6" fill="url(#h15)"/><rect x="200" y="197.5" width="714" height="1.6" fill="url(#h16)"/><rect x="200" y="198.5" width="714" height="1.6" fill="url(#h17)"/><rect x="200" y="199.5" width="714" height="1.6" fill="url(#h18)"/><rect x="200" y="200.5" width="714" height="1.6" fill="url(#h19)"/><rect x="200" y="201.5" width="714" height="1.6" fill="url(#h20)"/><rect x="200" y="202.5" width="714" height="1.6" fill="url(#h21)"/><rect x="200" y="203.5" width="714" height="1.6" fill="url(#h22)"/><rect x="200" y="204.5" width="714" height="1.6" fill="url(#h23)"/><rect x="200" y="205.5" width="714" height="1.6" fill="url(#h24)"/><rect x="200" y="206.5" width="714" height="1.6" fill="url(#h25)"/><rect x="200" y="207.5" width="714" height="1.6" fill="url(#h26)"/><rect x="200" y="208.5" width="714" height="1.6" fill="url(#h27)"/><rect x="200" y="209.5" width="714" height="1.6" fill="url(#h28)"/><rect x="200" y="210.5" width="714" height="1.6" fill="url(#h29)"/><rect x="200" y="211.5" width="714" height="1.6" fill="url(#h30)"/><rect x="200" y="212.5" width="714" height="1.6" fill="url(#h31)"/><rect x="200" y="213.5" width="714" height="1.6" fill="url(#h32)"/><rect x="200" y="214.5" width="714" height="1.6" fill="url(#h33)"/><rect x="200" y="215.5" width="714" height="1.6" fill="url(#h34)"/><rect x="200" y="216.5" width="714" height="1.6" fill="url(#h35)"/><rect x="200" y="217.5" width="714" height="1.6" fill="url(#h36)"/><rect x="200" y="218.5" width="714" height="1.6" fill="url(#h37)"/><rect x="200" y="219.5" width="714" height="1.6" fill="url(#h38)"/><rect x="200" y="220.5" width="714" height="1.6" fill="url(#h39)"/><rect x="200" y="221.5" width="714" height="1.6" fill="url(#h40)"/><rect x="200" y="222.5" width="714" height="1.6" fill="url(#h41)"/><rect x="200" y="223.5" width="714" height="1.6" fill="url(#h42)"/><rect x="200" y="224.5" width="714" height="1.6" fill="url(#h43)"/><rect x="200" y="225.5" width="714" height="1.6" fill="url(#h44)"/><rect x="200" y="226.5" width="714" height="1.6" fill="url(#h45)"/><rect x="200" y="227.5" width="714" height="1.6" fill="url(#h46)"/><rect x="200" y="228.5" width="714" height="1.6" fill="url(#h47)"/><rect x="200" y="229.5" width="714" height="1.6" fill="url(#h48)"/><rect x="200" y="230.5" width="714" height="1.6" fill="url(#h49)"/><rect x="200" y="231.5" width="714" height="1.6" fill="url(#h50)"/><rect x="200" y="232.5" width="714" height="1.6" fill="url(#h51)"/><rect x="200" y="233.5" width="714" height="1.6" fill="url(#h52)"/><rect x="200" y="234.5" width="714" height="2.6" fill="url(#h53)"/><rect x="200" y="236.5" width="714" height="1.6" fill="url(#h54)"/><rect x="200" y="237.5" width="714" height="1.6" fill="url(#h55)"/><rect x="200" y="238.5" width="714" height="1.6" fill="url(#h56)"/><rect x="200" y="239.5" width="714" height="1.6" fill="url(#h57)"/><rect x="200" y="240.5" width="714" height="1.6" fill="url(#h58)"/><rect x="200" y="241.5" width="714" height="1.6" fill="url(#h59)"/><rect x="200" y="242.5" width="714" height="1.6" fill="url(#h60)"/><rect x="200" y="243.5" width="714" height="1.6" fill="url(#h61)"/><rect x="200" y="244.5" width="714" height="1.6" fill="url(#h62)"/><rect x="200" y="245.5" width="714" height="1.6" fill="url(#h63)"/><rect x="200" y="246.5" width="714" height="1.6" fill="url(#h64)"/><rect x="200" y="247.5" width="714" height="1.6" fill="url(#h65)"/><rect x="200" y="248.5" width="714" height="2.6" fill="url(#h66)"/><rect x="200" y="250.5" width="714" height="2.6" fill="url(#h67)"/><rect x="200" y="252.5" width="714" height="3.6" fill="url(#h68)"/><rect x="200" y="255.5" width="714" height="3.6" fill="url(#h69)"/><rect x="200" y="258.5" width="714" height="2.6" fill="url(#h70)"/><rect x="200" y="260.5" width="714" height="2.6" fill="url(#h71)"/><rect x="200" y="262.5" width="714" height="2.6" fill="url(#h72)"/><rect x="200" y="264.5" width="714" height="2.6" fill="url(#h73)"/><rect x="200" y="266.5" width="714" height="3.6" fill="url(#h74)"/><rect x="200" y="269.5" width="714" height="2.6" fill="url(#h75)"/><rect x="200" y="271.5" width="714" height="2.6" fill="url(#h76)"/><rect x="200" y="273.5" width="714" height="2.6" fill="url(#h77)"/><rect x="200" y="275.5" width="714" height="2.6" fill="url(#h78)"/><rect x="200" y="277.5" width="714" height="2.6" fill="url(#h79)"/><rect x="200" y="279.5" width="714" height="2.6" fill="url(#h80)"/><rect x="200" y="281.5" width="714" height="2.6" fill="url(#h81)"/><rect x="200" y="283.5" width="714" height="2.6" fill="url(#h82)"/><rect x="200" y="285.5" width="714" height="2.6" fill="url(#h83)"/><rect x="200" y="287.5" width="714" height="2.6" fill="url(#h84)"/><rect x="200" y="289.5" width="714" height="3.6" fill="url(#h85)"/><rect x="200" y="292.5" width="714" height="3.6" fill="url(#h86)"/><rect x="200" y="295.5" width="714" height="3.6" fill="url(#h87)"/><rect x="200" y="298.5" width="714" height="3.6" fill="url(#h88)"/><rect x="200" y="301.5" width="714" height="3.6" fill="url(#h89)"/><rect x="200" y="304.5" width="714" height="4.6" fill="url(#h90)"/><rect x="200" y="308.5" width="714" height="4.6" fill="url(#h91)"/><rect x="200" y="312.5" width="714" height="4.6" fill="url(#h92)"/><rect x="200" y="316.5" width="714" height="5.6" fill="url(#h93)"/><rect x="200" y="321.5" width="714" height="6.6" fill="url(#h94)"/><rect x="200" y="327.5" width="714" height="6.6" fill="url(#h95)"/><rect x="200" y="333.5" width="714" height="6.6" fill="url(#h96)"/><rect x="200" y="339.5" width="714" height="3.6" fill="url(#h97)"/><rect x="200" y="342.5" width="714" height="3.6" fill="url(#h98)"/><rect x="200" y="345.5" width="714" height="2.6" fill="url(#h99)"/><rect x="200" y="347.5" width="714" height="2.6" fill="url(#h100)"/><rect x="200" y="349.5" width="714" height="2.6" fill="url(#h101)"/><rect x="200" y="351.5" width="714" height="2.6" fill="url(#h102)"/><rect x="200" y="353.5" width="714" height="2.6" fill="url(#h103)"/><rect x="200" y="355.5" width="714" height="2.6" fill="url(#h104)"/><rect x="200" y="357.5" width="714" height="1.6" fill="url(#h105)"/><rect x="200" y="358.5" width="714" height="1.6" fill="url(#h106)"/><rect x="200" y="359.5" width="714" height="1.6" fill="url(#h107)"/><rect x="200" y="360.5" width="714" height="1.6" fill="url(#h108)"/><rect x="200" y="361.5" width="714" height="1.6" fill="url(#h109)"/><rect x="200" y="362.5" width="714" height="1.6" fill="url(#h110)"/><rect x="200" y="363.5" width="714" height="1.6" fill="url(#h111)"/><rect x="200" y="364.5" width="714" height="1.6" fill="url(#h112)"/><rect x="200" y="365.5" width="714" height="1.6" fill="url(#h113)"/><rect x="200" y="366.5" width="714" height="1.6" fill="url(#h114)"/><rect x="200" y="367.5" width="714" height="1.6" fill="url(#h115)"/><rect x="200" y="368.5" width="714" height="1.6" fill="url(#h116)"/><rect x="200" y="369.5" width="714" height="1.6" fill="url(#h117)"/><rect x="200" y="370.5" width="714" height="1.6" fill="url(#h118)"/><rect x="200" y="371.5" width="714" height="1.6" fill="url(#h119)"/><rect x="200" y="372.5" width="714" height="1.6" fill="url(#h120)"/><rect x="200" y="373.5" width="714" height="1.6" fill="url(#h121)"/><rect x="200" y="374.5" width="714" height="1.6" fill="url(#h122)"/><rect x="200" y="375.5" width="714" height="1.6" fill="url(#h123)"/><rect x="200" y="376.5" width="714" height="1.6" fill="url(#h124)"/><rect x="200" y="377.5" width="714" height="1.6" fill="url(#h125)"/><rect x="200" y="378.5" width="714" height="1.6" fill="url(#h126)"/><rect x="200" y="379.5" width="714" height="1.6" fill="url(#h127)"/><rect x="200" y="380.5" width="714" height="1.6" fill="url(#h128)"/><rect x="200" y="381.5" width="714" height="1.6" fill="url(#h129)"/><rect x="200" y="382.5" width="714" height="1.6" fill="url(#h130)"/><rect x="200" y="383.5" width="714" height="1.6" fill="url(#h131)"/><rect x="200" y="384.5" width="714" height="1.6" fill="url(#h132)"/><rect x="200" y="385.5" width="714" height="1.6" fill="url(#h133)"/><rect x="200" y="386.5" width="714" height="1.6" fill="url(#h134)"/><rect x="200" y="387.5" width="714" height="1.6" fill="url(#h135)"/><rect x="200" y="388.5" width="714" height="1.6" fill="url(#h136)"/><rect x="200" y="389.5" width="714" height="1.6" fill="url(#h137)"/><rect x="200" y="390.5" width="714" height="1.6" fill="url(#h138)"/><rect x="200" y="391.5" width="714" height="1.6" fill="url(#h139)"/><rect x="200" y="392.5" width="714" height="1.6" fill="url(#h140)"/><rect x="200" y="393.5" width="714" height="1.6" fill="url(#h141)"/><rect x="200" y="394.5" width="714" height="1.6" fill="url(#h142)"/><rect x="200" y="395.5" width="714" height="1.6" fill="url(#h143)"/><rect x="200" y="396.5" width="714" height="1.6" fill="url(#h144)"/><rect x="200" y="397.5" width="714" height="1.6" fill="url(#h145)"/><rect x="200" y="398.5" width="714" height="6.6" fill="#000080"/><rect x="200" y="404.5" width="714" height="6.6" fill="#000080"/><rect x="200" y="410.5" width="714" height="6.6" fill="#000080"/><rect x="200" y="416.5" width="714" height="6.6" fill="#000080"/><rect x="200" y="422.5" width="714" height="6.6" fill="#000080"/><rect x="200" y="428.5" width="714" height="6.6" fill="#000080"/><rect x="200" y="434.5" width="714" height="6.6" fill="#000080"/><rect x="200" y="440.5" width="714" height="6.6" fill="#000080"/><rect x="200" y="446.5" width="714" height="6.6" fill="#000080"/><rect x="200" y="452.5" width="714" height="2.6" fill="#000080"/></g>
<g clip-path="url(#clipH)">
<path d="M201,225.6 205,222 209,218.5 213,217.5 217,217 220,215 222.5,210 224.5,204.5 226.5,199.5 229,197.7 231.5,198.5 235,200.8 239.5,198.8 243.5,197.5 247,202 249.5,207 252,213 255,216 259,216.5 263,217 266,221 269,225 272.5,228 276,229 279.65,229.2 283.25,229.2 287.25,228.3 290.25,225.6 294.25,222 298.25,218.5 302.25,217.5 306.25,217 309.25,215 311.75,210 313.75,204.5 315.75,199.5 318.25,197.7 320.75,198.5 324.25,200.8 328.75,198.8 332.75,197.5 336.25,202 338.75,207 341.25,213 344.25,216 348.25,216.5 352.25,217 355.25,221 358.25,225 361.75,228 365.25,229 368.9,229.2 372.5,229.2 376.5,228.3 379.5,225.6 383.5,222 387.5,218.5 391.5,217.5 395.5,217 398.5,215 401,210 403,204.5 405,199.5 407.5,197.7 410,198.5 413.5,200.8 418,198.8 422,197.5 425.5,202 428,207 430.5,213 433.5,216 437.5,216.5 441.5,217 444.5,221 447.5,225 451,228 454.5,229 458.15,229.2 461.75,229.2 465.75,228.3 468.75,225.6 472.75,222 476.75,218.5 480.75,217.5 484.75,217 487.75,215 490.25,210 492.25,204.5 494.25,199.5 496.75,197.7 499.25,198.5 502.75,200.8 507.25,198.8 511.25,197.5 514.75,202 517.25,207 519.75,213 522.75,216 526.75,216.5 530.75,217 533.75,221 536.75,225 540.25,228 543.75,229 547.4,229.2 551,229.2 555,228.3 558,225.6 562,222 566,218.5 570,217.5 574,217 577,215 579.5,210 581.5,204.5 583.5,199.5 586,197.7 588.5,198.5 592,200.8 596.5,198.8 600.5,197.5 604,202 606.5,207 609,213 612,216 616,216.5 620,217 623,221 626,225 629.5,228 633,229 636.65,229.2 640.25,229.2 644.25,228.3 647.25,225.6 651.25,222 655.25,218.5 659.25,217.5 663.25,217 666.25,215 668.75,210 670.75,204.5 672.75,199.5 675.25,197.7 677.75,198.5 681.25,200.8 685.75,198.8 689.75,197.5 693.25,202 695.75,207 698.25,213 701.25,216 705.25,216.5 709.25,217 712.25,221 715.25,225 718.75,228 722.25,229 725.9,229.2 729.5,229.2 733.5,228.3 736.5,225.6 740.5,222 744.5,218.5 748.5,217.5 752.5,217 755.5,215 758,210 760,204.5 762,199.5 764.5,197.7 767,198.5 770.5,200.8 775,198.8 779,197.5 782.5,202 785,207 787.5,213 790.5,216 794.5,216.5 798.5,217 801.5,221 804.5,225 808,228 811.5,229 815.15,229.2 818.75,229.2 822.75,228.3 825.75,225.6 829.75,222 833.75,218.5 837.75,217.5 841.75,217 844.75,215 847.25,210 849.25,204.5 851.25,199.5 853.75,197.7 856.25,198.5 859.75,200.8 864.25,198.8 868.25,197.5 871.75,202 874.25,207 876.75,213 879.75,216 883.75,216.5 887.75,217 890.75,221 893.75,225 897.25,228 900.75,229 904.4,229.2 908,229.2 912,228.3 915,225.6" fill="none" stroke="#000" stroke-width="2.1" stroke-linejoin="round" stroke-dasharray="6.2 3.6" stroke-linecap="butt"/>
</g>
<text transform="translate(888.5,287.5) rotate(-90)" font-size="63.5" text-anchor="middle" fill="#000" fill-opacity="0.13">Forecast</text>
<line x1="825" y1="111" x2="825" y2="454" stroke="#1f77b4" stroke-width="2" stroke-dasharray="2 3.4"/>
<rect x="233.9" y="111" width="4" height="9" fill="#000"/>
<rect x="276.2" y="111" width="4" height="9" fill="#f00"/>
<text x="235.9" y="139.2" font-size="14" text-anchor="middle" fill="#000">M</text>
<text x="278.2" y="139.2" font-size="14" text-anchor="middle" fill="#f00">N</text>
<rect x="323.15" y="111" width="4" height="9" fill="#000"/>
<rect x="365.45" y="111" width="4" height="9" fill="#f00"/>
<text x="325.15" y="139.2" font-size="14" text-anchor="middle" fill="#000">M</text>
<text x="367.45" y="139.2" font-size="14" text-anchor="middle" fill="#f00">N</text>
<rect x="412.4" y="111" width="4" height="9" fill="#000"/>
<rect x="454.7" y="111" width="4" height="9" fill="#f00"/>
<text x="414.4" y="139.2" font-size="14" text-anchor="middle" fill="#000">M</text>
<text x="456.7" y="139.2" font-size="14" text-anchor="middle" fill="#f00">N</text>
<rect x="501.65" y="111" width="4" height="9" fill="#000"/>
<rect x="543.95" y="111" width="4" height="9" fill="#f00"/>
<text x="503.65" y="139.2" font-size="14" text-anchor="middle" fill="#000">M</text>
<text x="545.95" y="139.2" font-size="14" text-anchor="middle" fill="#f00">N</text>
<rect x="590.9" y="111" width="4" height="9" fill="#000"/>
<rect x="633.2" y="111" width="4" height="9" fill="#f00"/>
<text x="592.9" y="139.2" font-size="14" text-anchor="middle" fill="#000">M</text>
<text x="635.2" y="139.2" font-size="14" text-anchor="middle" fill="#f00">N</text>
<rect x="680.15" y="111" width="4" height="9" fill="#000"/>
<rect x="722.45" y="111" width="4" height="9" fill="#f00"/>
<text x="682.15" y="139.2" font-size="14" text-anchor="middle" fill="#000">M</text>
<text x="724.45" y="139.2" font-size="14" text-anchor="middle" fill="#f00">N</text>
<rect x="769.4" y="111" width="4" height="9" fill="#000"/>
<rect x="811.7" y="111" width="4" height="9" fill="#f00"/>
<text x="771.4" y="139.2" font-size="14" text-anchor="middle" fill="#000">M</text>
<text x="813.7" y="139.2" font-size="14" text-anchor="middle" fill="#f00">N</text>
<defs><linearGradient id="cbar" x1="0" x2="0" y1="1" y2="0"><stop offset="0.000" stop-color="#000080"/><stop offset="0.025" stop-color="#00009c"/><stop offset="0.050" stop-color="#0000b9"/><stop offset="0.075" stop-color="#0000d6"/><stop offset="0.100" stop-color="#0000f3"/><stop offset="0.125" stop-color="#0000ff"/><stop offset="0.150" stop-color="#0019ff"/><stop offset="0.175" stop-color="#0033ff"/><stop offset="0.200" stop-color="#004dff"/><stop offset="0.225" stop-color="#0066ff"/><stop offset="0.250" stop-color="#0080ff"/><stop offset="0.275" stop-color="#0099ff"/><stop offset="0.300" stop-color="#00b2ff"/><stop offset="0.325" stop-color="#00ccff"/><stop offset="0.350" stop-color="#00e5f7"/><stop offset="0.375" stop-color="#15ffe2"/><stop offset="0.400" stop-color="#29ffce"/><stop offset="0.425" stop-color="#3effb9"/><stop offset="0.450" stop-color="#52ffa5"/><stop offset="0.475" stop-color="#67ff90"/><stop offset="0.500" stop-color="#7bff7b"/><stop offset="0.525" stop-color="#90ff67"/><stop offset="0.550" stop-color="#a5ff52"/><stop offset="0.575" stop-color="#b9ff3e"/><stop offset="0.600" stop-color="#ceff29"/><stop offset="0.625" stop-color="#e2ff15"/><stop offset="0.650" stop-color="#f7f600"/><stop offset="0.675" stop-color="#ffde00"/><stop offset="0.700" stop-color="#ffc600"/><stop offset="0.725" stop-color="#ffaf00"/><stop offset="0.750" stop-color="#ff9700"/><stop offset="0.775" stop-color="#ff8000"/><stop offset="0.800" stop-color="#ff6800"/><stop offset="0.825" stop-color="#ff5000"/><stop offset="0.850" stop-color="#ff3900"/><stop offset="0.875" stop-color="#ff2100"/><stop offset="0.900" stop-color="#f30900"/><stop offset="0.925" stop-color="#d60000"/><stop offset="0.950" stop-color="#b90000"/><stop offset="0.975" stop-color="#9c0000"/><stop offset="1.000" stop-color="#800000"/></linearGradient></defs>
<rect x="959" y="110" width="17" height="345" fill="url(#cbar)"/>
<line x1="976" y1="455.5" x2="982" y2="455.5" stroke="#000" stroke-width="1"/>
<text x="987" y="462.6" font-size="19" text-anchor="start" fill="#000">1<tspan dx="0.8">0</tspan><tspan dx="0.3" dy="-6.6" font-size="13.3">0</tspan></text>
<line x1="976" y1="397.5" x2="982" y2="397.5" stroke="#000" stroke-width="1"/>
<text x="987" y="405.1" font-size="19" text-anchor="start" fill="#000">1<tspan dx="0.8">0</tspan><tspan dx="0.3" dy="-6.6" font-size="13.3">1</tspan></text>
<line x1="976" y1="340.5" x2="982" y2="340.5" stroke="#000" stroke-width="1"/>
<text x="987" y="347.6" font-size="19" text-anchor="start" fill="#000">1<tspan dx="0.8">0</tspan><tspan dx="0.3" dy="-6.6" font-size="13.3">2</tspan></text>
<line x1="976" y1="282.5" x2="982" y2="282.5" stroke="#000" stroke-width="1"/>
<text x="987" y="290.1" font-size="19" text-anchor="start" fill="#000">1<tspan dx="0.8">0</tspan><tspan dx="0.3" dy="-6.6" font-size="13.3">3</tspan></text>
<line x1="976" y1="225.5" x2="982" y2="225.5" stroke="#000" stroke-width="1"/>
<text x="987" y="232.6" font-size="19" text-anchor="start" fill="#000">1<tspan dx="0.8">0</tspan><tspan dx="0.3" dy="-6.6" font-size="13.3">4</tspan></text>
<line x1="976" y1="167.5" x2="982" y2="167.5" stroke="#000" stroke-width="1"/>
<text x="987" y="175.1" font-size="19" text-anchor="start" fill="#000">1<tspan dx="0.8">0</tspan><tspan dx="0.3" dy="-6.6" font-size="13.3">5</tspan></text>
<line x1="976" y1="110.5" x2="982" y2="110.5" stroke="#000" stroke-width="1"/>
<text x="987" y="117.6" font-size="19" text-anchor="start" fill="#000">1<tspan dx="0.8">0</tspan><tspan dx="0.3" dy="-6.6" font-size="13.3">6</tspan></text>
<line x1="976" y1="437.5" x2="982" y2="437.5" stroke="#000" stroke-width="1"/>
<line x1="976" y1="427.5" x2="982" y2="427.5" stroke="#000" stroke-width="1"/>
<line x1="976" y1="420.5" x2="982" y2="420.5" stroke="#000" stroke-width="1"/>
<line x1="976" y1="414.5" x2="982" y2="414.5" stroke="#000" stroke-width="1"/>
<line x1="976" y1="410.5" x2="982" y2="410.5" stroke="#000" stroke-width="1"/>
<line x1="976" y1="406.5" x2="982" y2="406.5" stroke="#000" stroke-width="1"/>
<line x1="976" y1="403.5" x2="982" y2="403.5" stroke="#000" stroke-width="1"/>
<line x1="976" y1="400.5" x2="982" y2="400.5" stroke="#000" stroke-width="1"/>
<line x1="976" y1="380.5" x2="982" y2="380.5" stroke="#000" stroke-width="1"/>
<line x1="976" y1="370.5" x2="982" y2="370.5" stroke="#000" stroke-width="1"/>
<line x1="976" y1="362.5" x2="982" y2="362.5" stroke="#000" stroke-width="1"/>
<line x1="976" y1="357.5" x2="982" y2="357.5" stroke="#000" stroke-width="1"/>
<line x1="976" y1="352.5" x2="982" y2="352.5" stroke="#000" stroke-width="1"/>
<line x1="976" y1="348.5" x2="982" y2="348.5" stroke="#000" stroke-width="1"/>
<line x1="976" y1="345.5" x2="982" y2="345.5" stroke="#000" stroke-width="1"/>
<line x1="976" y1="342.5" x2="982" y2="342.5" stroke="#000" stroke-width="1"/>
<line x1="976" y1="322.5" x2="982" y2="322.5" stroke="#000" stroke-width="1"/>
<line x1="976" y1="312.5" x2="982" y2="312.5" stroke="#000" stroke-width="1"/>
<line x1="976" y1="305.5" x2="982" y2="305.5" stroke="#000" stroke-width="1"/>
<line x1="976" y1="299.5" x2="982" y2="299.5" stroke="#000" stroke-width="1"/>
<line x1="976" y1="295.5" x2="982" y2="295.5" stroke="#000" stroke-width="1"/>
<line x1="976" y1="291.5" x2="982" y2="291.5" stroke="#000" stroke-width="1"/>
<line x1="976" y1="288.5" x2="982" y2="288.5" stroke="#000" stroke-width="1"/>
<line x1="976" y1="285.5" x2="982" y2="285.5" stroke="#000" stroke-width="1"/>
<line x1="976" y1="265.5" x2="982" y2="265.5" stroke="#000" stroke-width="1"/>
<line x1="976" y1="255.5" x2="982" y2="255.5" stroke="#000" stroke-width="1"/>
<line x1="976" y1="247.5" x2="982" y2="247.5" stroke="#000" stroke-width="1"/>
<line x1="976" y1="242.5" x2="982" y2="242.5" stroke="#000" stroke-width="1"/>
<line x1="976" y1="237.5" x2="982" y2="237.5" stroke="#000" stroke-width="1"/>
<line x1="976" y1="233.5" x2="982" y2="233.5" stroke="#000" stroke-width="1"/>
<line x1="976" y1="230.5" x2="982" y2="230.5" stroke="#000" stroke-width="1"/>
<line x1="976" y1="227.5" x2="982" y2="227.5" stroke="#000" stroke-width="1"/>
<line x1="976" y1="207.5" x2="982" y2="207.5" stroke="#000" stroke-width="1"/>
<line x1="976" y1="197.5" x2="982" y2="197.5" stroke="#000" stroke-width="1"/>
<line x1="976" y1="190.5" x2="982" y2="190.5" stroke="#000" stroke-width="1"/>
<line x1="976" y1="184.5" x2="982" y2="184.5" stroke="#000" stroke-width="1"/>
<line x1="976" y1="180.5" x2="982" y2="180.5" stroke="#000" stroke-width="1"/>
<line x1="976" y1="176.5" x2="982" y2="176.5" stroke="#000" stroke-width="1"/>
<line x1="976" y1="173.5" x2="982" y2="173.5" stroke="#000" stroke-width="1"/>
<line x1="976" y1="170.5" x2="982" y2="170.5" stroke="#000" stroke-width="1"/>
<line x1="976" y1="150.5" x2="982" y2="150.5" stroke="#000" stroke-width="1"/>
<line x1="976" y1="140.5" x2="982" y2="140.5" stroke="#000" stroke-width="1"/>
<line x1="976" y1="132.5" x2="982" y2="132.5" stroke="#000" stroke-width="1"/>
<line x1="976" y1="127.5" x2="982" y2="127.5" stroke="#000" stroke-width="1"/>
<line x1="976" y1="122.5" x2="982" y2="122.5" stroke="#000" stroke-width="1"/>
<line x1="976" y1="118.5" x2="982" y2="118.5" stroke="#000" stroke-width="1"/>
<line x1="976" y1="115.5" x2="982" y2="115.5" stroke="#000" stroke-width="1"/>
<line x1="976" y1="112.5" x2="982" y2="112.5" stroke="#000" stroke-width="1"/>
<rect x="959" y="110" width="17" height="345" fill="none" stroke="#000" stroke-width="2"/>
<rect x="824.75" y="478" width="89.25" height="344" fill="#d3d3d3"/>
<text transform="translate(889,655.5) rotate(-90)" font-size="63.5" text-anchor="middle" fill="#000" fill-opacity="0.1">Forecast</text>
<g clip-path="url(#clipM)">
<path d="M200.8,730.78 201.25,736.64 201.7,734.03 202.15,741.53 202.6,736.24 203.05,745.28 203.5,741.65 203.95,750.83 204.4,744.51 204.85,753.24 205.3,747.78 205.75,760.23 206.2,750.57 206.65,761.7 207.1,757.52 207.55,766.07 208,758.75 208.45,769.67 208.9,764.9 209.35,774 209.8,766.45 210.25,779.57 210.7,771.67 211.15,783.04 211.6,769.84 212.05,786.4 212.5,770.22 212.95,786.21 213.4,771.92 213.85,793.19 214.3,773.71 214.75,796.69 215.2,774.47 215.65,795.3 216.1,774.89 216.55,804.07 217,784.63 217.45,802.79 217.9,780.3 218.35,801.22 218.8,781.95 219.25,800.5 219.7,773.7 220.15,800.2 220.6,775.16 221.05,794.44 221.5,768.38 221.95,791.53 222.4,769.68 222.85,785.23 223.3,764.56 223.75,783.95 224.2,766.51 224.65,776.5 225.1,763.04 225.55,769.71 226,756.08 226.45,761.85 226.9,753.26 227.35,758.08 227.8,749.31 228.25,755.56 228.7,747 229.15,749.41 229.6,743.66 230.05,745.41 230.5,739.76 230.95,742.65 231.4,736.7 231.85,740.5 232.3,733.78 232.75,738.23 233.2,731.9 233.65,736.54 234.1,731.09 234.55,734.71 235,730.48 235.45,732.74 235.9,730.01 236.35,731.66 236.8,728.8 237.25,731.01 237.7,728.69 238.15,730.61 238.6,727.42 239.05,729.66 239.5,727.05 239.95,729.52 240.4,726.07 240.85,728.04 241.3,725.78 241.75,727.59 242.2,724.23 242.65,726.37 243.1,723.24 243.55,725.35 244,722.52 244.45,724.3 244.9,721.34 245.35,723.32 245.8,720.46 246.25,722.68 246.7,720.09 247.15,721.79 247.6,718.76 248.05,720.43 248.5,717.85 248.95,720.45 249.4,717.45 249.85,720.04 250.3,717.34 250.75,718.83 251.2,716.14 251.65,718.2 252.1,715.83 252.55,717.36 253,714.78 253.45,717.54 253.9,714.24 254.35,717 254.8,713.6 255.25,716.16 255.7,712.96 256.15,714.68 256.6,712.38 257.05,714.09 257.5,712.03 257.95,713.9 258.4,710.91 258.85,713.42 259.3,710.22 259.75,712.76 260.2,709.69 260.65,711.23 261.1,708.54 261.55,711.25 262,707.75 262.45,710.86 262.9,707.16 263.35,710.09 263.8,707.24 264.25,709.2 264.7,706.69 265.15,708.86 265.6,705.91 266.05,708.01 266.5,705.05 266.95,707.87 267.4,705.4 267.85,707.05 268.3,704.84 268.75,706.54 269.2,703.68 269.65,706.44 270.1,703.99 270.55,705.59 271,704.03 271.45,705.89 271.9,704.02 272.35,705.93 272.8,704.33 273.25,706.04 273.7,703.65 274.15,705.83 274.6,703.68 275.05,705.93 275.5,704.44 275.95,705.93 276.4,703.88 276.85,706.2 277.3,704 277.75,706.76 278.2,703.98 278.65,706.86 279.1,704.73 279.55,706.92 280,705.16 280.45,707.79 280.9,705.71 281.35,708.21 281.8,706.37 282.25,708.87 282.7,707.04 283.15,708.79 283.6,706.11 284.05,709.29 284.5,704.76 284.95,709.41 285.4,703.37 285.85,708.87 286.3,704.27 286.75,709.71 287.2,707.7 287.65,712.78 288.1,710.26 288.55,714.74 289,714.32 289.45,719.54 289.9,717.54 290.35,722.83 290.8,720.99 291.25,726.9 291.7,724.49 292.15,730.43 292.6,728.05 293.05,734.68 293.5,731.39 293.95,738.08 294.4,734.43 294.85,741.22 295.3,738.38 295.75,745.27 296.2,742.09 296.65,749.55 297.1,747.61 297.55,754.29 298,751.97 298.45,760.53 298.9,756.51 299.35,765.98 299.8,755.74 300.25,766.88 300.7,760.91 301.15,771.9 301.6,757.92 302.05,773 302.5,759.58 302.95,776.69 303.4,761.31 303.85,778.3 304.3,762.92 304.75,784.89 305.2,770.64 305.65,792.46 306.1,775.11 306.55,802.76 307,773.59 307.45,812.39 307.9,782.43 308.35,814.36 308.8,791.13 309.25,815.8 309.7,789.74 310.15,820.7 310.6,789.59 311.05,814.16 311.5,789.58 311.95,816.7 312.4,793.83 312.85,818.65 313.3,797.06 313.75,822.25 314.2,808 314.65,822.52 315.1,817.82 315.5,824" fill="none" stroke="#000" stroke-width="2.2" stroke-linejoin="round"/>
<path d="M328,782.18 328.45,816.66 328.9,787.37 329.35,808.12 329.8,782.76 330.25,805.48 330.7,784.03 331.15,799.97 331.6,776.71 332.05,794.12 332.5,767.03 332.95,792.41 333.4,773.05 333.85,787.35 334.3,774.79 334.75,786.09 335.2,770.84 335.65,781.9 336.1,772.61 336.55,782.39 337,769.22 337.45,778.27 337.9,762.43 338.35,773.33 338.8,761.6 339.25,768.67 339.7,760.42 340.15,766.06 340.6,753.96 341.05,764.17 341.5,751.8 341.95,762.52 342.4,751.71 342.85,759.18 343.3,750.03 343.75,757 344.2,748.64 344.65,754.51 345.1,750.58 345.55,754.09 346,750.4 346.45,753.01 346.9,749.76 347.35,753.02 347.8,748.42 348.25,751.63 348.7,747.19 349.15,750.41 349.6,745.52 350.05,748.95 350.5,745.55 350.95,747.48 351.4,744.67 351.85,747.37 352.3,742.94 352.75,745.56 353.2,741.77 353.65,743.33 354.1,739.43 354.55,740.31 355,734.98 355.45,736.87 355.9,732.87 356.35,735.16 356.8,729.46 357.25,731.4 357.7,727.5 358.15,730.7 358.6,726.34 359.05,729.54 359.5,726.07 359.95,728.6 360.4,724.94 360.85,727.5 361.3,724.53 361.75,727.93 362.2,723.92 362.65,727 363.1,723.25 363.55,725.82 364,723.59 364.45,729.16 364.9,726.91 365.35,730.76 365.8,728.63 366.25,733.01 366.7,730.75 367.15,735.24 367.6,731.81 368.05,737.12 368.5,734.54 368.95,738.84 369.4,736.37 369.85,740.98 370.3,737.34 370.75,742.79 371.2,740.31 371.65,744.76 372.1,740.71 372.55,748.21 373,744.29 373.45,749.63 373.9,746.52 374.35,751.66 374.8,748.8 375.25,756.49 375.7,752.9 376.15,760.83 376.6,755.93 377.05,767.88 377.5,763.59 377.95,777.52 378.4,768.43 378.85,783.23 379.3,771.85 379.75,794.53 380.2,779.71 380.65,802.12 381.1,780.66 381.55,809.08 382,794.06 382.45,821.67 382.9,797.56 383.35,819.94 383.8,796.18 384.25,820.26 384.7,803.51 385.15,818.76 385.6,804.69 386.05,819.43 386.5,807.46 386.95,817.48 387.4,806.21 387.85,823.68 388.3,805.73 388.75,822.6 389.2,820.29 389.5,824" fill="none" stroke="#000" stroke-width="2.2" stroke-linejoin="round"/>
<path d="M406.5,824 406.95,820.05 407.4,793.62 407.85,823.99 408.3,789.36 408.75,813.93 409.2,791.58 409.65,815.51 410.1,790.17 410.55,812.69 411,786.97 411.45,811.8 411.9,778.43 412.35,818.09 412.8,776.78 413.25,814.73 413.7,774.35 414.15,795.72 414.6,774.25 415.05,795.05 415.5,766.16 415.95,783.82 416.4,769.67 416.85,783.01 417.3,769.7 417.75,780.13 418.2,769.2 418.65,778.77 419.1,767.18 419.55,780.04 420,763.63 420.45,780.49 420.9,761.92 421.35,775.14 421.8,762.87 422.25,770.26 422.7,757.15 423.15,767.03 423.6,757.56 424.05,762.9 424.5,754.39 424.95,762.05 425.4,753.27 425.85,761.1 426.3,753.35 426.75,758.35 427.2,751.97 427.65,757.42 428.1,751.99 428.55,755.35 429,749.6 429.45,754.71 429.9,748.28 430.35,753.47 430.8,747.68 431.25,751.86 431.7,746.8 432.15,750.72 432.6,744.2 433.05,749.92 433.5,743.25 433.95,747.07 434.4,741.84 434.85,746.24 435.3,741.3 435.75,743.75 436.2,738.83 436.65,741.44 437.1,738.28 437.55,740.1 438,736.4 438.45,738.89 438.9,734.76 439.35,737.42 439.8,733.26 440.25,735.52 440.7,732.41 441.15,735.02 441.6,731.22 442.05,732.88 442.5,730.19 442.95,731.74 443.4,728.89 443.85,731.7 444.3,728.53 444.75,730.3 445.2,727.48 445.65,729.38 446.1,726.13 446.55,728.52 447,725.73 447.45,727.75 447.9,724.08 448.35,726.63 448.8,723.18 449.25,725.08 449.7,722.24 450.15,724.53 450.6,720.92 451.05,723.57 451.5,719.11 451.95,721.94 452.4,718.74 452.85,720.64 453.3,717.19 453.75,720.84 454.2,717.39 454.65,720.55 455.1,716.65 455.55,721.82 456,716.28 456.45,718.42 456.9,714.67 457.35,716.56 457.8,714.68 458.25,716.97 458.7,714.79 459.15,717.85 459.6,715.79 460.05,719.25 460.5,718.88 460.95,725.76 461.4,725.09 461.85,731.73 462.3,728.57 462.75,736.24 463.2,734.83 463.65,740.68 464.1,738.29 464.55,752.09 465,746.45 465.45,767.35 465.9,756.66 466.35,777.79 466.8,764.22 467.25,786.33 467.7,775.91 468.15,795.95 468.6,788.79 469.05,809.47 469.5,800.54 469.95,822.13 470.4,820.85 470.5,824" fill="none" stroke="#000" stroke-width="2.2" stroke-linejoin="round"/>
<path d="M497.5,806.66 497.95,823.61 498.4,804.12 498.85,816.1 499.3,799.08 499.75,818.3 500.2,793.22 500.65,813.51 501.1,782.72 501.55,816.1 502,776.38 502.45,815.66 502.9,773.38 503.35,810.01 503.8,783.86 504.25,815.15 504.7,781.07 505.15,820 505.6,779.8 506.05,810.1 506.5,785.29 506.95,817.59 507.4,781.08 507.85,817.76 508.3,784.05 508.75,810.59 509.2,779.27 509.65,801.63 510.1,776.53 510.55,795.15 511,772.45 511.45,787.07 511.9,770.1 512.35,788.4 512.8,767.4 513.25,781.49 513.7,764.14 514.15,774.69 514.6,757.56 515.05,770.82 515.5,759.07 515.95,767.95 516.4,753.76 516.85,765.33 517.3,752.13 517.75,764.12 518.2,753.19 518.65,764 519.1,749.58 519.55,759 520,746.94 520.45,755.84 520.9,746.55 521.35,754.09 521.8,742.18 522.25,749.72 522.7,742.06 523.15,749.45 523.6,739.98 524.05,745.11 524.5,736.85 524.95,744.57 525.4,735 525.85,741.68 526.3,731.85 526.75,738.77 527.2,729.46 527.65,733.9 528.1,726.38 528.55,730.91 529,724.57 529.45,727.34 529.9,721.56 530.35,724.23 530.8,719.43 531.25,722.48 531.7,718.16 532.15,719.86 532.6,716.87 533.05,718.18 533.5,714.6 533.95,716.53 534.4,713.76 534.85,715.37 535.3,713.08 535.75,714.83 536.2,711.21 536.65,712.69 537.1,710.42 537.55,712.01 538,709.91 538.45,712.27 538.9,709.08 539.35,711.5 539.8,709.25 540.25,711.15 540.7,708.09 541.15,710.83 541.6,706.41 542.05,707.58 542.5,703.19 542.95,703.81 543.4,700.11 543.85,701 544.3,696.97 544.75,697.21 545.2,694.46 545.65,696.98 546.1,695.73 546.55,697.82 547,696.41 547.45,697.83 547.9,695 548.35,696.6 548.8,694.09 549.25,695.47 549.7,694.25 550.15,696.91 550.6,697.13 551.05,699.52 551.5,699.66 551.95,702.55 552.4,702.26 552.85,705.28 553.3,704.68 553.75,706.67 554.2,706.03 554.65,707.6 555.1,707.03 555.55,709.27 556,708.09 556.45,710.37 556.9,709.02 557.35,711.16 557.8,709.9 558.25,714.92 558.7,719.35 559.15,726.4 559.6,731.22 560.05,738.05 560.5,740.08 560.95,744.69 561.4,746.6 561.85,743.35 562.3,734.91 562.75,729.77 563.2,722.05 563.65,719.43 564.1,713.52 564.55,710.2 565,704.47 565.45,704.15 565.9,701.06 566.35,700.62 566.8,697.59 567.25,697.36 567.7,694.28 568.15,696.33 568.6,698.6 569.05,704.08 569.5,706.75 569.95,712.44 570.4,711.95 570.85,714.15 571.3,713.32 571.75,715.48 572.2,714.72 572.65,716.95 573.1,717.08 573.55,722.97 574,725.5 574.45,730.81 574.9,733.76 575.35,739.09 575.8,744.74 576.25,754.17 576.7,761.11 577.15,770.26 577.6,774.96 578.05,773.52 578.5,770.09 578.95,768.81 579.4,764.58 579.85,762.38 580.3,756.17 580.75,753.12 581.2,747.09 581.65,744.88 582.1,739.97 582.55,738.7 583,734.04 583.45,732.55 583.9,727.86 584.35,726.91 584.8,724.03 585.25,723.29 585.7,719.62 586.15,719.53 586.6,715.95 587.05,714.21 587.5,710.01 587.95,709.07 588.4,704.68 588.85,703.74 589.3,699.48 589.75,698.33 590.2,695.94 590.65,698.81 591.1,698.79 591.55,701.41 592,701.35 592.45,705.15 592.9,706.18 593.35,710.11 593.8,711.71 594.25,715.27 594.7,716.56 595.15,718.14 595.6,712.57 596.05,709.57 596.5,704.02 596.95,700.81 597.4,695.02 597.85,692.24 598.3,687.95 598.75,687.21 599.2,683.19 599.65,682.68 600.1,679.49 600.55,680.44 601,678.08 601.45,679.18 601.9,677.56 602.35,678.55 602.8,676.22 603.25,677.38 603.7,675.64 604.15,676.53 604.6,674.46 605.05,675.13 605.5,673.31 605.95,673.97 606.4,672.19 606.85,673.12 607.3,671.43 607.75,672.15 608.2,670.05 608.65,670.67 609.1,668.63 609.55,669.56 610,667.35 610.45,667.91 610.9,666.22 611.35,666.79 611.8,664.95 612.25,665.41 612.7,663.38 613.15,663.99 613.6,662.02 614.05,662.58 614.5,660.09 614.95,660.17 615.4,657.51 615.85,657.56 616.3,655.5 616.75,655.51 617.2,652.98 617.65,652.99 618.1,650.25 618.55,650.54 619,648.16 619.45,648.09 619.9,645.35 620.35,645.4 620.8,642.43 621.25,642.44 621.7,640.56 622.15,641.19 622.6,639.65 623.05,640.56 623.5,638.73 623.95,639.42 624.4,637.54 624.85,638.73 625.3,636.69 625.75,637.93 626.2,635.89 626.65,637.02 627.1,635.25 627.55,637.16 628,636.32 628.45,638.12 628.9,637.41 629.35,639.79 629.8,638.56 630.25,640.57 630.7,639.9 631.15,641.93 631.6,641.27 632.05,642.98 632.5,642.58 632.95,643.95 633.4,643.43 633.85,645.11 634.3,644.32 634.75,645.69 635.2,645.02 635.65,646.99 636.1,645.84 636.55,647.32 637,645.64 637.45,646.16 637.9,643.33 638.35,644.25 638.8,641.49 639.25,641.98 639.7,640.1 640.15,640.54 640.6,638.94 641.05,640.53 641.5,639.44 641.95,641.07 642.4,640.24 642.85,642.27 643.3,641.04 643.75,642.96 644.2,641.53 644.65,642.99 645.1,641.14 645.55,641.69 646,640.29 646.45,642.21 646.9,642.83 647.35,646.13 647.8,647.08 648.25,650.16 648.7,651.26 649.15,653.82 649.6,654.16 650.05,656.79 650.5,656.53 650.95,659.19 651.4,659.18 651.85,661.74 652.3,661.3 652.75,664.35 653.2,663.94 653.65,666.73 654.1,666.41 654.55,669.09 655,668.45 655.45,671.16 655.9,670.35 656.35,672.95 656.8,672.8 657.25,675.22 657.7,675 658.15,677.07 658.6,677.08 659.05,679.53 659.5,678.79 659.95,681.24 660.4,681.17 660.85,683.86 661.3,683.3 661.75,685.65 662.2,685.35 662.65,687.99 663.1,687.48 663.55,689.94 664,689.63 664.45,692.3 664.9,691.87 665.35,694.94 665.8,695.64 666.25,700.36 666.7,701.23 667.15,706.06 667.6,706.55 668.05,711.89 668.5,706.73 668.95,707.58 669.4,703.07 669.85,702.94 670.3,699.27 670.75,699.13 671.2,695.56 671.65,694.74 672.1,691.62 672.55,691.28 673,688.38 673.45,687.71 673.9,684.32 674.35,684.14 674.8,680.75 675.25,677.59 675.7,672.08 676.15,669.28 676.6,663.31 677.05,660.25 677.5,654.06 677.95,653.18 678.4,650.82 678.85,651.29 679.3,648.69 679.75,648.85 680.2,646.97 680.65,646.97 681.1,644.85 681.55,645.08 682,642.86 682.45,643.17 682.9,642.25 683.35,644.48 683.8,643.74 684.25,645.96 684.7,644.95 685.15,647.14 685.6,646.19 686.05,648.43 686.5,647.33 686.95,649.78 687.4,648.77 687.85,649.61 688.3,648.72 688.75,650.07 689.2,648.62 689.65,649.66 690.1,648.64 690.55,650.06 691,648.58 691.45,650.18 691.9,648.77 692.35,649.51 692.8,647.67 693.25,648 693.7,646.08 694.15,647.01 694.6,645 695.05,646.05 695.5,643.85 695.95,644.64 696.4,642.63 696.85,643.62 697.3,641.28 697.75,642.23 698.2,639.69 698.65,639.92 699.1,637.44 699.55,637.68 700,635.14 700.45,635.68 700.9,633.21 701.35,633.43 701.8,631.22 702.25,631.49 702.7,629.39 703.15,629.65 703.6,627.3 704.05,628.14 704.5,625.73 704.95,626.37 705.4,624.6 705.85,625.1 706.3,623.49 706.75,623.89 707.2,622.1 707.65,622.45 708.1,620.29 708.55,621.34 709,619.31 709.45,620.03 709.9,618.8 710.35,620 710.8,618.2 711.25,619.55 711.7,617.92 712.15,618.59 712.6,617.31 713.05,618.49 713.5,616.85 713.95,617.79 714.4,616.28 714.85,617.48 715.3,616.04 715.75,616.76 716.2,615.36 716.65,616.53 717.1,615.23 717.55,616.03 718,614.4 718.45,615.64 718.9,614.04 719.35,615.44 719.8,614.11 720.25,615.05 720.7,613.39 721.15,615.02 721.6,613.31 722.05,614.75 722.5,613.35 722.95,614.46 723.4,613.12 723.85,614.34 724.3,612.97 724.75,614.21 725.2,612.79 725.65,613.98 726.1,612.51 726.55,614.42 727,613.55 727.45,615.32 727.9,614.26 728.35,616.09 728.8,615.05 729.25,616.65 729.7,615.68 730.15,617.09 730.6,616.67 731.05,618.98 731.5,618.46 731.95,620.58 732.4,619.7 732.85,621.74 733.3,621.49 733.75,623.52 734.2,622.61 734.65,624.93 735.1,625.57 735.55,628.33 736,628.18 736.45,631.64 736.9,631.53 737.35,634.57 737.8,634.73 738.25,637.34 738.7,637.63 739.15,640.36 739.6,640.75 740.05,643.58 740.5,643.93 740.95,646.46 741.4,646.15 741.85,648.45 742.3,647.61 742.75,650.05 743.2,649.77 743.65,651.9 744.1,650.88 744.55,653.47 745,652.49 745.45,654.69 745.9,654.32 746.35,656.31 746.8,655.64 747.25,657.28 747.7,656.1 748.15,657.67 748.6,656.86 749.05,657.9 749.5,656.97 749.95,658.33 750.4,657.4 750.85,658.53 751.3,657.52 751.75,659.3 752.2,657.64 752.65,659.43 753.1,658.14 753.55,659.8 754,658.65 754.45,659.88 754.9,659.12 755.35,660.24 755.8,659.23 756.25,660.33 756.7,658.98 757.15,660.53 757.6,659.14 758.05,660.72 758.5,659.34 758.95,660.79 759.4,659.71 759.85,659.99 760.3,657.65 760.75,658.14 761.2,656 761.65,656.02 762.1,653.7 762.55,654.55 763,651.83 763.45,652.61 763.9,650.16 764.35,650.48 764.8,647.35 765.25,647.77 765.7,645.09 766.15,645.43 766.6,642.48 767.05,643.1 767.5,640.6 767.95,640.53 768.4,637.98 768.85,638.26 769.3,635.65 769.75,636.56 770.2,635.07 770.65,636.35 771.1,635.49 771.55,637.04 772,635.67 772.45,636.95 772.9,636.06 773.35,637.37 773.8,635.9 774.25,637.7 774.7,636.08 775.15,637.61 775.6,636.34 776.05,636.78 776.5,635.42 776.95,636.09 777.4,634.34 777.85,635.36 778.3,633.64 778.75,634.18 779.2,632.26 779.65,633.46 780.1,631.43 780.55,632.5 781,630.47 781.45,631.49 781.9,630.03 782.35,630.78 782.8,629.17 783.25,630.3 783.7,628.38 784.15,629.87 784.6,628.19 785.05,628.72 785.5,627.45 785.95,628.13 786.4,626.72 786.85,627.37 787.3,625.95 787.75,627.01 788.2,624.76 788.65,625.65 789.1,623.9 789.55,625.17 790,623.27 790.45,623.84 790.9,622.44 791.35,623.29 791.8,621.57 792.25,622.53 792.7,620.2 793.15,621.64 793.6,619.52 794.05,620.73 794.5,619.24 794.95,620.16 795.4,618.45 795.85,619.64 796.3,618 796.75,619.38 797.2,617.48 797.65,618.57 798.1,616.97 798.55,617.76 799,616.43 799.45,617.51 799.9,615.84 800.35,616.73 800.8,615.09 801.25,615.91 801.7,614.48 802.15,615.76 802.6,614.32 803.05,615.46 803.5,613.5 803.95,614.93 804.4,613.36 804.85,614.6 805.3,612.81 805.75,613.77 806.2,612.47 806.65,613.13 807.1,611.84 807.55,612.82 808,611.23 808.45,612.02 808.9,609.92 809.35,610.85 809.8,608.92 810.25,610.36 810.7,609.03 811.15,610.24 811.6,608.8 812.05,610.46 812.5,608.89 812.95,610.55 813.4,609.09 813.85,610.53 814.3,609.41 814.75,610.6 815.2,609.3 815.65,610.9 816.1,609.64 816.55,609.99 817,608.11 817.45,608.91 817.9,606.96 818.35,607.89 818.8,606.12 819.25,607.72 819.7,607.56 820.15,609.7 820.6,609.3 821.05,611.58 821.5,611.15 821.95,613.25 822.4,613.42 822.85,615.41 823.3,615.93 823.75,617.46 824.2,618.34 824.4,618.9" fill="none" stroke="#000" stroke-width="2.2" stroke-linejoin="round"/>
<path d="M318.9,824 321.4,715 322.5,722 324.8,757 328,780" fill="none" stroke="#000" stroke-width="2.2" stroke-linejoin="round"/>
<path d="M200.8,693.3 205,699.6 212.1,701.7 216.3,705.2 220.6,712.3 224.8,722.2 228.3,725 234.7,721.9 240.3,724.3 244.5,723.6 248.7,716.5 253,708 257.2,705 262.8,704.5 267.1,699.6 272.7,693.3 279.8,692.6 285.4,694 289.6,698.2 293.9,706.7 298.1,709.5 303.7,710.9 308,716.5 312.2,729.2 317.8,734.8 324.9,732 331.9,734.1 336.1,729.2 341.8,716.5 346,713.7 351.7,713.7 357.3,706.7 362.9,701.7 370,701.2 373.5,700.7 378.5,704.5 383.4,713 388.3,716.5 393.3,717.9 397.5,725 401.7,736.3 405.2,743.3 409.5,741.2 413.7,739.8 417.9,741.9 422.2,742.6 426.4,734.8 430.6,725 434.8,720 440.5,719.3 444.7,714.4 448.9,708 453.2,706.4 461.6,707.4 467.3,710.9 470.8,716.5 474.3,724.3 478.5,728.5 482.8,732 487,741.9 491.2,754.6 494.8,764.4 498.3,765.9 502.5,763.7 507.4,763.7 511,757.4 515.2,746.1 520.8,732 526.5,723.6 532.1,713.7 539.2,701 544.8,688.3 548.8,681.6 553.6,672.1 560.3,663.5 567.9,658.7 574.6,654.9 580.3,650.7 588,651.1 594.6,649.6 602.3,647.6 608,645.7 617.5,643.8 625.2,641.5 632.8,637.7 640.4,632.9 651.9,627.4 659.5,625.7 667.2,624 674.8,624.9 682.4,623.4 695.8,620.5 709.2,618.6 720,618.9 728.7,616.7 738.9,614.5 753.5,612.7 762.2,614.8 770.9,613.5 779.6,612.7 786.9,609.7 798.5,608 813.1,606.8 824.7,606.3 840.7,606.5 845.1,608 850.9,611.6 859.6,610.6 866.9,611.6 872.7,608.7 878.5,606.3 887.3,604.8 894.5,602.9 903.3,602.2 913.5,601.9" fill="none" stroke="#f00" stroke-width="2.5" stroke-linejoin="round"/>
</g>
<line x1="825" y1="479" x2="825" y2="821" stroke="#1f77b4" stroke-width="2" stroke-dasharray="2 3.4"/>
<text x="236" y="511.8" font-size="24" text-anchor="start" fill="#000">Geostationary orbit:</text>
<text x="500.5" y="511.8" font-size="24" text-anchor="start" fill="#000">GOES 15,</text>
<text x="628.5" y="511.8" font-size="24" text-anchor="start" fill="#f00">Model</text>
<g clip-path="url(#clipK)">
<rect x="198.53" y="1010.69" width="8.9" height="6.31" fill="#008000"/>
<rect x="209.68" y="1010.69" width="8.9" height="6.31" fill="#008000"/>
<rect x="243.15" y="1010.69" width="8.9" height="6.31" fill="#008000"/>
<rect x="254.31" y="1010.69" width="8.9" height="6.31" fill="#008000"/>
<rect x="265.46" y="1010.69" width="8.9" height="6.31" fill="#008000"/>
<rect x="276.62" y="959.67" width="8.9" height="57.33" fill="#bfbf00"/>
<rect x="287.78" y="978.78" width="8.9" height="38.22" fill="#008000"/>
<rect x="298.93" y="985.08" width="8.9" height="31.92" fill="#008000"/>
<rect x="310.09" y="965.97" width="8.9" height="51.03" fill="#008000"/>
<rect x="321.24" y="997.89" width="8.9" height="19.11" fill="#008000"/>
<rect x="332.4" y="997.89" width="8.9" height="19.11" fill="#008000"/>
<rect x="343.56" y="978.78" width="8.9" height="38.22" fill="#008000"/>
<rect x="354.71" y="972.47" width="8.9" height="44.53" fill="#008000"/>
<rect x="365.87" y="1004.2" width="8.9" height="12.8" fill="#008000"/>
<rect x="377.03" y="1010.69" width="8.9" height="6.31" fill="#008000"/>
<rect x="388.18" y="1010.69" width="8.9" height="6.31" fill="#008000"/>
<rect x="399.34" y="1004.2" width="8.9" height="12.8" fill="#008000"/>
<rect x="410.49" y="1004.2" width="8.9" height="12.8" fill="#008000"/>
<rect x="421.65" y="972.47" width="8.9" height="44.53" fill="#008000"/>
<rect x="432.81" y="1004.2" width="8.9" height="12.8" fill="#008000"/>
<rect x="443.96" y="965.97" width="8.9" height="51.03" fill="#008000"/>
<rect x="455.12" y="959.67" width="8.9" height="57.33" fill="#bfbf00"/>
<rect x="466.28" y="959.67" width="8.9" height="57.33" fill="#bfbf00"/>
<rect x="477.43" y="953.36" width="8.9" height="63.64" fill="#bfbf00"/>
<rect x="488.59" y="965.97" width="8.9" height="51.03" fill="#008000"/>
<rect x="499.74" y="985.08" width="8.9" height="31.92" fill="#008000"/>
<rect x="510.9" y="978.78" width="8.9" height="38.22" fill="#008000"/>
<rect x="522.06" y="985.08" width="8.9" height="31.92" fill="#008000"/>
<rect x="533.21" y="972.47" width="8.9" height="44.53" fill="#008000"/>
<rect x="544.37" y="959.67" width="8.9" height="57.33" fill="#bfbf00"/>
<rect x="555.52" y="965.97" width="8.9" height="51.03" fill="#008000"/>
<rect x="566.68" y="985.08" width="8.9" height="31.92" fill="#008000"/>
<rect x="577.84" y="997.89" width="8.9" height="19.11" fill="#008000"/>
<rect x="588.99" y="991.58" width="8.9" height="25.42" fill="#008000"/>
<rect x="600.15" y="991.58" width="8.9" height="25.42" fill="#008000"/>
<rect x="611.31" y="997.89" width="8.9" height="19.11" fill="#008000"/>
<rect x="622.46" y="978.78" width="8.9" height="38.22" fill="#008000"/>
<rect x="633.62" y="978.78" width="8.9" height="38.22" fill="#008000"/>
<rect x="644.77" y="991.58" width="8.9" height="25.42" fill="#008000"/>
<rect x="655.93" y="997.89" width="8.9" height="19.11" fill="#008000"/>
<rect x="667.09" y="997.89" width="8.9" height="19.11" fill="#008000"/>
<rect x="678.24" y="1010.69" width="8.9" height="6.31" fill="#008000"/>
<rect x="689.4" y="1004.2" width="8.9" height="12.8" fill="#008000"/>
<rect x="700.56" y="1010.69" width="8.9" height="6.31" fill="#008000"/>
<rect x="711.71" y="1010.69" width="8.9" height="6.31" fill="#008000"/>
<rect x="722.87" y="1010.69" width="8.9" height="6.31" fill="#008000"/>
<rect x="734.02" y="1004.2" width="8.9" height="12.8" fill="#008000"/>
<rect x="745.18" y="1010.69" width="8.9" height="6.31" fill="#008000"/>
<rect x="756.34" y="1004.2" width="8.9" height="12.8" fill="#008000"/>
<rect x="767.49" y="1010.69" width="8.9" height="6.31" fill="#008000"/>
<rect x="789.81" y="1010.69" width="8.9" height="6.31" fill="#008000"/>
<rect x="800.96" y="1004.2" width="8.9" height="12.8" fill="#008000"/>
<rect x="812.12" y="1004.2" width="8.9" height="12.8" fill="#008000"/>
<rect x="823.27" y="1004.2" width="8.9" height="12.8" fill="#008000"/>
<rect x="834.43" y="1004.2" width="8.9" height="12.8" fill="#008000"/>
<rect x="845.59" y="1004.2" width="8.9" height="12.8" fill="#008000"/>
<rect x="856.74" y="1004.2" width="8.9" height="12.8" fill="#008000"/>
<rect x="867.9" y="1004.2" width="8.9" height="12.8" fill="#008000"/>
<rect x="879.06" y="1004.2" width="8.9" height="12.8" fill="#008000"/>
<rect x="890.21" y="1004.2" width="8.9" height="12.8" fill="#008000"/>
<rect x="901.37" y="1004.2" width="8.9" height="12.8" fill="#008000"/>
</g>
<text transform="translate(875.3,935) rotate(-90)" font-size="31" text-anchor="middle" fill="#000" fill-opacity="0.105">Forecast</text>
<line x1="825" y1="846" x2="825" y2="1016" stroke="#1f77b4" stroke-width="2" stroke-dasharray="2 3.4"/>
<rect x="207.5" y="852.5" width="88" height="67" rx="3" ry="3" fill="#fff" fill-opacity="0.8" stroke="#cccccc" stroke-width="1"/>
<rect x="213" y="859" width="28" height="10.8" fill="#008000"/>
<text x="252.5" y="868.7" font-size="13.2" text-anchor="start" fill="#000">Kp&lt;3</text>
<rect x="213" y="880" width="28" height="10.8" fill="#bfbf00"/>
<text x="252.5" y="889.7" font-size="13.2" text-anchor="start" fill="#000">Kp&lt;5</text>
<rect x="213" y="901" width="28" height="10.8" fill="#f00"/>
<text x="252.5" y="910.7" font-size="13.2" text-anchor="start" fill="#000">Kp&gt;5</text>
<g clip-path="url(#clipR1)">
<line x1="1205" y1="282.5" x2="1800" y2="282.5" stroke="#000" stroke-width="1.8" stroke-dasharray="1.8 3.7"/>
<path d="M1205.5,275.76 1206.1,293.72 1206.7,272.88 1207.3,298.21 1207.9,274.85 1208.5,297.56 1209.1,284.59 1209.7,289.03 1210.3,272.29 1210.9,292.04 1211.5,274.1 1212.1,285.98 1212.7,281.99 1213.3,287.28 1213.9,281.6 1214.5,291.18 1215.1,286.44 1215.7,287.2 1216.3,284.38 1216.9,296.06 1217.5,277.46 1218.1,285.76 1218.7,276.19 1219.3,285.1 1219.9,278.41 1220.5,284.5 1221.1,283.75 1221.7,294.06 1222.3,282.12 1222.9,284.1 1223.5,269.43 1224.1,293.48 1224.7,280.22 1225.3,294.79 1225.9,276.2 1226.5,287.99 1227.1,279.28 1227.7,291.56 1228.3,272.35 1228.9,290.66 1229.5,268.21 1230.1,279.79 1230.7,276.04 1231.3,279.39 1231.9,278.5 1232.5,279.53 1233.1,277.97 1233.7,285.3 1234.3,280.36 1234.9,287.01 1235.5,278.96 1236.1,283.15 1236.7,273.22 1237.3,285.62 1237.9,280.51 1238.5,286.27 1239.1,276.41 1239.7,283.45 1240.3,272.38 1240.9,283.25 1241.5,275.84 1242.1,291.53 1242.7,282.64 1243.3,290.18 1243.9,280.03 1244.5,286.77 1245.1,281.9 1245.7,281.8 1246.3,280.81 1246.9,291.63 1247.5,280.34 1248.1,288.13 1248.7,271.73 1249.3,292.46 1249.9,280.69 1250.5,285.52 1251.1,279.72 1251.7,292.29 1252.3,284.65 1252.9,293.13 1253.5,277.63 1254.1,296.33 1254.7,287.16 1255.3,299.15 1255.9,288.29 1256.5,291.35 1257.1,284.75 1257.7,300.37 1258.3,288.64 1258.9,299.42 1259.5,284.84 1260.1,289.84 1260.7,285.62 1261.3,287.2 1261.9,285.53 1262.5,285.4 1263.1,278.22 1263.7,293.8 1264.3,281.88 1264.9,281.72 1265.5,271.61 1266.1,285.02 1266.7,279.34 1267.3,282.37 1267.9,277.95 1268.5,287.17 1269.1,279.45 1269.7,283.19 1270.3,281.43 1270.9,288.97 1271.5,281.46 1272.1,285.18 1272.7,271.84 1273.6,271 1274.5,252.7 1276,231 1277.3,243.6 1278.2,227.3 1280,256.4 1281,356.4 1281.8,289 1282.7,220 1284,216.4 1284.5,307.3 1285.5,225.5 1287,207.3 1288.2,303.6 1289.5,252.7 1291,194.5 1292.4,203.6 1293.6,192.7 1294.5,340 1295.5,252.7 1297,221.8 1298.2,343.6 1299.6,354.5 1301,311 1302.7,307.3 1304,361.8 1305.5,363.6 1307.3,325.5 1308.5,343.6 1309.5,289 1311,307.3 1312.4,274.5 1313.6,289 1314,276.95 1314.6,287.81 1315.2,278.57 1315.8,282.31 1316.4,280.5 1317,284.39 1317.6,276.69 1318.2,284.25 1318.8,276.42 1319.4,283.34 1320,276.12 1320.6,283.01 1321.2,270.92 1321.8,278.9 1322.4,271.37 1323,281.12 1323.6,273.4 1324.2,279.18 1324.8,265.1 1325.4,275.72 1326,264.94 1326.6,281.46 1327.2,264.43 1327.8,277.52 1328.4,274.13 1329,284.61 1329.6,265.23 1330.2,280.02 1330.8,274.95 1331.4,277.46 1332,268.24 1332.6,278.25 1333.2,257.99 1333.8,282.81 1334.4,269.84 1335,284.35 1335.6,264.26 1336.2,293.4 1336.8,241.52 1337.4,280.35 1338,252.3 1338.6,292.43 1339.2,257.96 1339.8,295.71 1340.4,270.45 1341,272.16 1341.6,256.96 1342.2,268.23 1342.8,254.2 1343.4,262.26 1344,245.18 1344.6,266.08 1345.2,256.15 1345.8,266.35 1346.4,251.87 1347,256.66 1347.6,247.66 1348.2,254.21 1348.8,250.18 1349.4,263.66 1350,241.41 1350.6,249.89 1351.2,238.28 1351.8,248.6 1352.4,244.1 1353,261.24 1353.6,237.78 1354.2,249.44 1354.8,240.46 1355.4,249.19 1356,242.04 1356.6,258.26 1357.2,240.61 1357.8,244.96 1358.4,229.99 1359,246.76 1359.6,228.78 1360.2,247.73 1360.8,232.11 1361.4,261.42 1362,241.08 1362.6,268.62 1363.2,251.66 1363.8,278.6 1364.4,249.77 1365,280.96 1365.6,264.89 1366.2,295.19 1366.8,268.48 1367.4,278.73 1368,256.42 1368.6,283.19 1369.2,264.59 1369.8,302.16 1370.4,273.96 1371,277.75 1371.6,275.07 1372.2,296.57 1372.8,268.61 1373.4,285.54 1374,266.96 1374.6,313.78 1375.2,275.39 1375.8,293.54 1376.4,252.83 1377,302.46 1377.6,278.15 1378.2,297.75 1378.8,270.11 1379.4,284.5 1380,271.25 1380.6,286.04 1381.2,254.02 1381.8,283.57 1382.4,257.51 1383,302.21 1383.6,246.33 1384.2,279.62 1384.8,257.1 1385.4,278.88 1386,263.9 1386.6,284.49 1387.2,251.68 1387.8,300.76 1388.4,268.12 1389,274.46 1389.6,264.2 1390.2,275.9 1390.8,275.34 1391.4,298.49 1392,274.82 1392.6,298.1 1393.2,261.36 1393.8,306.43 1394.4,240.85 1395,273.71 1395.6,256.1 1396.2,300.5 1396.8,235.02 1397.4,283.92 1398,229.78 1398.6,306.36 1399.2,242.78 1399.8,301.01 1400.4,266.44 1401,303.31 1401.6,267.62 1402.2,323.25 1402.8,240.59 1403.4,295.98 1404,235.85 1404.6,292.04 1405.2,267.54 1405.8,329.96 1406.4,241.65 1407,341.26 1407.6,237.69 1408.2,327.92 1408.8,271.4 1409.4,330.44 1410,277.23 1410.6,320.49 1411.2,238.41 1411.8,333.67 1412.4,239.18 1413,315.47 1413.6,247.53 1414.2,332.13 1414.8,273.4 1415.4,342.68 1416,225.38 1416.6,319.24 1417.2,224.53 1417.8,321.2 1418.4,252.78 1419,333.15 1419.6,269.73 1420.2,331.38 1420.8,215.71 1421.4,298.01 1422,220.55 1422.6,284.11 1423.2,230.32 1423.8,298.59 1424.4,232.46 1425,307.64 1425.6,240.52 1426.2,288.8 1426.8,279.14 1427.4,328.53 1428,253.93 1428.6,321.1 1429.2,287.08 1429.8,306.13 1430.4,268.08 1431,301.47 1431.6,239.5 1432.2,347.85 1432.8,240.95 1433.4,351.27 1434,274.39 1434.6,315.1 1435.2,262.61 1435.8,320.51 1436.4,280.99 1437,339.22 1437.6,292.35 1438.2,322.24 1438.8,309.75 1439.4,335.56 1440,308.61 1440.6,331.51 1441.2,298.93 1441.8,319.21 1442.4,292.98 1443,326.36 1443.6,270.39 1444.2,307.04 1444.8,267.1 1445.4,322.39 1446,214.58 1446.6,311.49 1447.2,261.32 1447.8,303.13 1448.4,257.42 1449,314.51 1449.6,232.4 1450.2,302.98 1450.8,273.74 1451.4,292.38 1452,268.95 1452.6,299.87 1453.2,272.09 1453.8,329.86 1454.4,269.37 1455,313.4 1455.6,263.41 1456.2,310.86 1456.8,257.88 1457.4,297.75 1458,263.02 1458.6,322.86 1459.2,280.84 1459.8,304.71 1460.4,272.44 1461,284.28 1461.6,282.63 1462.2,308.12 1462.8,280.84 1463.4,304.91 1464,281.01 1464.6,291.56 1465.2,282.09 1465.8,296.74 1466.4,259.26 1467,286.56 1467.6,267.49 1468.2,308.81 1468.8,275.75 1469.4,292.51 1470,262.77 1470.6,305.09 1471.2,278.81 1471.8,298.22 1472.4,279.94 1473,283.44 1473.6,254.33 1474.2,282.49 1474.8,256.85 1475.4,300.98 1476,265.61 1476.6,299.46 1477.2,266.89 1477.8,286.75 1478.4,273 1479,284.65 1479.6,261.95 1480.2,298.29 1480.8,263.75 1481.4,283.51 1482,268.21 1482.6,283.31 1483.2,262.1 1483.8,293.96 1484.4,255.5 1485,291.87 1485.6,263.4 1486.2,294.57 1486.8,276.38 1487.4,290.19 1488,277.2 1488.6,284.59 1489.2,275.86 1489.8,302.99 1490.4,277.63 1491,304.12 1491.6,251.96 1492.2,289.78 1492.8,256.43 1493.4,281.56 1494,279.07 1494.6,282.18 1495.2,281.71 1495.8,283.31 1496.4,257.36 1497,285.95 1497.6,267.39 1498.2,292.31 1498.8,283.68 1499.4,298.82 1500,283.41 1500.6,324.48 1501.2,277.28 1501.8,307.99 1502.4,270.69 1503,310.39 1503.6,274.65 1504.2,297.17 1504.8,287.41 1505.4,324.73 1506,286.41 1506.6,305.61 1507.2,261.2 1507.8,312.01 1508.4,254.42 1509,324.13 1509.6,275.88 1510.2,295.97 1510.8,272.04 1511.4,307.83 1512,258.52 1512.6,309.07 1513.2,266.11 1513.8,320.65 1514.4,275.23 1515,320.68 1515.6,255.31 1516.2,291.92 1516.8,253.92 1517.4,319.11 1518,256.51 1518.6,295.69 1519.2,280 1519.8,288.31 1520.4,275.44 1521,315.7 1521.6,275.72 1522.2,285.76 1522.8,277.75 1523.4,287.32 1524,265.33 1524.6,313.17 1525.2,251.08 1525.8,287.76 1526.4,275.02 1527,288.86 1527.6,251.26 1528.2,317.88 1528.8,269.28 1529.4,324.31 1530,269.18 1530.6,315.99 1531.2,271.11 1531.8,298.35 1532.4,247.26 1533,320.61 1533.6,267.65 1534.2,322.6 1534.8,265.52 1535.4,319.8 1536,288.28 1536.6,292.74 1537.2,287.78 1537.8,311.79 1538.4,263.75 1539,294.67 1539.6,274.24 1540.2,293.85 1540.8,265.75 1541.4,320.49 1542,288.8 1542.6,329.86 1543.2,266.05 1543.8,292.3 1544.4,279 1545,292.64 1545.6,262.35 1546.2,323.8 1546.8,284 1547.4,292.15 1548,266.1 1548.6,319.17 1549.2,260.76 1549.8,300.56 1550.4,284.28 1551,306.51 1551.6,272.83 1552.2,314.27 1552.8,268.41 1553.4,310.55 1554,251.35 1554.6,305.48 1555.2,254.61 1555.8,292.43 1556.4,285.85 1557,314.95 1557.6,285.39 1558.2,318.98 1558.8,273.66 1559.4,286.43 1560,279.44 1560.6,306.38 1561.2,275.95 1561.8,302.07 1562.4,283.17 1563,309.15 1563.6,275.9 1564.2,308.2 1564.8,281.56 1565.4,301.49 1566,272.68 1566.6,292.52 1567.2,283.17 1567.8,295.74 1568.4,260.49 1569,284.27 1569.6,272.93 1570.2,282.57 1570.8,255.21 1571.4,308.64 1572,265.81 1572.6,292.73 1573.2,281.32 1573.8,283.86 1574.4,264.88 1575,302.02 1575.6,255.38 1576.2,304.03 1576.8,272.65 1577.4,286.3 1578,269.66 1578.6,288.34 1579.2,269.51 1579.8,304.11 1580.4,272.08 1581,307.06 1581.6,264.57 1582.2,281.97 1582.8,263.94 1583.4,296.39 1584,267.85 1584.6,281.51 1585.2,260.41 1585.8,291.43 1586.4,270.55 1587,283.94 1587.6,281.18 1588.2,281.59 1588.8,278.37 1589.4,286.54 1590,279.44 1590.6,281.99 1591.2,266.06 1591.8,295.68 1592.4,261.89 1593,284.14 1593.6,266.23 1594.2,292.07 1594.8,279.82 1595.4,298.86 1596,274.99 1596.6,282.87 1597.2,278.11 1597.8,299.08 1598.4,277.36 1599,286.02 1599.6,270.87 1600.2,285.32 1600.8,268.54 1601.4,281.09 1602,273.62 1602.6,290.5 1603.2,269.71 1603.8,291.31 1604.4,277.08 1605,292.24 1605.6,261.29 1606.2,289.02 1606.8,269.62 1607.4,297.6 1608,277.96 1608.6,285.19 1609.2,261.72 1609.8,286.06 1610.4,274.97 1611,287.66 1611.6,261.35 1612.2,291.64 1612.8,264.06 1613.4,284.32 1614,278.47 1614.6,294.6 1615.2,277.89 1615.8,295.19 1616.4,274.07 1617,283.75 1617.6,281.84 1618.2,290.5 1618.8,273.83 1619.4,285.65 1620,279.71 1620.6,283.4 1621.2,279.46 1621.8,287.83 1622.4,276.85 1623,293.77 1623.6,265.61 1624.2,296.52 1624.8,268.35 1625.4,286.64 1626,274 1626.6,296.22 1627.2,264.13 1627.8,285.41 1628.4,281.94 1629,282.36 1629.6,273.04 1630.2,299.07 1630.8,279.8 1631.4,296.55 1632,269.84 1632.6,298.29 1633.2,263.28 1633.8,282.21 1634.4,265.86 1635,282.39 1635.6,279.5 1636.2,286.8 1636.8,272.58 1637.4,281.09 1638,276.58 1638.6,282.34 1639.2,278.66 1639.8,281.02 1640.4,279.91 1641,282.94 1641.6,275.57 1642.2,286.91 1642.8,267.91 1643.4,291.29 1644,272.72 1644.6,285.48 1645.2,270.08 1645.8,283.42 1646.4,278.96 1647,282.43 1647.6,269.13 1648.2,283.02 1648.8,278.61 1649.4,286.96 1650,271.9 1650.6,293.67 1651.2,271.41 1651.8,292.72 1652.4,279.71 1653,300.9 1653.6,268.24 1654.2,289.03 1654.8,276.25 1655.4,293.05 1656,281.46 1656.6,294.9 1657.2,264.37 1657.8,288.85 1658.4,274.56 1659,286.92 1659.6,264.45 1660.2,289.51 1660.8,277.72 1661.4,297.05 1662,277.36 1662.6,301.77 1663.2,276.45 1663.8,293.59 1664.4,278.48 1665,293.37 1665.6,274.96 1666.2,283.82 1666.8,264.93 1667.4,284.48 1668,272.5 1668.6,294.73 1669.2,274.75 1669.8,287.03 1670.4,274.97 1671,302.24 1671.6,281.99 1672.2,299.02 1672.8,271.5 1673.4,289.48 1674,270.74 1674.6,292.68 1675.2,266.21 1675.8,300.46 1676.4,273.24 1677,286.35 1677.6,276.14 1678.2,298.25 1678.8,273.77 1679.4,281.68 1680,271.5 1680.6,282.24 1681.2,276.34 1681.8,292.29 1682.4,271.12 1683,290.11 1683.6,266.21 1684.2,291.92 1684.8,262.76 1685.4,296.91 1686,278.37 1686.6,296.5 1687.2,276.74 1687.8,300.92 1688.4,271.4 1689,288.9 1689.6,280.32 1690.2,299.1 1690.8,277.3 1691.4,282.8 1692,267.16 1692.6,282.92 1693.2,282.61 1693.8,283.29 1694.4,271.2 1695,293.3 1695.6,275.04 1696.2,303.07 1696.8,275.45 1697.4,286.38 1698,262.1 1698.6,285.03 1699.2,283.44 1699.8,287.09 1700.4,262.75 1701,291.32 1701.6,278.6 1702.2,290.57 1702.8,278.58 1703.4,300.16 1704,272.59 1704.6,289.3 1705.2,282.65 1705.8,302.39 1706.4,275 1707,294.7 1707.6,283.01 1708.2,307.51 1708.8,276.32 1709.4,306.17 1710,272.96 1710.6,298.96 1711.2,286.43 1711.8,306.68 1712.4,268.62 1713,287.83 1713.6,286.31 1714.2,300.8 1714.8,274.15 1715.4,290.34 1716,265.98 1716.6,289.39 1717.2,278.02 1717.8,297.38 1718.4,284.04 1719,302.33 1719.6,282.38 1720.2,305.25 1720.8,275.25 1721.4,290.75 1722,286.1 1722.6,298.65 1723.2,285.55 1723.8,295.97 1724.4,287.03 1725,286.81 1725.6,281.27 1726.2,285.3 1726.8,282.59" fill="none" stroke="#000" stroke-width="2.4" stroke-linejoin="round"/>
<path d="M1205.5,339.52 1206.1,341.34 1206.7,339.95 1207.3,341.83 1207.9,341.88 1208.5,344.99 1209.1,341.93 1209.7,345.48 1210.3,343.53 1210.9,346.45 1211.5,344.02 1212.1,346.72 1212.7,344.44 1213.3,346.61 1213.9,343.28 1214.5,345.98 1215.1,343.6 1215.7,345.11 1216.3,342.3 1216.9,344.17 1217.5,341.8 1218.1,344.92 1218.7,343.05 1219.3,345.16 1219.9,343.69 1220.5,346.62 1221.1,343.94 1221.7,347.39 1222.3,344.72 1222.9,348.65 1223.5,345.81 1224.1,348.45 1224.7,345.61 1225.3,347.28 1225.9,344.78 1226.5,345.17 1227.1,343.15 1227.7,344.87 1228.3,341.28 1228.9,343.34 1229.5,339.92 1230.1,342.54 1230.7,340.77 1231.3,342.44 1231.9,340.7 1232.5,342.17 1233.1,340.72 1233.7,341.28 1234.3,338.72 1234.9,341.29 1235.5,338.93 1236.1,341.19 1236.7,338.02 1237.3,340.56 1237.9,339.02 1238.5,341.26 1239.1,344.95 1239.7,339.53 1240.3,337.52 1240.9,339.77 1241.5,337.59 1242.1,339.57 1242.7,337.68 1243.3,340.87 1243.9,338.53 1244.5,340.17 1245.1,339.53 1245.7,341.7 1246.3,339.96 1246.9,341.01 1247.5,339.13 1248.1,341.55 1248.7,340.2 1249.3,342.38 1249.9,340.64 1250.5,343.36 1251.1,341.02 1251.7,344.21 1252.3,342.65 1252.9,343.46 1253.5,342.7 1254.1,343.52 1254.7,343.17 1255.3,345.54 1255.9,344.29 1256.5,345.73 1257.1,344.97 1257.7,347.78 1258.3,346.4 1258.9,348.5 1259.5,348.44 1260.1,349.41 1260.7,347.43 1261.3,350.2 1261.9,347.29 1262.5,349.41 1263.1,347.92 1263.7,351.43 1264.3,347.81 1264.9,351.39 1265.5,349.51 1266.1,349.91 1266.7,348.89 1267.3,351.77 1267.9,350.01 1268.5,350.46 1269.1,353.07 1269.7,352.27 1270.3,350.3 1270.9,351.75 1271.5,350.66 1272.1,351.13 1272.7,350.76 1273.3,336.88 1273.9,328.88 1274.5,330.38 1275.1,328.88 1275.7,330.45 1276.3,329.19 1276.9,331.15 1277.5,329.06 1278.1,331.05 1278.7,329.75 1279.3,331.91 1279.9,329.26 1280.5,330.14 1281.1,328.98 1281.7,330.05 1282.3,328.42 1282.9,329.05 1283.5,327.21 1284.1,328.65 1284.7,327.02 1285.3,329.35 1285.9,326.14 1286.5,329.03 1287.1,327.01 1287.7,323.2 1288.3,325.99 1288.9,328.09 1289.5,325.35 1290.1,327.73 1290.7,325.26 1291.3,327.64 1291.9,324.95 1292.5,328.22 1293.1,324.91 1293.7,327.14 1294.3,320.67 1294.9,326.33 1295.5,324.2 1296.1,325.85 1296.7,324.18 1297.3,324.69 1297.9,323.44 1298.5,324.74 1299.1,323.77 1299.7,324.84 1300.3,323.2 1300.9,324.03 1301.5,322.89 1302.1,324.51 1302.7,322.31 1303.3,325.37 1303.9,322.73 1304.5,325.97 1305.1,323.81 1305.7,325.83 1306.3,323.38 1306.9,327.33 1307.5,324.66 1308.1,328.54 1308.7,327.27 1309.3,330.25 1309.9,328.37 1310.5,331.65 1311.1,329.89 1311.7,331.73 1312.3,331.55 1312.9,334.1 1313.5,331.54 1314.1,334.35 1314.7,332.21 1315.3,335.75 1315.9,333.56 1316.5,336.13 1317.1,333.48 1317.7,335.69 1318.3,333.99 1318.9,336.34 1319.5,333.88 1320.1,336.45 1320.7,333.26 1321.3,337.25 1321.9,333.7 1322.5,337.39 1323.1,334.37 1323.7,335.91 1324.3,335.37 1324.9,337.53 1325.5,334.84 1326.1,336.26 1326.7,335.96 1327.3,336.77 1327.9,334.95 1328.5,337.21 1329.1,336.76 1329.7,338.44 1330.3,337.06 1330.9,338.02 1331.5,336.11 1332.1,338.52 1332.7,337.05 1333.3,337.98 1333.9,337.1 1334.5,338.62 1335.1,336.86 1335.7,339.14 1336.3,337.22 1336.9,340.58 1337.5,338.62 1338.1,339.65 1338.7,338.37 1339.3,340.95 1339.9,339.86 1340.5,342.44 1341.1,340.01 1341.7,342.72 1342.3,341.58 1342.9,344.12 1343.5,342.22 1344.1,344.36 1344.7,343.04 1345.3,344.88 1345.9,343.01 1346.5,344.23 1347.1,342.24 1347.7,343.46 1348.3,342.55 1348.9,343.27 1349.5,341.6 1350.1,344.42 1350.7,340.81 1351.3,343.32 1351.9,341.93 1352.5,343.49 1353.1,340.21 1353.7,343.33 1354.3,340.49 1354.9,343.81 1355.5,340.68 1356.1,343.55 1356.7,341.68 1357.3,343.81 1357.9,341.55 1358.5,343.09 1359.1,340.63 1359.7,344.13 1360.3,341.38 1360.9,343.85 1361.5,341.16 1362.1,342.93 1362.7,342.4 1363.3,343.14 1363.9,341.36 1364.5,344 1365.1,340.63 1365.7,343.97 1366.3,341.33 1366.9,342.03 1367.5,341.37 1368.1,341.42 1368.7,340.17 1369.3,341.05 1369.9,340.17 1370.5,342.04 1371.1,338.8 1371.7,340.36 1372.3,338.13 1372.9,340.45 1373.5,339.76 1374.1,340.72 1374.7,338.82 1375.3,342.2 1375.9,339.85 1376.5,340.89 1377.1,340.45 1377.7,341.04 1378.3,339.73 1378.9,342.14 1379.5,340.83 1380.1,342.36 1380.7,340.78 1381.3,343.31 1381.9,341.11 1382.5,343.21 1383.1,342.39 1383.7,343.73 1384.3,342.74 1384.9,344.19 1385.5,341.92 1386.1,343.84 1386.7,341.39 1387.3,342.5 1387.9,340.21 1388.5,342.12 1389.1,340.86 1389.7,341.08 1390.3,339.27 1390.9,340.65 1391.5,337.61 1392.1,340.8 1392.7,337.15 1393.3,338.33 1393.9,336.41 1394.5,337.31 1395.1,334.59 1395.7,331.65 1396.3,334.22 1396.9,334.68 1397.5,331.92 1398.1,333.8 1398.7,330.95 1399.3,333.18 1399.9,330.31 1400.5,331.29 1401.1,328.72 1401.7,331.7 1402.3,328.33 1402.9,332.03 1403.5,325.9 1404.1,329.13 1404.7,326.78 1405.3,329.98 1405.9,324.58 1406.5,329.09 1407.1,323.92 1407.7,325.76 1408.3,322.69 1408.9,324.86 1409.5,321.93 1410.1,325.55 1410.7,323.61 1411.3,324.11 1411.9,321.34 1412.5,322.87 1413.1,321.38 1413.7,326.42 1414.3,324.51 1414.9,325.7 1415.5,324.6 1416.1,322.98 1416.7,324.75 1417.3,326.42 1417.9,320.42 1418.5,324.7 1419.1,318.93 1419.7,319.11 1420.3,315.61 1420.9,316.4 1421.5,313.81 1422.1,314.45 1422.7,309.55 1423.3,311.68 1423.9,306.13 1424.5,308.74 1425.1,303.93 1425.7,304.54 1426.3,306.9 1426.9,299.86 1427.5,296.31 1428.1,298.06 1428.7,294.31 1429.3,296.96 1429.9,293.27 1430.5,294.83 1431.1,292.85 1431.7,293.02 1432.3,289.53 1432.9,294.38 1433.5,287.61 1434.1,291.29 1434.7,286.43 1435.3,289.47 1435.9,284.46 1436.5,286.54 1437.1,278.45 1437.7,279.59 1438.3,276.18 1438.9,277.01 1439.5,270.42 1440.1,272.98 1440.7,272.83 1441.3,279.72 1441.9,281.44 1442.5,286.25 1443.1,286.27 1443.7,290.09 1444.3,282.43 1444.9,284.01 1445.5,280.27 1446.1,281.74 1446.7,275.54 1447.3,278.01 1447.9,272.21 1448.5,274.63 1449.1,273.05 1449.7,274.01 1450.3,271.01 1450.9,271.42 1451.5,268.51 1452.1,271.74 1452.7,268.34 1453.3,267.73 1453.9,265.83 1454.5,267.89 1455.1,264.46 1455.7,267.8 1456.3,264.17 1456.9,266.15 1457.5,262.39 1458.1,266.91 1458.7,263.66 1459.3,266.39 1459.9,260.98 1460.5,264.67 1461.1,263.94 1461.7,267.08 1462.3,262.93 1462.9,267.62 1463.5,262.93 1464.1,266.73 1464.7,264.71 1465.3,268.68 1465.9,264.42 1466.5,267.4 1467.1,264.71 1467.7,266.87 1468.3,264.92 1468.9,269.53 1469.5,264.04 1470.1,267.33 1470.7,265.69 1471.3,268.56 1471.9,264.97 1472.5,270.24 1473.1,266.67 1473.7,271.61 1474.3,268.12 1474.9,269.54 1475.5,266.26 1476.1,269.68 1476.7,265.69 1477.3,269.87 1477.9,268.09 1478.5,271.54 1479.1,267.57 1479.7,268.46 1480.3,265.72 1480.9,270.02 1481.5,267.88 1482.1,270.87 1482.7,266.83 1483.3,268.45 1483.9,267.34 1484.5,270.45 1485.1,264.22 1485.7,269.2 1486.3,262.86 1486.9,264.01 1487.5,262.17 1488.1,264.28 1488.7,260.39 1489.3,261.96 1489.9,260.39 1490.5,264.39 1491.1,261.3 1491.7,262.62 1492.3,259.77 1492.9,263.81 1493.5,260.49 1494.1,264.96 1494.7,261.62 1495.3,267.41 1495.9,265.58 1496.5,268.53 1497.1,264.81 1497.7,268.84 1498.3,265.9 1498.9,268.74 1499.5,265.61 1500.1,269.54 1500.7,266.07 1501.3,269.4 1501.9,268.17 1502.5,269.43 1503.1,261.37 1503.7,270.88 1504.3,265.81 1504.9,267.58 1505.5,265.66 1506.1,268.79 1506.7,265.03 1507.3,267.46 1507.9,264.31 1508.5,269.02 1509.1,263.14 1509.7,268.73 1510.3,265.22 1510.9,268.17 1511.5,263.99 1512.1,269.36 1512.7,264.96 1513.3,269.51 1513.9,265.24 1514.5,269.13 1515.1,266.01 1515.7,270.08 1516.3,265.08 1516.9,271.17 1517.5,267.56 1518.1,271.3 1518.7,265.91 1519.3,270.07 1519.9,267.51 1520.5,270.54 1521.1,266.77 1521.7,270.26 1522.3,268.82 1522.9,270.68 1523.5,269.42 1524.1,270.76 1524.7,267.94 1525.3,273.47 1525.9,268.64 1526.5,272.95 1527.1,271.37 1527.7,273.18 1528.3,269.34 1528.9,273.01 1529.5,270.7 1530.1,272.93 1530.7,273.03 1531.3,273.86 1531.9,272.24 1532.5,275.08 1533.1,271.8 1533.7,274.44 1534.3,272.14 1534.9,275.98 1535.5,271.61 1536.1,275.03 1536.7,273.86 1537.3,278.07 1537.9,274.3 1538.5,278.69 1539.1,274.82 1539.7,278.34 1540.3,273.44 1540.9,278.34 1541.5,275.84 1542.1,279.4 1542.7,275.81 1543.3,278.91 1543.9,276.22 1544.5,279.82 1545.1,275.31 1545.7,278.22 1546.3,274.24 1546.9,279.59 1547.5,277.11 1548.1,278.37 1548.7,274.66 1549.3,280.15 1549.9,277.2 1550.5,278.93 1551.1,277.14 1551.7,279.4 1552.3,275.15 1552.9,278.13 1553.5,276.77 1554.1,278.89 1554.7,275.94 1555.3,278.77 1555.9,277.44 1556.5,280.08 1557.1,279.04 1557.7,282.12 1558.3,278.21 1558.9,282.77 1559.5,279.47 1560.1,282.1 1560.7,279.61 1561.3,284.65 1561.9,280.36 1562.5,284.39 1563.1,280.96 1563.7,287.74 1564.3,284.42 1564.9,286.51 1565.5,285.43 1566.1,291.15 1566.7,290.09 1567.3,294.78 1567.9,289.08 1568.5,291.92 1569.1,287.62 1569.7,288.33 1570.3,282.34 1570.9,285.56 1571.5,279.79 1572.1,286.72 1572.7,278.55 1573.3,279.31 1573.9,274.33 1574.5,276.67 1575.1,271.68 1575.7,277 1576.3,273.02 1576.9,277.76 1577.5,275.31 1578.1,278.44 1578.7,278.19 1579.3,279.61 1579.9,278.11 1580.5,281.15 1581.1,278.42 1581.7,281.77 1582.3,280.91 1582.9,282.07 1583.5,279.74 1584.1,284.75 1584.7,280.45 1585.3,283.74 1585.9,282.15 1586.5,286.35 1587.1,283.64 1587.7,285.3 1588.3,281.91 1588.9,285.03 1589.5,282.04 1590.1,288.31 1590.7,283.64 1591.3,286.43 1591.9,282.79 1592.5,284.62 1593.1,282.84 1593.7,279.27 1594.3,279.44 1594.9,284.4 1595.5,283.11 1596.1,287.14 1596.7,285.6 1597.3,290.89 1597.9,287.7 1598.5,291.23 1599.1,290.11 1599.7,294.27 1600.3,293.33 1600.9,291.9 1601.5,296.97 1602.1,302.04 1602.7,300.51 1603.3,306.22 1603.9,303.04 1604.5,305.44 1605.1,302.99 1605.7,306.37 1606.3,311.18 1606.9,307.32 1607.5,303.51 1608.1,304.84 1608.7,304.21 1609.3,305.88 1609.9,304.15 1610.5,305.35 1611.1,303.36 1611.7,305.46 1612.3,303.19 1612.9,308.07 1613.5,302.13 1614.1,306.96 1614.7,302.61 1615.3,306.7 1615.9,304.43 1616.5,308.43 1617.1,303.96 1617.7,308.01 1618.3,305.38 1618.9,308.01 1619.5,305.93 1620.1,311.68 1620.7,309.87 1621.3,310.85 1621.9,315.54 1622.5,313.08 1623.1,311.7 1623.7,312.85 1624.3,311.92 1624.9,312.11 1625.5,311.12 1626.1,313.89 1626.7,308.81 1627.3,313.06 1627.9,308.65 1628.5,309.21 1629.1,308.75 1629.7,312.25 1630.3,307.69 1630.9,311.68 1631.5,309.93 1632.1,313.38 1632.7,309.34 1633.3,312.43 1633.9,310.97 1634.5,315.3 1635.1,311.36 1635.7,316.86 1636.3,312.76 1636.9,315.46 1637.5,312.49 1638.1,317.9 1638.7,315.77 1639.3,321.34 1639.9,317.2 1640.5,323.81 1641.1,320.33 1641.7,325.93 1642.3,324.12 1642.9,328.02 1643.5,324.08 1644.1,326.81 1644.7,323.08 1645.3,325.06 1645.9,324.2 1646.5,326.36 1647.1,321.31 1647.7,326.84 1648.3,322.42 1648.9,324.23 1649.5,320.8 1650.1,324.05 1650.7,320.68 1651.3,326.29 1651.9,322.71 1652.5,326.17 1653.1,322.99 1653.7,326.07 1654.3,324.51 1654.9,326.05 1655.5,324.39 1656.1,328.65 1656.7,323.71 1657.3,328.09 1657.9,323.86 1658.5,335.34 1659.1,326.2 1659.7,328.08 1660.3,324.39 1660.9,327.1 1661.5,324.72 1662.1,326.66 1662.7,322.44 1663.3,324.85 1663.9,320.54 1664.5,323.31 1665.1,320.51 1665.7,322.4 1666.3,320.61 1666.9,326.58 1667.5,324.24 1668.1,327.91 1668.7,326.37 1669.3,329.8 1669.9,328.69 1670.5,331.49 1671.1,327.36 1671.7,330.93 1672.3,329.27 1672.9,328.25 1673.5,330.12 1674.1,336.22 1674.7,332.7 1675.3,336.8 1675.9,331.73 1676.5,336.66 1677.1,334.97 1677.7,336.12 1678.3,333.58 1678.9,335.98 1679.5,332.49 1680.1,330.49 1680.7,333.05 1681.3,336.17 1681.9,335.8 1682.5,337.73 1683.1,333.64 1683.7,337.07 1684.3,331.87 1684.9,335.2 1685.5,330.79 1686.1,330.03 1686.7,323.85 1687.3,321.05 1687.9,311.93 1688.5,316.46 1689.1,317.08 1689.7,325.61 1690.3,325.85 1690.9,329.42 1691.5,328.81 1692.1,331.48 1692.7,330.05 1693.3,334.02 1693.9,329.95 1694.5,335.44 1695.1,332.34 1695.7,336.38 1696.3,332.66 1696.9,336.54 1697.5,333.64 1698.1,337.6 1698.7,335.29 1699.3,338.26 1699.9,335.04 1700.5,337.96 1701.1,336.49 1701.7,338.95 1702.3,334.22 1702.9,338.94 1703.5,335.77 1704.1,339.51 1704.7,336.57 1705.3,338.98 1705.9,337.64 1706.5,339.05 1707.1,337.53 1707.7,339.25 1708.3,337.84 1708.9,333.03 1709.5,335.59 1710.1,339.42 1710.7,335.74 1711.3,338.24 1711.9,335.2 1712.5,337.82 1713.1,333.53 1713.7,335.8 1714.3,333.09 1714.9,337.7 1715.5,333.6 1716.1,334.33 1716.7,333.83 1717.3,334.48 1717.9,332.71 1718.5,334.77 1719.1,331.92 1719.7,329.3 1720.3,332.12 1720.9,334.77 1721.5,330.32 1722.1,334 1722.7,331.2 1723.3,335.38 1723.9,334.38 1724.5,337.47 1725.1,332.61 1725.7,332.64 1726.3,336.52 1726.9,338.56" fill="none" stroke="#f00" stroke-width="2.8" stroke-linejoin="round"/>
</g>
<line x1="1726" y1="111" x2="1726" y2="454" stroke="#1f77b4" stroke-width="2" stroke-dasharray="2 3.4"/>
<g clip-path="url(#clipR2)">
<line x1="1205" y1="512.4" x2="1800" y2="512.4" stroke="#000" stroke-width="1.8" stroke-dasharray="1.8 3.7"/>
<path d="M1205.1,513.23 1208.2,513.2 1211.3,512.02 1214.4,510.26 1217.5,508.12 1220.6,508.23 1223.7,508.13 1226.8,507.4 1229.9,507.58 1233,507.69 1236.1,507.68 1239.2,507.14 1242.3,507.74 1245.4,508.64 1248.5,512.01 1251.6,510.03 1254.7,508.51 1257.8,507.13 1260.9,508.31 1264,507.91 1267.1,508.29 1270.2,507.88 1273.3,503.37 1276.4,497.76 1279.5,493.21 1282.6,490.6 1285.7,498.72 1288.8,502.02 1291.9,500.38 1295,500.94 1298.1,499.08 1301.2,502.87 1304.3,509.71 1307.4,514.2 1310.5,518.09 1313.6,517.66 1316.7,516.48 1319.8,519.47 1322.9,524.42 1326,525.05 1329.1,525.84 1332.2,523.41 1335.3,522.54 1338.4,522.39 1341.5,522.2 1344.6,523.13 1347.7,521.63 1350.8,518.33 1353.9,513.51 1357,513.43 1360.1,516.35 1363.2,517.33 1366.3,518.56 1369.4,516 1372.5,513.83 1375.6,512.72 1378.7,512.3 1381.8,513.03 1384.9,513.68 1388,507.78 1391.1,507.1 1394.2,507.6 1397.3,509.22 1400.4,511.72 1403.5,508.23 1406.6,506.5 1409.7,506.92 1412.8,510.8 1415.9,513.22 1419,515.46 1422.1,515.87 1425.2,513.41 1428.3,508.67 1431.4,505.31 1434.5,509.83 1437.6,515.26 1440.7,519.33 1443.8,522.69 1446.9,522.11 1450,521.83 1453.1,522.73 1456.2,526.42 1459.3,529.85 1462.4,527.79 1465.5,525.5 1468.6,522.79 1471.7,522.59 1474.8,522.06 1477.9,520.1 1481,520.35 1484.1,519.81 1487.2,520.18 1490.3,518.27 1493.4,516.05 1496.5,518.74 1499.6,518.71 1502.7,517.69 1505.8,513.52 1508.9,512.41 1512,520.38 1515.1,523.97 1518.2,524.96 1521.3,522.87 1524.4,518.2 1527.5,515.93 1530.6,513.33 1533.7,510.39 1536.8,506.4 1539.9,504.61 1543,507.54 1546.1,511.05 1549.2,512.72 1552.3,512.11 1555.4,511.44 1558.5,511.94 1561.6,516.01 1564.7,517.61 1567.8,518.58 1570.9,517.75 1574,517.22 1577.1,515.8 1580.2,513.64 1583.3,515.78 1586.4,517.19 1589.5,518.62 1592.6,520.51 1595.7,522.63 1598.8,520.56 1601.9,517.61 1605,514.21 1608.1,514.15 1611.2,512.18 1614.3,515.1 1617.4,516.91 1620.5,515.45 1623.6,517 1626.7,517.5 1629.8,518.06 1632.9,517.04 1636,515.9 1639.1,515.71 1642.2,516.31 1645.3,515.7 1648.4,513.65 1651.5,513.11 1654.6,513.59 1657.7,513.94 1660.8,515.27 1663.9,516.11 1667,519.35 1670.1,519.2 1673.2,516.58 1676.3,515.84 1679.4,513.9 1682.5,512.81 1685.6,510.84 1688.7,509.95 1691.8,512.55 1694.9,515.51 1698,516.74 1701.1,515.1 1704.2,512.77 1707.3,512.78 1710.4,512.43 1713.5,512.03 1716.6,512.62 1719.7,512.14 1721.9,513.9" fill="none" stroke="#000" stroke-width="2.0" stroke-linejoin="round"/>
<path d="M1206,647.72 1206.5,651.08 1207,656.97 1207.5,639.22 1208,655.74 1208.5,656.27 1209,644.57 1209.5,649.86 1210,640.63 1210.5,650.1 1211,640.96 1211.5,647.92 1212,644.17 1212.5,649.21 1213,642.83 1213.5,652.61 1214,646.87 1214.5,654.05 1215,644.93 1215.5,648.27 1216,648.05 1216.5,652.35 1217,643.63 1217.5,655.03 1218,645.74 1218.5,654.03 1219,646.84 1219.5,662.27 1220,647.05 1220.5,644 1221,651.55 1221.5,661.51 1222,649.85 1222.5,656.54 1223,646.01 1223.5,656.42 1224,649.05 1224.5,658.51 1225,643.13 1225.5,642.88 1226,649.82 1226.5,652.3 1227,649.66 1227.5,652.68 1228,645.89 1228.5,657.27 1229,664.7 1229.5,656.3 1230,650.31 1230.5,657.22 1231,646 1231.5,658.18 1232,652.01 1232.5,662.9 1233,648.85 1233.5,658.61 1234,661.9 1234.5,658.56 1235,652.32 1235.5,656.68 1236,652.06 1236.5,658.03 1237,651.45 1237.5,658.73 1238,646.89 1238.5,660.7 1239,654 1239.5,647.71 1240,654.57 1240.5,659.11 1241,655.94 1241.5,665.75 1242,652.53 1242.5,648.83 1243,654.47 1243.5,660.65 1244,652.17 1244.5,659.03 1245,656.32 1245.5,658.11 1246,653.74 1246.5,660.19 1247,655.16 1247.5,660.77 1248,655.17 1248.5,661.06 1249,651.7 1249.5,663.47 1250,650.21 1250.5,661.92 1251,657.24 1251.5,663.96 1252,658.87 1252.5,663.57 1253,660.95 1253.5,664.02 1254,658.8 1254.5,663.62 1255,668.37 1255.5,671.93 1256,658.96 1256.5,667.81 1257,663.12 1257.5,669.78 1258,663.33 1258.5,665.82 1259,663.99 1259.5,669.81 1260,659.55 1260.5,666.88 1261,662.84 1261.5,668.97 1262,661.34 1262.5,665.7 1263,663.99 1263.5,671.28 1264,664.75 1264.5,671.19 1265,667.8 1265.5,670.39 1266,676.87 1266.5,673.57 1267,663.8 1267.5,670.34 1268,669.56 1268.5,675.19 1269,663.1 1269.5,677.65 1270,678.98 1270.5,670.6 1271,661.23 1271.5,673.08 1272,663.82 1272.5,650.39 1273,608.45 1273.5,618.56 1274,598.85 1274.5,616.01 1275,610.9 1275.5,612.55 1276,600.46 1276.5,612.43 1277,600.46 1277.5,614.08 1278,603.68 1278.5,615.13 1279,599.65 1279.5,609.34 1280,620.12 1280.5,612.99 1281,604.72 1281.5,598.55 1282,601.76 1282.5,608.2 1283,599.64 1283.5,620.68 1284,591.79 1284.5,607.11 1285,581.35 1285.5,604.33 1286,609.1 1286.5,583.61 1287,599.03 1287.5,611.57 1288,596.43 1288.5,600.13 1289,589.14 1289.5,602.94 1290,588.28 1290.5,605.26 1291,595.41 1291.5,606.31 1292,594.07 1292.5,612.46 1293,596.42 1293.5,603.63 1294,591.67 1294.5,608.1 1295,598.01 1295.5,606.09 1296,595.78 1296.5,607.87 1297,592.47 1297.5,603.18 1298,598.53 1298.5,609.07 1299,595.4 1299.5,610.18 1300,619.62 1300.5,614.2 1301,606.51 1301.5,618.27 1302,598.31 1302.5,618.09 1303,603.99 1303.5,621.91 1304,616.77 1304.5,612.38 1305,632.99 1305.5,626.95 1306,624.6 1306.5,631.07 1307,630.43 1307.5,633.55 1308,633.15 1308.5,640.08 1309,638.28 1309.5,640.9 1310,637.93 1310.5,644.64 1311,641.05 1311.5,649.28 1312,644.33 1312.5,647.83 1313,644.24 1313.5,654.24 1314,649.23 1314.5,654.9 1315,648.89 1315.5,661.34 1316,670.75 1316.5,660.57 1317,645.73 1317.5,652.97 1318,645.13 1318.5,665.37 1319,649.81 1319.5,644.3 1320,651.67 1320.5,660.07 1321,653.5 1321.5,659.87 1322,647.29 1322.5,658.28 1323,649.11 1323.5,664.94 1324,650.65 1324.5,656.41 1325,651.59 1325.5,660.54 1326,646.27 1326.5,657.78 1327,650.25 1327.5,653.22 1328,647.96 1328.5,645.3 1329,633.22 1329.5,627.51 1330,630.97 1330.5,620.79 1331,631.25 1331.5,622.74 1332,609.13 1332.5,627.08 1333,614.9 1333.5,624.27 1334,609.6 1334.5,624.39 1335,614.23 1335.5,615.66 1336,641.41 1336.5,636.78 1337,635.67 1337.5,652.46 1338,641.15 1338.5,650.15 1339,640.54 1339.5,656.86 1340,651.19 1340.5,664.64 1341,650.79 1341.5,654.23 1342,649.8 1342.5,667.65 1343,646.98 1343.5,664.14 1344,654.23 1344.5,670.77 1345,650.59 1345.5,662.58 1346,676.85 1346.5,660.02 1347,653.12 1347.5,673.58 1348,651.25 1348.5,665.31 1349,653.33 1349.5,661.48 1350,654.61 1350.5,669.74 1351,648.81 1351.5,661.05 1352,656.69 1352.5,659.29 1353,657.71 1353.5,665.09 1354,652.72 1354.5,656.39 1355,650.69 1355.5,644.09 1356,647.35 1356.5,665.49 1357,650.48 1357.5,645.33 1358,652.22 1358.5,656.38 1359,646.88 1359.5,661.59 1360,649.44 1360.5,660.9 1361,646.92 1361.5,651.61 1362,641.72 1362.5,662.34 1363,651.47 1363.5,654.7 1364,644.95 1364.5,643.67 1365,650.9 1365.5,654.73 1366,648.31 1366.5,655.58 1367,647.57 1367.5,656.98 1368,650.55 1368.5,655.68 1369,643.17 1369.5,658.93 1370,667.57 1370.5,663.12 1371,646.18 1371.5,664.94 1372,648.77 1372.5,661.67 1373,649.58 1373.5,663.49 1374,644.41 1374.5,660.06 1375,647.33 1375.5,658.87 1376,643.94 1376.5,659.54 1377,650.97 1377.5,660.38 1378,647.22 1378.5,668.17 1379,659.32 1379.5,646.87 1380,657.39 1380.5,661.72 1381,655.14 1381.5,664.9 1382,662.6 1382.5,644.59 1383,656.7 1383.5,666.98 1384,662.06 1384.5,667.86 1385,656.72 1385.5,643.54 1386,659.19 1386.5,665.93 1387,660.16 1387.5,667.84 1388,656.24 1388.5,661.93 1389,657.73 1389.5,647.92 1390,657.29 1390.5,664.76 1391,652.33 1391.5,660.72 1392,654.97 1392.5,629.72 1393,624.22 1393.5,633.28 1394,616.39 1394.5,610.37 1395,625.06 1395.5,632.4 1396,631.13 1396.5,639.12 1397,638.17 1397.5,636.74 1398,620.49 1398.5,632.29 1399,619.94 1399.5,623.9 1400,615.27 1400.5,622.21 1401,611.18 1401.5,621.09 1402,609.43 1402.5,614.57 1403,614.72 1403.5,619.15 1404,611.71 1404.5,615.08 1405,607.7 1405.5,617.08 1406,612.4 1406.5,619.04 1407,612.98 1407.5,613.87 1408,609.32 1408.5,614.48 1409,607.38 1409.5,617.24 1410,614.56 1410.5,618 1411,613.44 1411.5,619.75 1412,610.65 1412.5,618.11 1413,609.05 1413.5,618.17 1414,608.31 1414.5,615 1415,611.61 1415.5,612.4 1416,604.7 1416.5,612.4 1417,603.62 1417.5,608.26 1418,599.72 1418.5,610.33 1419,600.04 1419.5,610.74 1420,599.52 1420.5,609.17 1421,611.39 1421.5,608.09 1422,599.57 1422.5,602.28 1423,597.86 1423.5,604.02 1424,599.9 1424.5,610.85 1425,596.49 1425.5,600.28 1426,597.08 1426.5,602.72 1427,596.3 1427.5,597.89 1428,593.67 1428.5,604.46 1429,590.5 1429.5,601.56 1430,598.25 1430.5,606.08 1431,593.2 1431.5,599.72 1432,592.03 1432.5,602.88 1433,589.44 1433.5,601.92 1434,596.9 1434.5,602.54 1435,596.05 1435.5,591.02 1436,595.04 1436.5,602.44 1437,608.26 1437.5,601.81 1438,591.22 1438.5,606.34 1439,599.73 1439.5,600.82 1440,596.47 1440.5,603.85 1441,595.71 1441.5,593.16 1442,599.03 1442.5,605.13 1443,599.66 1443.5,607.38 1444,595.24 1444.5,604.99 1445,600.07 1445.5,603.94 1446,600.07 1446.5,609.04 1447,603.09 1447.5,607.04 1448,601.23 1448.5,605.08 1449,602.31 1449.5,605.89 1450,602.31 1450.5,609.68 1451,602.12 1451.5,608.06 1452,601.91 1452.5,607.69 1453,604.25 1453.5,609.24 1454,601.77 1454.5,607.66 1455,603.72 1455.5,607.15 1456,603 1456.5,608.09 1457,605.86 1457.5,606.58 1458,606.17 1458.5,602.65 1459,605.23 1459.5,611.28 1460,605.13 1460.5,607.95 1461,603.07 1461.5,607 1462,605.3 1462.5,612.15 1463,615.04 1463.5,613.84 1464,601.43 1464.5,609.23 1465,604.69 1465.5,609.92 1466,607.05 1466.5,610.21 1467,607.08 1467.5,616.29 1468,608.67 1468.5,614.68 1469,608.98 1469.5,612.8 1470,607.97 1470.5,615.91 1471,604.06 1471.5,616.77 1472,611.82 1472.5,615.7 1473,606.33 1473.5,612.05 1474,610.14 1474.5,613.96 1475,604.19 1475.5,613.06 1476,610.92 1476.5,614.37 1477,611.91 1477.5,614.88 1478,610.82 1478.5,618.69 1479,620.32 1479.5,614.58 1480,609.94 1480.5,613.96 1481,611.71 1481.5,618.1 1482,623.24 1482.5,617.96 1483,610.23 1483.5,615.76 1484,608.43 1484.5,622.05 1485,611.46 1485.5,615.06 1486,609 1486.5,619.78 1487,621.44 1487.5,603.88 1488,621.84 1488.5,614.64 1489,613.41 1489.5,617.84 1490,607.72 1490.5,616.88 1491,612.83 1491.5,616.26 1492,608.94 1492.5,616.48 1493,609.34 1493.5,614.28 1494,610.85 1494.5,615.03 1495,608.18 1495.5,614.37 1496,609.74 1496.5,618.22 1497,614.31 1497.5,622.3 1498,611.94 1498.5,622.78 1499,612.63 1499.5,607 1500,614.18 1500.5,616.45 1501,613.69 1501.5,606.78 1502,611.7 1502.5,619.72 1503,612.83 1503.5,616.56 1504,609.56 1504.5,619.71 1505,612.08 1505.5,614.93 1506,609.86 1506.5,617.4 1507,620.18 1507.5,614.21 1508,612.24 1508.5,620.77 1509,611.99 1509.5,619.33 1510,609.83 1510.5,613.32 1511,612.38 1511.5,614.53 1512,620.42 1512.5,614.68 1513,610.22 1513.5,615.77 1514,610.73 1514.5,614.76 1515,608.5 1515.5,615.97 1516,608.39 1516.5,613.72 1517,612.79 1517.5,616.54 1518,610.88 1518.5,614.15 1519,608.31 1519.5,615.25 1520,609.65 1520.5,615.34 1521,612.61 1521.5,615.17 1522,611.42 1522.5,617.97 1523,610.25 1523.5,614.81 1524,611.88 1524.5,616.02 1525,608.96 1525.5,614.06 1526,617.89 1526.5,607.25 1527,610.66 1527.5,615.86 1528,608.52 1528.5,615.02 1529,609.62 1529.5,614.32 1530,610.29 1530.5,613.37 1531,611.6 1531.5,612.41 1532,607.36 1532.5,612.52 1533,611.8 1533.5,615.25 1534,612.6 1534.5,616.34 1535,612.84 1535.5,618.22 1536,612.42 1536.5,616.63 1537,612.1 1537.5,622.38 1538,612.49 1538.5,609.89 1539,613.59 1539.5,618.44 1540,615.02 1540.5,618.21 1541,614.76 1541.5,620.9 1542,611.55 1542.5,623.04 1543,609.21 1543.5,621.78 1544,617.42 1544.5,617.17 1545,613.03 1545.5,628.27 1546,617.06 1546.5,619.45 1547,615.42 1547.5,622.08 1548,612.97 1548.5,624.43 1549,620.13 1549.5,627.22 1550,620.89 1550.5,625.2 1551,618.72 1551.5,611.42 1552,615.27 1552.5,624.49 1553,617.63 1553.5,624 1554,617.38 1554.5,628.32 1555,623.65 1555.5,626.76 1556,619.03 1556.5,625.68 1557,617.32 1557.5,626.63 1558,619.84 1558.5,625.74 1559,619.87 1559.5,630.51 1560,623.08 1560.5,626.39 1561,624.68 1561.5,632.46 1562,622.37 1562.5,629.21 1563,614.7 1563.5,625.68 1564,617.6 1564.5,624.83 1565,618.22 1565.5,619.13 1566,614.94 1566.5,618.67 1567,613.41 1567.5,619.2 1568,614.34 1568.5,619.81 1569,615.77 1569.5,616.68 1570,614.09 1570.5,619.78 1571,614.93 1571.5,618.01 1572,614.06 1572.5,616.41 1573,614.96 1573.5,617.84 1574,614.09 1574.5,617.59 1575,615.1 1575.5,616.79 1576,614.04 1576.5,612.51 1577,615.31 1577.5,617.05 1578,613.13 1578.5,616.55 1579,613.89 1579.5,616.49 1580,615.04 1580.5,616.46 1581,613.89 1581.5,619.13 1582,616.84 1582.5,617.85 1583,616.27 1583.5,618.16 1584,616.35 1584.5,617.04 1585,615.24 1585.5,618.27 1586,616.04 1586.5,616.91 1587,616.22 1587.5,617.6 1588,612.98 1588.5,613.39 1589,615.62 1589.5,618.62 1590,621.21 1590.5,617.21 1591,614.65 1591.5,618.05 1592,615.02 1592.5,619.27 1593,614.6 1593.5,618.77 1594,615.67 1594.5,620.34 1595,614.34 1595.5,620.87 1596,618.66 1596.5,624.79 1597,624.18 1597.5,631.21 1598,631.44 1598.5,640.45 1599,636.7 1599.5,642.74 1600,634.88 1600.5,646.08 1601,641.55 1601.5,638.18 1602,643.22 1602.5,653.74 1603,646.36 1603.5,653.8 1604,655.96 1604.5,652.75 1605,648.91 1605.5,654.46 1606,649.85 1606.5,654.98 1607,650.36 1607.5,655.91 1608,652.82 1608.5,657.54 1609,652.86 1609.5,657.8 1610,654.06 1610.5,654.81 1611,652.68 1611.5,663.23 1612,651.65 1612.5,656.28 1613,653.73 1613.5,659.45 1614,653.3 1614.5,660.13 1615,655.99 1615.5,649.8 1616,655.28 1616.5,660.62 1617,667.42 1617.5,661.17 1618,666.48 1618.5,663.57 1619,669.29 1619.5,663.24 1620,657.75 1620.5,661.77 1621,659.91 1621.5,652.77 1622,669.46 1622.5,666.15 1623,658.54 1623.5,665.15 1624,658.8 1624.5,671.49 1625,660.73 1625.5,663.57 1626,658.81 1626.5,666.98 1627,654.27 1627.5,669.28 1628,659.52 1628.5,671.44 1629,663.5 1629.5,671.71 1630,660.99 1630.5,658.5 1631,664.32 1631.5,669.95 1632,661.08 1632.5,668.65 1633,665.51 1633.5,672.26 1634,667.88 1634.5,674.4 1635,663.28 1635.5,670.27 1636,668.22 1636.5,672.76 1637,669.45 1637.5,675.83 1638,664.37 1638.5,662.93 1639,666.42 1639.5,673.75 1640,666.53 1640.5,673.55 1641,670.93 1641.5,672.82 1642,668.09 1642.5,667.13 1643,672.61 1643.5,666.47 1644,665.52 1644.5,670.26 1645,670.54 1645.5,683.4 1646,690.47 1646.5,684.15 1647,675.1 1647.5,684.38 1648,678.49 1648.5,695.64 1649,674.92 1649.5,685.15 1650,677.86 1650.5,690.38 1651,681.77 1651.5,691.49 1652,681.33 1652.5,694.21 1653,686.83 1653.5,692.78 1654,679.4 1654.5,694.8 1655,682.19 1655.5,695.24 1656,682.6 1656.5,690.26 1657,688.49 1657.5,697.67 1658,682.21 1658.5,698.04 1659,684.29 1659.5,696.61 1660,684.62 1660.5,706.69 1661,682.75 1661.5,693.2 1662,685.84 1662.5,696.5 1663,684.36 1663.5,696.07 1664,708.23 1664.5,693.79 1665,687.78 1665.5,699.64 1666,691.36 1666.5,698.09 1667,694.66 1667.5,698.29 1668,693.68 1668.5,712.75 1669,697.12 1669.5,700.55 1670,689.35 1670.5,700.16 1671,694.56 1671.5,693.97 1672,693.72 1672.5,704.6 1673,699.58 1673.5,705.26 1674,713.68 1674.5,705.84 1675,704.24 1675.5,708.33 1676,701.97 1676.5,712.95 1677,696.88 1677.5,694 1678,712.18 1678.5,732.25 1679,713.05 1679.5,730.63 1680,706.11 1680.5,739.73 1681,705.7 1681.5,728.76 1682,727.98 1682.5,760 1683,760 1683.5,744.11 1684,724.42 1684.5,697 1685,697 1685.5,740.09 1686,710.35 1686.5,730.49 1687,708.19 1687.5,740.5 1688,726.03 1688.5,709.24 1689,715.41 1689.5,778 1690,778 1690.5,721.1 1691,708.17 1691.5,731.02 1692,710.3 1692.5,714.63 1693,708.01 1693.5,716.25 1694,706.31 1694.5,720.29 1695,709.18 1695.5,714.88 1696,707.82 1696.5,710.35 1697,708.16 1697.5,712.03 1698,708.29 1698.5,710.96 1699,707.91 1699.5,710.05 1700,716.33 1700.5,707.23 1701,699.2 1701.5,702.43 1702,694.82 1702.5,687.71 1703,688.65 1703.5,708.89 1704,681.79 1704.5,688.99 1705,676.49 1705.5,683.75 1706,679.61 1706.5,684.88 1707,671.04 1707.5,673.07 1708,664.64 1708.5,674.71 1709,660.88 1709.5,662.91 1710,654.88 1710.5,648.31 1711,656.96 1711.5,657.87 1712,669.54 1712.5,662.23 1713,652.91 1713.5,661.36 1714,652.43 1714.5,659.8 1715,647.59 1715.5,653.64 1716,645.38 1716.5,652.4 1717,647 1717.5,656.89 1718,648.7 1718.5,652.63 1719,647.74 1719.5,649.62 1720,646.18 1720.5,648.09 1721,642.49 1721.5,646.62 1722,644.2 1722.5,642.2 1723,644.35 1723.5,648.1 1724,643.62 1724.5,647.75 1725,646.42 1725.5,649.35 1726,646.95 1726.5,649.09 1727,646.21" fill="none" stroke="#f00" stroke-width="2.3" stroke-linejoin="round"/>
</g>
<line x1="1726" y1="479" x2="1726" y2="821" stroke="#1f77b4" stroke-width="2" stroke-dasharray="2 3.4"/>
<g clip-path="url(#clipR3)">
<line x1="1205" y1="931" x2="1800" y2="931" stroke="#000" stroke-width="1.8" stroke-dasharray="1.8 3.7"/>
<path d="M1205.5,1001.88 1206,1013.3 1206.5,1001.44 1207,1007.98 1207.5,1000.46 1208,1007.25 1208.5,1004.77 1209,990.14 1209.5,997.78 1210,1011.42 1210.5,1005.38 1211,1006.98 1211.5,994.29 1212,1010.02 1212.5,1001.35 1213,1010.5 1213.5,1001.84 1214,1013.3 1214.5,998.78 1215,1009.02 1215.5,1003.19 1216,1012.63 1216.5,998.73 1217,1013.3 1217.5,1005.5 1218,1013.3 1218.5,997.66 1219,1007.08 1219.5,999.27 1220,1007.2 1220.5,997.79 1221,1007.44 1221.5,1004.69 1222,1012.88 1222.5,1001.03 1223,1008.03 1223.5,1004.45 1224,1007.43 1224.5,1003.8 1225,1013.3 1225.5,1003.07 1226,1008.19 1226.5,998.66 1227,1007.3 1227.5,1003.79 1228,1012.68 1228.5,1002.71 1229,1006.39 1229.5,1002.31 1230,1007.81 1230.5,995.74 1231,1008.6 1231.5,1001.12 1232,1010.43 1232.5,999.75 1233,1008.25 1233.5,999.34 1234,1008.56 1234.5,997.13 1235,1001.81 1235.5,998.59 1236,1003.56 1236.5,995.73 1237,1002.9 1237.5,999.95 1238,1005.97 1238.5,995.59 1239,1008.84 1239.5,1000.37 1240,1005.07 1240.5,999.09 1241,1006.08 1241.5,997.6 1242,1009.34 1242.5,994.97 1243,992.86 1243.5,993.22 1244,987.91 1244.5,996.64 1245,1004.05 1245.5,999.9 1246,1007.4 1246.5,994.6 1247,1007.85 1247.5,997.69 1248,1008.71 1248.5,997.16 1249,1008.41 1249.5,995.5 1250,1006.16 1250.5,999.86 1251,1009.45 1251.5,994.67 1252,1007.38 1252.5,996.98 1253,1002.17 1253.5,1000.26 1254,1005.35 1254.5,994.91 1255,1006.42 1255.5,990.59 1256,1006.93 1256.5,999.14 1257,1006.78 1257.5,993.37 1258,1006.83 1258.5,997.05 1259,1008.81 1259.5,997.42 1260,1004.03 1260.5,996.53 1261,1008.29 1261.5,992.9 1262,1002.85 1262.5,998.3 1263,1004.81 1263.5,996.55 1264,1008.21 1264.5,996.88 1265,1001.75 1265.5,1000.17 1266,1006.06 1266.5,991.91 1267,986.36 1267.5,998.6 1268,1001.88 1268.5,996.93 1269,1006.74 1269.5,992.83 1270,1003.09 1270.5,989.22 1271,1007.21 1271.5,998.32 1272,1007.08 1272.5,996.08 1273,1005.65 1273.5,994.75 1274,1010.96 1274.5,1001.96 1275,1009.5 1275.5,1000.99 1276,1012.53 1276.5,997.45 1277,1011.71 1277.5,999.72 1278,1011.63 1278.5,1003.79 1279,1013.3 1279.5,1001.2 1280,1009.06 1280.5,998.65 1281,1007.16 1281.5,1001.1 1282,991.53 1282.5,1004.99 1283,1007.88 1283.5,999.2 1284,1007.69 1284.5,999.71 1285,1012.01 1285.5,1001.56 1286,1007.19 1286.5,1001.29 1287,1012.33 1287.5,1001.32 1288,1010.98 1288.5,1002.45 1289,1013.3 1289.5,998.69 1290,1010.69 1290.5,1003.89 1291,1010.53 1291.5,1005.28 1292,1010.63 1292.5,999.09 1293,1010.43 1293.5,1004.97 1294,1009.81 1294.5,998.11 1295,1010.29 1295.5,1002.03 1296,1013.3 1296.5,1002.96 1297,1011.44 1297.5,1004.46 1298,1006.68 1298.5,1003.68 1299,1009.08 1299.5,1000.54 1300,1012.35 1300.5,1000.92 1301,1007.08 1301.5,1000.51 1302,1007.81 1302.5,1001.72 1303,1008.55 1303.5,997.76 1304,1007.39 1304.5,999.14 1305,1007.98 1305.5,997.97 1306,1008.88 1306.5,992.51 1307,1002.57 1307.5,994.69 1308,1002.28 1308.5,997.13 1309,1002.51 1309.5,991.39 1310,1006.96 1310.5,992.75 1311,1005.55 1311.5,996.48 1312,1003.01 1312.5,988.59 1313,1005.62 1313.5,999.33 1314,1003.13 1314.5,992.58 1315,1002.26 1315.5,992.89 1316,1007.62 1316.5,996.76 1317,1004.94 1317.5,1000.39 1318,1008.25 1318.5,996.87 1319,1004.74 1319.5,999.18 1320,1001.62 1320.5,994.09 1321,1008.39 1321.5,997.26 1322,1005.53 1322.5,994.06 1323,1008.79 1323.5,994.28 1324,1004.75 1324.5,993.46 1325,1007.64 1325.5,997.25 1326,1002.06 1326.5,990.15 1327,1006.61 1327.5,998.64 1328,1006.83 1328.5,995.22 1329,1005.76 1329.5,992.5 1330,1007.11 1330.5,988.08 1331,1007.41 1331.5,997.29 1332,1003.06 1332.5,999.71 1333,1008.75 1333.5,996.44 1334,1006.04 1334.5,995.4 1335,1002.11 1335.5,985.56 1336,1002.78 1336.5,999.15 1337,1006.39 1337.5,992.94 1338,1005.71 1338.5,997.58 1339,1006.74 1339.5,998.23 1340,991.04 1340.5,1000.16 1341,1007.54 1341.5,993.32 1342,1001.9 1342.5,992.94 1343,1008.74 1343.5,996.68 1344,1003.45 1344.5,993 1345,1005.25 1345.5,993.97 1346,1002.42 1346.5,996.85 1347,1001.92 1347.5,999.51 1348,1006.84 1348.5,998.4 1349,1004.86 1349.5,996.25 1350,1009.12 1350.5,998.59 1351,1008.64 1351.5,995.5 1352,1003.67 1352.5,995.98 1353,1006.56 1353.5,998.98 1354,1009.34 1354.5,992.51 1355,1003.67 1355.5,995.51 1356,1005.83 1356.5,999.81 1357,1005.91 1357.5,997.51 1358,1003.19 1358.5,994.54 1359,1002.09 1359.5,994.03 1360,1007.65 1360.5,997.11 1361,1007.98 1361.5,995.27 1362,1004.1 1362.5,994.53 1363,1004.92 1363.5,999.72 1364,1002.13 1364.5,995.99 1365,1006.98 1365.5,994.3 1366,1003.21 1366.5,999.85 1367,1007.3 1367.5,998.24 1368,1004.36 1368.5,997.57 1369,1007.17 1369.5,993.15 1370,1008.81 1370.5,994.08 1371,1004.04 1371.5,993.02 1372,1003.49 1372.5,997.58 1373,1004.66 1373.5,998.94 1374,1007.88 1374.5,993.81 1375,1002.91 1375.5,993.45 1376,1001.68 1376.5,996.15 1377,1009.23 1377.5,994.07 1378,1005.87 1378.5,999.83 1379,1007.4 1379.5,999.82 1380,1002.65 1380.5,995.31 1381,1003.26 1381.5,996.33 1382,1004.66 1382.5,992.75 1383,1005.45 1383.5,994.73 1384,1008.82 1384.5,993.89 1385,1008.33 1385.5,993.83 1386,1009.16 1386.5,996.31 1387,1007.92 1387.5,997.14 1388,1007.43 1388.5,997.5 1389,1003.13 1389.5,998.16 1390,1001.97 1390.5,999.58 1391,1007.71 1391.5,1000 1392,1006.17 1392.5,1000.21 1393,1002.98 1393.5,998.62 1394,1006.26 1394.5,999.02 1395,1002.88 1395.5,998.01 1396,1008.04 1396.5,998.42 1397,1008.81 1397.5,996.12 1398,1005.36 1398.5,1000.1 1399,1007.91 1399.5,996.28 1400,1003.7 1400.5,995.24 1401,1001.59 1401.5,997.53 1402,1007.21 1402.5,999.24 1403,1004.07 1403.5,993.55 1404,1006.6 1404.5,998.37 1405,1002.71 1405.5,1000.49 1406,1008.27 1406.5,999.84 1407,1007.23 1407.5,996.66 1408,1009.14 1408.5,993.64 1409,1007.81 1409.5,993.17 1410,1008.11 1410.5,996.15 1411,1002.76 1411.5,998.01 1412,1002.11 1412.5,996.76 1413,1004.38 1413.5,999.65 1414,1005.19 1414.5,993.86 1415,1001.6 1415.5,994.82 1416,1006.01 1416.5,1000.42 1417,1007.9 1417.5,995.57 1418,1004.51 1418.5,998.11 1419,1004.64 1419.5,998.45 1420,1007.35 1420.5,992.94 1421,1007.29 1421.5,993.88 1422,1002.63 1422.5,995.08 1423,1002.94 1423.5,993.8 1424,1002.22 1424.5,999.74 1425,1005.75 1425.5,994.64 1426,1007.59 1426.5,996.87 1427,1007.59 1427.5,993.29 1428,1011.1 1428.5,998.68 1429,995.35 1429.5,1002.76 1430,1007.35 1430.5,1001.43 1431,1013.1 1431.5,1004.23 1432,1013.3 1432.5,1002.68 1433,1007.63 1433.5,997.61 1434,1012.22 1434.5,1003.92 1435,1011.52 1435.5,1004.83 1436,1011.11 1436.5,1002.87 1437,1009.39 1437.5,1004.51 1438,1007.58 1438.5,1001.15 1439,1010.98 1439.5,998.23 1440,1013.04 1440.5,1004.52 1441,1008.81 1441.5,1003.57 1442,1013.15 1442.5,1001.12 1443,1006.76 1443.5,997.6 1444,1011.77 1444.5,1000.13 1445,1009.55 1445.5,996.4 1446,1010.24 1446.5,1002.41 1447,1007.89 1447.5,1003.39 1448,1009.16 1448.5,1004.7 1449,1006.66 1449.5,999.2 1450,1007.79 1450.5,997.49 1451,1009.51 1451.5,994.04 1452,1009.34 1452.5,997.53 1453,1008.74 1453.5,996.3 1454,1008.73 1454.5,1000.06 1455,1008.7 1455.5,995.72 1456,1003.94 1456.5,999.94 1457,1005.08 1457.5,997.33 1458,1007.06 1458.5,998.59 1459,1004.66 1459.5,999.95 1460,1009.23 1460.5,993.57 1461,1007.94 1461.5,994.53 1462,1008.73 1462.5,994.16 1463,1005.8 1463.5,1000.5 1464,1003.89 1464.5,1000 1465,1008.02 1465.5,997.65 1466,985.81 1466.5,998.04 1467,1008.97 1467.5,996.72 1468,1003.86 1468.5,993.33 1469,1008.2 1469.5,996.72 1470,1008.54 1470.5,998.88 1471,1003.03 1471.5,1000.1 1472,1007.31 1472.5,993.3 1473,1007.21 1473.5,994.93 1474,1005.06 1474.5,998.71 1475,1007.18 1475.5,999.05 1476,1006.82 1476.5,997.52 1477,1008.58 1477.5,998.67 1478,1008.91 1478.5,998.29 1479,1002.22 1479.5,996.98 1480,988.2 1480.5,998.22 1481,1007.93 1481.5,998.22 1482,1003.47 1482.5,996.12 1483,1008.68 1483.5,1000.23 1484,1007.5 1484.5,993.07 1485,1002.94 1485.5,995.34 1486,1006.77 1486.5,996.37 1487,1008.26 1487.5,996.34 1488,1002.89 1488.5,999.18 1489,1003.38 1489.5,994.32 1490,1007.83 1490.5,996.59 1491,1006.14 1491.5,1000.22 1492,1007.22 1492.5,993.52 1493,989.03 1493.5,997.02 1494,1003.6 1494.5,999.92 1495,1006.05 1495.5,994.17 1496,1002.67 1496.5,1000.16 1497,1006.47 1497.5,998.38 1498,1002.21 1498.5,999.13 1499,1002.78 1499.5,993.85 1500,1001.99 1500.5,997.58 1501,989.08 1501.5,994.41 1502,1002.66 1502.5,991.08 1503,1008.62 1503.5,997.36 1504,1004.9 1504.5,1000.23 1505,1007.61 1505.5,998.66 1506,1005.92 1506.5,996.81 1507,1004.41 1507.5,992.65 1508,1001.82 1508.5,995.3 1509,1004.25 1509.5,993.58 1510,1008.59 1510.5,997.36 1511,1004.55 1511.5,998.78 1512,1002.97 1512.5,999.19 1513,1003.22 1513.5,998.03 1514,1009.45 1514.5,993.6 1515,1004.56 1515.5,994.97 1516,991.54 1516.5,998.4 1517,1008.89 1517.5,998.35 1518,1002.73 1518.5,997.62 1519,1007.29 1519.5,1000.34 1520,1004.58 1520.5,993.44 1521,1007.67 1521.5,1000.06 1522,991.79 1522.5,990.5 1523,1004.89 1523.5,999.41 1524,1003.58 1524.5,995.17 1525,1003.14 1525.5,994.8 1526,1004.59 1526.5,998.69 1527,1004.26 1527.5,987.96 1528,1006.03 1528.5,992.7 1529,1006.86 1529.5,998.77 1530,1006.83 1530.5,993.55 1531,1006.56 1531.5,997.08 1532,1001.98 1532.5,997.87 1533,1003.74 1533.5,997.28 1534,1002.83 1534.5,998.58 1535,1004.23 1535.5,999.29 1536,1007.11 1536.5,989.87 1537,1004.41 1537.5,997.27 1538,1005.46 1538.5,996.75 1539,990.22 1539.5,993.37 1540,1003.6 1540.5,999.01 1541,1006.42 1541.5,997.6 1542,1009.04 1542.5,995.48 1543,1004.79 1543.5,998.29 1544,1008.54 1544.5,991.91 1545,1005.56 1545.5,997.62 1546,1002.7 1546.5,998.67 1547,988.65 1547.5,997.35 1548,1005.45 1548.5,996.11 1549,1005.99 1549.5,992.75 1550,1004.27 1550.5,997.99 1551,1007.06 1551.5,992.79 1552,1002.78 1552.5,996.57 1553,1004.46 1553.5,994.51 1554,1003.4 1554.5,997.9 1555,1005.61 1555.5,999.99 1556,1002.32 1556.5,999.6 1557,1007.68 1557.5,999.2 1558,1008.46 1558.5,998.47 1559,1007.87 1559.5,994.77 1560,1007.23 1560.5,997.83 1561,1008.24 1561.5,995.96 1562,1007.16 1562.5,993.85 1563,1002.5 1563.5,995.15 1564,988.32 1564.5,992.97 1565,1002.57 1565.5,997.65 1566,1005.67 1566.5,988.79 1567,992.71 1567.5,997.15 1568,1005.46 1568.5,1003.79 1569,1009.36 1569.5,1002.53 1570,1013.21 1570.5,1002.37 1571,1012.62 1571.5,1002.39 1572,1010.87 1572.5,1004.32 1573,1007.36 1573.5,1003.49 1574,1007.46 1574.5,1005.35 1575,1007.65 1575.5,1003.31 1576,1010.36 1576.5,1003.42 1577,1007.02 1577.5,1003.03 1578,1007.96 1578.5,997.52 1579,1013.3 1579.5,1002.18 1580,1009.67 1580.5,1001.1 1581,1011.48 1581.5,997.99 1582,1013.3 1582.5,998.83 1583,996.65 1583.5,1004.55 1584,1009.37 1584.5,1003.02 1585,1006.58 1585.5,993.78 1586,1012.98 1586.5,999.62 1587,1012.92 1587.5,999.36 1588,1007.31 1588.5,1002.28 1589,1008.5 1589.5,1005.31 1590,1008.32 1590.5,1002.55 1591,1012.99 1591.5,1000.4 1592,1008.73 1592.5,1002.93 1593,1009.18 1593.5,1003.81 1594,1010.87 1594.5,1004.08 1595,1007.64 1595.5,993.98 1596,1009.73 1596.5,1000.7 1597,1007.14 1597.5,1001.43 1598,1005.37 1598.5,999.56 1599,1005.26 1599.5,996.35 1600,1004.69 1600.5,993.42 1601,1002.97 1601.5,992.58 1602,1006.58 1602.5,995.35 1603,1006.43 1603.5,993.65 1604,1005.54 1604.5,999.59 1605,1007.02 1605.5,995.18 1606,1004.58 1606.5,995.69 1607,987.98 1607.5,996.93 1608,1006.26 1608.5,999.28 1609,1009.44 1609.5,998 1610,1009.42 1610.5,993.56 1611,1009.42 1611.5,998.63 1612,1006.69 1612.5,993.87 1613,1005.59 1613.5,999.98 1614,1007.19 1614.5,994.04 1615,1005.79 1615.5,998.93 1616,1006.65 1616.5,996.06 1617,1005.43 1617.5,994.1 1618,1007.67 1618.5,993.25 1619,1002.71 1619.5,990.23 1620,1008.42 1620.5,999.56 1621,1004.61 1621.5,995.56 1622,1002.08 1622.5,998.85 1623,1008.51 1623.5,998.92 1624,990.28 1624.5,997.98 1625,1003.73 1625.5,994.94 1626,1002.52 1626.5,996.77 1627,1002.43 1627.5,995.62 1628,1003.07 1628.5,994.97 1629,1004.38 1629.5,997.23 1630,1006.55 1630.5,993.94 1631,1005.15 1631.5,992.97 1632,1007.13 1632.5,995.87 1633,1008.48 1633.5,993.66 1634,1005.14 1634.5,997.4 1635,1006.31 1635.5,999.99 1636,1003.75 1636.5,992.86 1637,1007.06 1637.5,998.54 1638,1002.56 1638.5,998.49 1639,1004.23 1639.5,993.7 1640,1005.87 1640.5,993.33 1641,1004.41 1641.5,994.72 1642,1004.25 1642.5,987.94 1643,1005.25 1643.5,996.78 1644,1006.87 1644.5,992.74 1645,1009.44 1645.5,993.87 1646,1007.11 1646.5,999.97 1647,1004.71 1647.5,998.76 1648,1003.18 1648.5,999.36 1649,1007.43 1649.5,999.17 1650,1006.48 1650.5,998.47 1651,1007.35 1651.5,999.54 1652,1001.63 1652.5,993.44 1653,1002.69 1653.5,997.71 1654,1004.39 1654.5,1000.59 1655,1005.5 1655.5,1002.96 1656,1009.6 1656.5,998.78 1657,1009.81 1657.5,1003.76 1658,1010.96 1658.5,998.69 1659,1013.3 1659.5,997.74 1660,1009.75 1660.5,998.59 1661,996.77 1661.5,998.95 1662,1012.2 1662.5,997.12 1663,1008.91 1663.5,1000.36 1664,1006.87 1664.5,1004.87 1665,1007.39 1665.5,1002.87 1666,1011.73 1666.5,997.93 1667,1010.51 1667.5,1002.34 1668,1012.41 1668.5,1002.56 1669,1010.31 1669.5,1002.06 1670,1006.9 1670.5,1005.01 1671,1010.88 1671.5,1003.72 1672,1009.48 1672.5,1001.63 1673,1012.5 1673.5,1005.43 1674,993.25 1674.5,997.81 1675,1011.28 1675.5,1003.09 1676,1011.22 1676.5,1000.97 1677,1011.43 1677.5,1003.11 1678,1006.46 1678.5,999.35 1679,1006.42 1679.5,996.21 1680,1009.97 1680.5,997.92 1681,1007.55 1681.5,994.86 1682,987.5 1682.5,995.58 1683,985.03 1683.5,993.98 1684,1001.04 1684.5,996.65 1685,1008.87 1685.5,999.4 1686,1004.52 1686.5,996.98 1687,1004.5 1687.5,997.44 1688,1001.57 1688.5,993.33 1689,1005.38 1689.5,999.05 1690,1008.63 1690.5,992.62 1691,1004.32 1691.5,993.29 1692,1007.99 1692.5,999.75 1693,1004.02 1693.5,992.57 1694,1006.52 1694.5,993.77 1695,1006.94 1695.5,995.31 1696,1003.77 1696.5,997.2 1697,1005.16 1697.5,995.41 1698,1003.87 1698.5,996.16 1699,1003.62 1699.5,998.13 1700,1006.84 1700.5,997.94 1701,1007.6 1701.5,994.27 1702,1005.94 1702.5,992.19 1703,1004.65 1703.5,998.15 1704,1001.82 1704.5,986.91 1705,1005.54 1705.5,997.34 1706,1008.61 1706.5,993.55 1707,1007.27 1707.5,998.41 1708,1005.88 1708.5,993.88 1709,1008.2 1709.5,994.49 1710,1008.61 1710.5,997.67 1711,1006.82 1711.5,988.2 1712,1003.03 1712.5,997.98 1713,1004.88 1713.5,997.72 1714,1005.07 1714.5,998.72 1715,1007.84 1715.5,995.65 1716,1005.28 1716.5,992.65 1717,1003.08 1717.5,992.51 1718,1007.3 1718.5,996.38 1719,1006.83 1719.5,995.95 1720,1003.79 1720.5,992.4 1721,1008.52 1721.5,999.43 1722,1001.82 1722.5,999.04 1723,1003.47 1723.5,999.51 1724,987.93 1724.5,992.14 1725,1007.84 1725.5,995.83 1726,1005.22 1726.5,995.79 1727,1004.99" fill="none" stroke="#000" stroke-width="2.0" stroke-linejoin="round"/>
</g>
<line x1="1726" y1="846" x2="1726" y2="1016" stroke="#1f77b4" stroke-width="2" stroke-dasharray="2 3.4"/>
<line x1="200" y1="397.5" x2="205.5" y2="397.5" stroke="#000" stroke-width="1"/>
<line x1="908.5" y1="397.5" x2="914" y2="397.5" stroke="#000" stroke-width="1"/>
<line x1="200" y1="340.5" x2="205.5" y2="340.5" stroke="#000" stroke-width="1"/>
<line x1="908.5" y1="340.5" x2="914" y2="340.5" stroke="#000" stroke-width="1"/>
<line x1="200" y1="282.5" x2="205.5" y2="282.5" stroke="#000" stroke-width="1"/>
<line x1="908.5" y1="282.5" x2="914" y2="282.5" stroke="#000" stroke-width="1"/>
<line x1="200" y1="225.5" x2="205.5" y2="225.5" stroke="#000" stroke-width="1"/>
<line x1="908.5" y1="225.5" x2="914" y2="225.5" stroke="#000" stroke-width="1"/>
<line x1="200" y1="167.5" x2="205.5" y2="167.5" stroke="#000" stroke-width="1"/>
<line x1="908.5" y1="167.5" x2="914" y2="167.5" stroke="#000" stroke-width="1"/>
<text x="194.5" y="462.6" font-size="19" text-anchor="end" fill="#000">2</text>
<text x="194.5" y="405.1" font-size="19" text-anchor="end" fill="#000">3</text>
<text x="194.5" y="347.6" font-size="19" text-anchor="end" fill="#000">4</text>
<text x="194.5" y="290.1" font-size="19" text-anchor="end" fill="#000">5</text>
<text x="194.5" y="232.6" font-size="19" text-anchor="end" fill="#000">6</text>
<text x="194.5" y="175.1" font-size="19" text-anchor="end" fill="#000">7</text>
<text x="194.5" y="117.6" font-size="19" text-anchor="end" fill="#000">8</text>
<line x1="247.5" y1="455" x2="247.5" y2="449.5" stroke="#000" stroke-width="1"/>
<line x1="336.5" y1="455" x2="336.5" y2="449.5" stroke="#000" stroke-width="1"/>
<line x1="426.5" y1="455" x2="426.5" y2="449.5" stroke="#000" stroke-width="1"/>
<line x1="515.5" y1="455" x2="515.5" y2="449.5" stroke="#000" stroke-width="1"/>
<line x1="604.5" y1="455" x2="604.5" y2="449.5" stroke="#000" stroke-width="1"/>
<line x1="693.5" y1="455" x2="693.5" y2="449.5" stroke="#000" stroke-width="1"/>
<line x1="783.5" y1="455" x2="783.5" y2="449.5" stroke="#000" stroke-width="1"/>
<line x1="872.5" y1="455" x2="872.5" y2="449.5" stroke="#000" stroke-width="1"/>
<rect x="200" y="110" width="714" height="345" fill="none" stroke="#000" stroke-width="2"/>
<line x1="200" y1="764.5" x2="205.5" y2="764.5" stroke="#000" stroke-width="1"/>
<line x1="908.5" y1="764.5" x2="914" y2="764.5" stroke="#000" stroke-width="1"/>
<line x1="200" y1="707.5" x2="205.5" y2="707.5" stroke="#000" stroke-width="1"/>
<line x1="908.5" y1="707.5" x2="914" y2="707.5" stroke="#000" stroke-width="1"/>
<line x1="200" y1="650.5" x2="205.5" y2="650.5" stroke="#000" stroke-width="1"/>
<line x1="908.5" y1="650.5" x2="914" y2="650.5" stroke="#000" stroke-width="1"/>
<line x1="200" y1="592.5" x2="205.5" y2="592.5" stroke="#000" stroke-width="1"/>
<line x1="908.5" y1="592.5" x2="914" y2="592.5" stroke="#000" stroke-width="1"/>
<line x1="200" y1="535.5" x2="205.5" y2="535.5" stroke="#000" stroke-width="1"/>
<line x1="908.5" y1="535.5" x2="914" y2="535.5" stroke="#000" stroke-width="1"/>
<line x1="200" y1="804.5" x2="203.3" y2="804.5" stroke="#000" stroke-width="1"/>
<line x1="910.7" y1="804.5" x2="914" y2="804.5" stroke="#000" stroke-width="1"/>
<line x1="200" y1="794.5" x2="203.3" y2="794.5" stroke="#000" stroke-width="1"/>
<line x1="910.7" y1="794.5" x2="914" y2="794.5" stroke="#000" stroke-width="1"/>
<line x1="200" y1="787.5" x2="203.3" y2="787.5" stroke="#000" stroke-width="1"/>
<line x1="910.7" y1="787.5" x2="914" y2="787.5" stroke="#000" stroke-width="1"/>
<line x1="200" y1="781.5" x2="203.3" y2="781.5" stroke="#000" stroke-width="1"/>
<line x1="910.7" y1="781.5" x2="914" y2="781.5" stroke="#000" stroke-width="1"/>
<line x1="200" y1="777.5" x2="203.3" y2="777.5" stroke="#000" stroke-width="1"/>
<line x1="910.7" y1="777.5" x2="914" y2="777.5" stroke="#000" stroke-width="1"/>
<line x1="200" y1="773.5" x2="203.3" y2="773.5" stroke="#000" stroke-width="1"/>
<line x1="910.7" y1="773.5" x2="914" y2="773.5" stroke="#000" stroke-width="1"/>
<line x1="200" y1="770.5" x2="203.3" y2="770.5" stroke="#000" stroke-width="1"/>
<line x1="910.7" y1="770.5" x2="914" y2="770.5" stroke="#000" stroke-width="1"/>
<line x1="200" y1="767.5" x2="203.3" y2="767.5" stroke="#000" stroke-width="1"/>
<line x1="910.7" y1="767.5" x2="914" y2="767.5" stroke="#000" stroke-width="1"/>
<line x1="200" y1="747.5" x2="203.3" y2="747.5" stroke="#000" stroke-width="1"/>
<line x1="910.7" y1="747.5" x2="914" y2="747.5" stroke="#000" stroke-width="1"/>
<line x1="200" y1="737.5" x2="203.3" y2="737.5" stroke="#000" stroke-width="1"/>
<line x1="910.7" y1="737.5" x2="914" y2="737.5" stroke="#000" stroke-width="1"/>
<line x1="200" y1="730.5" x2="203.3" y2="730.5" stroke="#000" stroke-width="1"/>
<line x1="910.7" y1="730.5" x2="914" y2="730.5" stroke="#000" stroke-width="1"/>
<line x1="200" y1="724.5" x2="203.3" y2="724.5" stroke="#000" stroke-width="1"/>
<line x1="910.7" y1="724.5" x2="914" y2="724.5" stroke="#000" stroke-width="1"/>
<line x1="200" y1="720.5" x2="203.3" y2="720.5" stroke="#000" stroke-width="1"/>
<line x1="910.7" y1="720.5" x2="914" y2="720.5" stroke="#000" stroke-width="1"/>
<line x1="200" y1="716.5" x2="203.3" y2="716.5" stroke="#000" stroke-width="1"/>
<line x1="910.7" y1="716.5" x2="914" y2="716.5" stroke="#000" stroke-width="1"/>
<line x1="200" y1="712.5" x2="203.3" y2="712.5" stroke="#000" stroke-width="1"/>
<line x1="910.7" y1="712.5" x2="914" y2="712.5" stroke="#000" stroke-width="1"/>
<line x1="200" y1="709.5" x2="203.3" y2="709.5" stroke="#000" stroke-width="1"/>
<line x1="910.7" y1="709.5" x2="914" y2="709.5" stroke="#000" stroke-width="1"/>
<line x1="200" y1="690.5" x2="203.3" y2="690.5" stroke="#000" stroke-width="1"/>
<line x1="910.7" y1="690.5" x2="914" y2="690.5" stroke="#000" stroke-width="1"/>
<line x1="200" y1="679.5" x2="203.3" y2="679.5" stroke="#000" stroke-width="1"/>
<line x1="910.7" y1="679.5" x2="914" y2="679.5" stroke="#000" stroke-width="1"/>
<line x1="200" y1="672.5" x2="203.3" y2="672.5" stroke="#000" stroke-width="1"/>
<line x1="910.7" y1="672.5" x2="914" y2="672.5" stroke="#000" stroke-width="1"/>
<line x1="200" y1="667.5" x2="203.3" y2="667.5" stroke="#000" stroke-width="1"/>
<line x1="910.7" y1="667.5" x2="914" y2="667.5" stroke="#000" stroke-width="1"/>
<line x1="200" y1="662.5" x2="203.3" y2="662.5" stroke="#000" stroke-width="1"/>
<line x1="910.7" y1="662.5" x2="914" y2="662.5" stroke="#000" stroke-width="1"/>
<line x1="200" y1="658.5" x2="203.3" y2="658.5" stroke="#000" stroke-width="1"/>
<line x1="910.7" y1="658.5" x2="914" y2="658.5" stroke="#000" stroke-width="1"/>
<line x1="200" y1="655.5" x2="203.3" y2="655.5" stroke="#000" stroke-width="1"/>
<line x1="910.7" y1="655.5" x2="914" y2="655.5" stroke="#000" stroke-width="1"/>
<line x1="200" y1="652.5" x2="203.3" y2="652.5" stroke="#000" stroke-width="1"/>
<line x1="910.7" y1="652.5" x2="914" y2="652.5" stroke="#000" stroke-width="1"/>
<line x1="200" y1="632.5" x2="203.3" y2="632.5" stroke="#000" stroke-width="1"/>
<line x1="910.7" y1="632.5" x2="914" y2="632.5" stroke="#000" stroke-width="1"/>
<line x1="200" y1="622.5" x2="203.3" y2="622.5" stroke="#000" stroke-width="1"/>
<line x1="910.7" y1="622.5" x2="914" y2="622.5" stroke="#000" stroke-width="1"/>
<line x1="200" y1="615.5" x2="203.3" y2="615.5" stroke="#000" stroke-width="1"/>
<line x1="910.7" y1="615.5" x2="914" y2="615.5" stroke="#000" stroke-width="1"/>
<line x1="200" y1="609.5" x2="203.3" y2="609.5" stroke="#000" stroke-width="1"/>
<line x1="910.7" y1="609.5" x2="914" y2="609.5" stroke="#000" stroke-width="1"/>
<line x1="200" y1="605.5" x2="203.3" y2="605.5" stroke="#000" stroke-width="1"/>
<line x1="910.7" y1="605.5" x2="914" y2="605.5" stroke="#000" stroke-width="1"/>
<line x1="200" y1="601.5" x2="203.3" y2="601.5" stroke="#000" stroke-width="1"/>
<line x1="910.7" y1="601.5" x2="914" y2="601.5" stroke="#000" stroke-width="1"/>
<line x1="200" y1="598.5" x2="203.3" y2="598.5" stroke="#000" stroke-width="1"/>
<line x1="910.7" y1="598.5" x2="914" y2="598.5" stroke="#000" stroke-width="1"/>
<line x1="200" y1="595.5" x2="203.3" y2="595.5" stroke="#000" stroke-width="1"/>
<line x1="910.7" y1="595.5" x2="914" y2="595.5" stroke="#000" stroke-width="1"/>
<line x1="200" y1="575.5" x2="203.3" y2="575.5" stroke="#000" stroke-width="1"/>
<line x1="910.7" y1="575.5" x2="914" y2="575.5" stroke="#000" stroke-width="1"/>
<line x1="200" y1="565.5" x2="203.3" y2="565.5" stroke="#000" stroke-width="1"/>
<line x1="910.7" y1="565.5" x2="914" y2="565.5" stroke="#000" stroke-width="1"/>
<line x1="200" y1="558.5" x2="203.3" y2="558.5" stroke="#000" stroke-width="1"/>
<line x1="910.7" y1="558.5" x2="914" y2="558.5" stroke="#000" stroke-width="1"/>
<line x1="200" y1="552.5" x2="203.3" y2="552.5" stroke="#000" stroke-width="1"/>
<line x1="910.7" y1="552.5" x2="914" y2="552.5" stroke="#000" stroke-width="1"/>
<line x1="200" y1="548.5" x2="203.3" y2="548.5" stroke="#000" stroke-width="1"/>
<line x1="910.7" y1="548.5" x2="914" y2="548.5" stroke="#000" stroke-width="1"/>
<line x1="200" y1="544.5" x2="203.3" y2="544.5" stroke="#000" stroke-width="1"/>
<line x1="910.7" y1="544.5" x2="914" y2="544.5" stroke="#000" stroke-width="1"/>
<line x1="200" y1="540.5" x2="203.3" y2="540.5" stroke="#000" stroke-width="1"/>
<line x1="910.7" y1="540.5" x2="914" y2="540.5" stroke="#000" stroke-width="1"/>
<line x1="200" y1="537.5" x2="203.3" y2="537.5" stroke="#000" stroke-width="1"/>
<line x1="910.7" y1="537.5" x2="914" y2="537.5" stroke="#000" stroke-width="1"/>
<line x1="200" y1="518.5" x2="203.3" y2="518.5" stroke="#000" stroke-width="1"/>
<line x1="910.7" y1="518.5" x2="914" y2="518.5" stroke="#000" stroke-width="1"/>
<line x1="200" y1="507.5" x2="203.3" y2="507.5" stroke="#000" stroke-width="1"/>
<line x1="910.7" y1="507.5" x2="914" y2="507.5" stroke="#000" stroke-width="1"/>
<line x1="200" y1="500.5" x2="203.3" y2="500.5" stroke="#000" stroke-width="1"/>
<line x1="910.7" y1="500.5" x2="914" y2="500.5" stroke="#000" stroke-width="1"/>
<line x1="200" y1="495.5" x2="203.3" y2="495.5" stroke="#000" stroke-width="1"/>
<line x1="910.7" y1="495.5" x2="914" y2="495.5" stroke="#000" stroke-width="1"/>
<line x1="200" y1="490.5" x2="203.3" y2="490.5" stroke="#000" stroke-width="1"/>
<line x1="910.7" y1="490.5" x2="914" y2="490.5" stroke="#000" stroke-width="1"/>
<line x1="200" y1="486.5" x2="203.3" y2="486.5" stroke="#000" stroke-width="1"/>
<line x1="910.7" y1="486.5" x2="914" y2="486.5" stroke="#000" stroke-width="1"/>
<line x1="200" y1="483.5" x2="203.3" y2="483.5" stroke="#000" stroke-width="1"/>
<line x1="910.7" y1="483.5" x2="914" y2="483.5" stroke="#000" stroke-width="1"/>
<line x1="200" y1="480.5" x2="203.3" y2="480.5" stroke="#000" stroke-width="1"/>
<line x1="910.7" y1="480.5" x2="914" y2="480.5" stroke="#000" stroke-width="1"/>
<text x="193.4" y="829.6" font-size="19" text-anchor="end" fill="#000">1<tspan dx="0.8">0</tspan><tspan dx="0.3" dy="-6.6" font-size="13.3">0</tspan></text>
<text x="193.4" y="772.27" font-size="19" text-anchor="end" fill="#000">1<tspan dx="0.8">0</tspan><tspan dx="0.3" dy="-6.6" font-size="13.3">1</tspan></text>
<text x="193.4" y="714.93" font-size="19" text-anchor="end" fill="#000">1<tspan dx="0.8">0</tspan><tspan dx="0.3" dy="-6.6" font-size="13.3">2</tspan></text>
<text x="193.4" y="657.6" font-size="19" text-anchor="end" fill="#000">1<tspan dx="0.8">0</tspan><tspan dx="0.3" dy="-6.6" font-size="13.3">3</tspan></text>
<text x="193.4" y="600.27" font-size="19" text-anchor="end" fill="#000">1<tspan dx="0.8">0</tspan><tspan dx="0.3" dy="-6.6" font-size="13.3">4</tspan></text>
<text x="193.4" y="542.93" font-size="19" text-anchor="end" fill="#000">1<tspan dx="0.8">0</tspan><tspan dx="0.3" dy="-6.6" font-size="13.3">5</tspan></text>
<text x="193.4" y="485.6" font-size="19" text-anchor="end" fill="#000">1<tspan dx="0.8">0</tspan><tspan dx="0.3" dy="-6.6" font-size="13.3">6</tspan></text>
<line x1="247.5" y1="822" x2="247.5" y2="816.5" stroke="#000" stroke-width="1"/>
<line x1="336.5" y1="822" x2="336.5" y2="816.5" stroke="#000" stroke-width="1"/>
<line x1="426.5" y1="822" x2="426.5" y2="816.5" stroke="#000" stroke-width="1"/>
<line x1="515.5" y1="822" x2="515.5" y2="816.5" stroke="#000" stroke-width="1"/>
<line x1="604.5" y1="822" x2="604.5" y2="816.5" stroke="#000" stroke-width="1"/>
<line x1="693.5" y1="822" x2="693.5" y2="816.5" stroke="#000" stroke-width="1"/>
<line x1="783.5" y1="822" x2="783.5" y2="816.5" stroke="#000" stroke-width="1"/>
<line x1="872.5" y1="822" x2="872.5" y2="816.5" stroke="#000" stroke-width="1"/>
<rect x="200" y="478" width="714" height="344" fill="none" stroke="#000" stroke-width="2"/>
<line x1="200" y1="978.5" x2="205.5" y2="978.5" stroke="#000" stroke-width="1"/>
<line x1="908.5" y1="978.5" x2="914" y2="978.5" stroke="#000" stroke-width="1"/>
<line x1="200" y1="940.5" x2="205.5" y2="940.5" stroke="#000" stroke-width="1"/>
<line x1="908.5" y1="940.5" x2="914" y2="940.5" stroke="#000" stroke-width="1"/>
<line x1="200" y1="902.5" x2="205.5" y2="902.5" stroke="#000" stroke-width="1"/>
<line x1="908.5" y1="902.5" x2="914" y2="902.5" stroke="#000" stroke-width="1"/>
<line x1="200" y1="864.5" x2="205.5" y2="864.5" stroke="#000" stroke-width="1"/>
<line x1="908.5" y1="864.5" x2="914" y2="864.5" stroke="#000" stroke-width="1"/>
<text x="194.5" y="1024.6" font-size="19" text-anchor="end" fill="#000">0</text>
<text x="194.5" y="986.38" font-size="19" text-anchor="end" fill="#000">2</text>
<text x="194.5" y="948.16" font-size="19" text-anchor="end" fill="#000">4</text>
<text x="194.5" y="909.93" font-size="19" text-anchor="end" fill="#000">6</text>
<text x="194.5" y="871.71" font-size="19" text-anchor="end" fill="#000">8</text>
<line x1="247.5" y1="1017" x2="247.5" y2="1011.5" stroke="#000" stroke-width="1"/>
<line x1="336.5" y1="1017" x2="336.5" y2="1011.5" stroke="#000" stroke-width="1"/>
<line x1="426.5" y1="1017" x2="426.5" y2="1011.5" stroke="#000" stroke-width="1"/>
<line x1="515.5" y1="1017" x2="515.5" y2="1011.5" stroke="#000" stroke-width="1"/>
<line x1="604.5" y1="1017" x2="604.5" y2="1011.5" stroke="#000" stroke-width="1"/>
<line x1="693.5" y1="1017" x2="693.5" y2="1011.5" stroke="#000" stroke-width="1"/>
<line x1="783.5" y1="1017" x2="783.5" y2="1011.5" stroke="#000" stroke-width="1"/>
<line x1="872.5" y1="1017" x2="872.5" y2="1011.5" stroke="#000" stroke-width="1"/>
<rect x="200" y="845" width="714" height="172" fill="none" stroke="#000" stroke-width="2"/>
<text x="247.72" y="1037" font-size="19" text-anchor="middle" fill="#000">26</text>
<text x="336.97" y="1037" font-size="19" text-anchor="middle" fill="#000">27</text>
<text x="426.22" y="1037" font-size="19" text-anchor="middle" fill="#000">28</text>
<text x="515.47" y="1037" font-size="19" text-anchor="middle" fill="#000">29</text>
<text x="604.72" y="1037" font-size="19" text-anchor="middle" fill="#000">30</text>
<text x="693.97" y="1037" font-size="19" text-anchor="middle" fill="#000">31</text>
<text x="783.22" y="1037" font-size="19" text-anchor="middle" fill="#000">01</text>
<text x="872.47" y="1037" font-size="19" text-anchor="middle" fill="#000">02</text>
<text x="553.5" y="1066" font-size="24" text-anchor="middle" fill="#000">May/June</text>
<text x="557" y="1093.6" font-size="24" text-anchor="middle" fill="#000">2019 (UT)</text>
<line x1="1205" y1="411.5" x2="1210.5" y2="411.5" stroke="#000" stroke-width="1"/>
<line x1="1205" y1="368.5" x2="1210.5" y2="368.5" stroke="#000" stroke-width="1"/>
<line x1="1205" y1="325.5" x2="1210.5" y2="325.5" stroke="#000" stroke-width="1"/>
<line x1="1205" y1="282.5" x2="1210.5" y2="282.5" stroke="#000" stroke-width="1"/>
<line x1="1205" y1="239.5" x2="1210.5" y2="239.5" stroke="#000" stroke-width="1"/>
<line x1="1205" y1="196.5" x2="1210.5" y2="196.5" stroke="#000" stroke-width="1"/>
<line x1="1205" y1="153.5" x2="1210.5" y2="153.5" stroke="#000" stroke-width="1"/>
<text x="1199.5" y="462.6" font-size="19" text-anchor="end" fill="#000">−20</text>
<text x="1199.5" y="419.48" font-size="19" text-anchor="end" fill="#000">−15</text>
<text x="1199.5" y="376.35" font-size="19" text-anchor="end" fill="#000">−10</text>
<text x="1199.5" y="333.23" font-size="19" text-anchor="end" fill="#000">−5</text>
<text x="1199.5" y="290.1" font-size="19" text-anchor="end" fill="#000">0</text>
<text x="1199.5" y="246.97" font-size="19" text-anchor="end" fill="#000">5</text>
<text x="1199.5" y="203.85" font-size="19" text-anchor="end" fill="#000">10</text>
<text x="1199.5" y="160.72" font-size="19" text-anchor="end" fill="#000">15</text>
<text x="1199.5" y="117.6" font-size="19" text-anchor="end" fill="#000">20</text>
<line x1="1794.5" y1="386.5" x2="1800" y2="386.5" stroke="#f00" stroke-width="1"/>
<line x1="1794.5" y1="317.5" x2="1800" y2="317.5" stroke="#f00" stroke-width="1"/>
<line x1="1794.5" y1="248.5" x2="1800" y2="248.5" stroke="#f00" stroke-width="1"/>
<line x1="1794.5" y1="179.5" x2="1800" y2="179.5" stroke="#f00" stroke-width="1"/>
<text x="1806" y="462.6" font-size="19" text-anchor="start" fill="#f00">0</text>
<text x="1806" y="393.6" font-size="19" text-anchor="start" fill="#f00">200</text>
<text x="1806" y="324.6" font-size="19" text-anchor="start" fill="#f00">400</text>
<text x="1806" y="255.6" font-size="19" text-anchor="start" fill="#f00">600</text>
<text x="1806" y="186.6" font-size="19" text-anchor="start" fill="#f00">800</text>
<text x="1806" y="117.6" font-size="19" text-anchor="start" fill="#f00">1000</text>
<line x1="1244.5" y1="455" x2="1244.5" y2="449.5" stroke="#000" stroke-width="1"/>
<line x1="1319.5" y1="455" x2="1319.5" y2="449.5" stroke="#000" stroke-width="1"/>
<line x1="1393.5" y1="455" x2="1393.5" y2="449.5" stroke="#000" stroke-width="1"/>
<line x1="1467.5" y1="455" x2="1467.5" y2="449.5" stroke="#000" stroke-width="1"/>
<line x1="1542.5" y1="455" x2="1542.5" y2="449.5" stroke="#000" stroke-width="1"/>
<line x1="1616.5" y1="455" x2="1616.5" y2="449.5" stroke="#000" stroke-width="1"/>
<line x1="1691.5" y1="455" x2="1691.5" y2="449.5" stroke="#000" stroke-width="1"/>
<line x1="1765.5" y1="455" x2="1765.5" y2="449.5" stroke="#000" stroke-width="1"/>
<line x1="1205" y1="787.5" x2="1210.5" y2="787.5" stroke="#000" stroke-width="1"/>
<line x1="1205" y1="718.5" x2="1210.5" y2="718.5" stroke="#000" stroke-width="1"/>
<line x1="1205" y1="650.5" x2="1210.5" y2="650.5" stroke="#000" stroke-width="1"/>
<line x1="1205" y1="581.5" x2="1210.5" y2="581.5" stroke="#000" stroke-width="1"/>
<line x1="1205" y1="512.5" x2="1210.5" y2="512.5" stroke="#000" stroke-width="1"/>
<text x="1199.5" y="795.2" font-size="19" text-anchor="end" fill="#000">−400</text>
<text x="1199.5" y="726.4" font-size="19" text-anchor="end" fill="#000">−300</text>
<text x="1199.5" y="657.6" font-size="19" text-anchor="end" fill="#000">−200</text>
<text x="1199.5" y="588.8" font-size="19" text-anchor="end" fill="#000">−100</text>
<text x="1199.5" y="520" font-size="19" text-anchor="end" fill="#000">0</text>
<line x1="1794.5" y1="736.5" x2="1800" y2="736.5" stroke="#f00" stroke-width="1"/>
<line x1="1794.5" y1="650.5" x2="1800" y2="650.5" stroke="#f00" stroke-width="1"/>
<line x1="1794.5" y1="564.5" x2="1800" y2="564.5" stroke="#f00" stroke-width="1"/>
<line x1="1796.7" y1="796.5" x2="1800" y2="796.5" stroke="#f00" stroke-width="1"/>
<line x1="1796.7" y1="780.5" x2="1800" y2="780.5" stroke="#f00" stroke-width="1"/>
<line x1="1796.7" y1="770.5" x2="1800" y2="770.5" stroke="#f00" stroke-width="1"/>
<line x1="1796.7" y1="761.5" x2="1800" y2="761.5" stroke="#f00" stroke-width="1"/>
<line x1="1796.7" y1="755.5" x2="1800" y2="755.5" stroke="#f00" stroke-width="1"/>
<line x1="1796.7" y1="749.5" x2="1800" y2="749.5" stroke="#f00" stroke-width="1"/>
<line x1="1796.7" y1="744.5" x2="1800" y2="744.5" stroke="#f00" stroke-width="1"/>
<line x1="1796.7" y1="739.5" x2="1800" y2="739.5" stroke="#f00" stroke-width="1"/>
<line x1="1796.7" y1="710.5" x2="1800" y2="710.5" stroke="#f00" stroke-width="1"/>
<line x1="1796.7" y1="694.5" x2="1800" y2="694.5" stroke="#f00" stroke-width="1"/>
<line x1="1796.7" y1="684.5" x2="1800" y2="684.5" stroke="#f00" stroke-width="1"/>
<line x1="1796.7" y1="675.5" x2="1800" y2="675.5" stroke="#f00" stroke-width="1"/>
<line x1="1796.7" y1="669.5" x2="1800" y2="669.5" stroke="#f00" stroke-width="1"/>
<line x1="1796.7" y1="663.5" x2="1800" y2="663.5" stroke="#f00" stroke-width="1"/>
<line x1="1796.7" y1="658.5" x2="1800" y2="658.5" stroke="#f00" stroke-width="1"/>
<line x1="1796.7" y1="653.5" x2="1800" y2="653.5" stroke="#f00" stroke-width="1"/>
<line x1="1796.7" y1="624.5" x2="1800" y2="624.5" stroke="#f00" stroke-width="1"/>
<line x1="1796.7" y1="608.5" x2="1800" y2="608.5" stroke="#f00" stroke-width="1"/>
<line x1="1796.7" y1="598.5" x2="1800" y2="598.5" stroke="#f00" stroke-width="1"/>
<line x1="1796.7" y1="589.5" x2="1800" y2="589.5" stroke="#f00" stroke-width="1"/>
<line x1="1796.7" y1="583.5" x2="1800" y2="583.5" stroke="#f00" stroke-width="1"/>
<line x1="1796.7" y1="577.5" x2="1800" y2="577.5" stroke="#f00" stroke-width="1"/>
<line x1="1796.7" y1="572.5" x2="1800" y2="572.5" stroke="#f00" stroke-width="1"/>
<line x1="1796.7" y1="567.5" x2="1800" y2="567.5" stroke="#f00" stroke-width="1"/>
<line x1="1796.7" y1="538.5" x2="1800" y2="538.5" stroke="#f00" stroke-width="1"/>
<line x1="1796.7" y1="522.5" x2="1800" y2="522.5" stroke="#f00" stroke-width="1"/>
<line x1="1796.7" y1="512.5" x2="1800" y2="512.5" stroke="#f00" stroke-width="1"/>
<line x1="1796.7" y1="503.5" x2="1800" y2="503.5" stroke="#f00" stroke-width="1"/>
<line x1="1796.7" y1="497.5" x2="1800" y2="497.5" stroke="#f00" stroke-width="1"/>
<line x1="1796.7" y1="491.5" x2="1800" y2="491.5" stroke="#f00" stroke-width="1"/>
<line x1="1796.7" y1="486.5" x2="1800" y2="486.5" stroke="#f00" stroke-width="1"/>
<line x1="1796.7" y1="481.5" x2="1800" y2="481.5" stroke="#f00" stroke-width="1"/>
<text x="1806.5" y="829.6" font-size="19" text-anchor="start" fill="#f00">1<tspan dx="0.8">0</tspan><tspan dx="0.3" dy="-6.6" font-size="13.3">−2</tspan></text>
<text x="1806.5" y="743.6" font-size="19" text-anchor="start" fill="#f00">1<tspan dx="0.8">0</tspan><tspan dx="0.3" dy="-6.6" font-size="13.3">−1</tspan></text>
<text x="1806.5" y="657.6" font-size="19" text-anchor="start" fill="#f00">1<tspan dx="0.8">0</tspan><tspan dx="0.3" dy="-6.6" font-size="13.3">0</tspan></text>
<text x="1806.5" y="571.6" font-size="19" text-anchor="start" fill="#f00">1<tspan dx="0.8">0</tspan><tspan dx="0.3" dy="-6.6" font-size="13.3">1</tspan></text>
<text x="1806.5" y="485.6" font-size="19" text-anchor="start" fill="#f00">1<tspan dx="0.8">0</tspan><tspan dx="0.3" dy="-6.6" font-size="13.3">2</tspan></text>
<line x1="1244.5" y1="822" x2="1244.5" y2="816.5" stroke="#000" stroke-width="1"/>
<line x1="1319.5" y1="822" x2="1319.5" y2="816.5" stroke="#000" stroke-width="1"/>
<line x1="1393.5" y1="822" x2="1393.5" y2="816.5" stroke="#000" stroke-width="1"/>
<line x1="1467.5" y1="822" x2="1467.5" y2="816.5" stroke="#000" stroke-width="1"/>
<line x1="1542.5" y1="822" x2="1542.5" y2="816.5" stroke="#000" stroke-width="1"/>
<line x1="1616.5" y1="822" x2="1616.5" y2="816.5" stroke="#000" stroke-width="1"/>
<line x1="1691.5" y1="822" x2="1691.5" y2="816.5" stroke="#000" stroke-width="1"/>
<line x1="1765.5" y1="822" x2="1765.5" y2="816.5" stroke="#000" stroke-width="1"/>
<line x1="1205" y1="974.5" x2="1210.5" y2="974.5" stroke="#000" stroke-width="1"/>
<line x1="1794.5" y1="974.5" x2="1800" y2="974.5" stroke="#000" stroke-width="1"/>
<line x1="1205" y1="931.5" x2="1210.5" y2="931.5" stroke="#000" stroke-width="1"/>
<line x1="1794.5" y1="931.5" x2="1800" y2="931.5" stroke="#000" stroke-width="1"/>
<line x1="1205" y1="888.5" x2="1210.5" y2="888.5" stroke="#000" stroke-width="1"/>
<line x1="1794.5" y1="888.5" x2="1800" y2="888.5" stroke="#000" stroke-width="1"/>
<line x1="1205" y1="1004.5" x2="1208.3" y2="1004.5" stroke="#000" stroke-width="1"/>
<line x1="1796.7" y1="1004.5" x2="1800" y2="1004.5" stroke="#000" stroke-width="1"/>
<line x1="1205" y1="996.5" x2="1208.3" y2="996.5" stroke="#000" stroke-width="1"/>
<line x1="1796.7" y1="996.5" x2="1800" y2="996.5" stroke="#000" stroke-width="1"/>
<line x1="1205" y1="991.5" x2="1208.3" y2="991.5" stroke="#000" stroke-width="1"/>
<line x1="1796.7" y1="991.5" x2="1800" y2="991.5" stroke="#000" stroke-width="1"/>
<line x1="1205" y1="986.5" x2="1208.3" y2="986.5" stroke="#000" stroke-width="1"/>
<line x1="1796.7" y1="986.5" x2="1800" y2="986.5" stroke="#000" stroke-width="1"/>
<line x1="1205" y1="983.5" x2="1208.3" y2="983.5" stroke="#000" stroke-width="1"/>
<line x1="1796.7" y1="983.5" x2="1800" y2="983.5" stroke="#000" stroke-width="1"/>
<line x1="1205" y1="980.5" x2="1208.3" y2="980.5" stroke="#000" stroke-width="1"/>
<line x1="1796.7" y1="980.5" x2="1800" y2="980.5" stroke="#000" stroke-width="1"/>
<line x1="1205" y1="978.5" x2="1208.3" y2="978.5" stroke="#000" stroke-width="1"/>
<line x1="1796.7" y1="978.5" x2="1800" y2="978.5" stroke="#000" stroke-width="1"/>
<line x1="1205" y1="975.5" x2="1208.3" y2="975.5" stroke="#000" stroke-width="1"/>
<line x1="1796.7" y1="975.5" x2="1800" y2="975.5" stroke="#000" stroke-width="1"/>
<line x1="1205" y1="961.5" x2="1208.3" y2="961.5" stroke="#000" stroke-width="1"/>
<line x1="1796.7" y1="961.5" x2="1800" y2="961.5" stroke="#000" stroke-width="1"/>
<line x1="1205" y1="953.5" x2="1208.3" y2="953.5" stroke="#000" stroke-width="1"/>
<line x1="1796.7" y1="953.5" x2="1800" y2="953.5" stroke="#000" stroke-width="1"/>
<line x1="1205" y1="948.5" x2="1208.3" y2="948.5" stroke="#000" stroke-width="1"/>
<line x1="1796.7" y1="948.5" x2="1800" y2="948.5" stroke="#000" stroke-width="1"/>
<line x1="1205" y1="943.5" x2="1208.3" y2="943.5" stroke="#000" stroke-width="1"/>
<line x1="1796.7" y1="943.5" x2="1800" y2="943.5" stroke="#000" stroke-width="1"/>
<line x1="1205" y1="940.5" x2="1208.3" y2="940.5" stroke="#000" stroke-width="1"/>
<line x1="1796.7" y1="940.5" x2="1800" y2="940.5" stroke="#000" stroke-width="1"/>
<line x1="1205" y1="937.5" x2="1208.3" y2="937.5" stroke="#000" stroke-width="1"/>
<line x1="1796.7" y1="937.5" x2="1800" y2="937.5" stroke="#000" stroke-width="1"/>
<line x1="1205" y1="935.5" x2="1208.3" y2="935.5" stroke="#000" stroke-width="1"/>
<line x1="1796.7" y1="935.5" x2="1800" y2="935.5" stroke="#000" stroke-width="1"/>
<line x1="1205" y1="932.5" x2="1208.3" y2="932.5" stroke="#000" stroke-width="1"/>
<line x1="1796.7" y1="932.5" x2="1800" y2="932.5" stroke="#000" stroke-width="1"/>
<line x1="1205" y1="918.5" x2="1208.3" y2="918.5" stroke="#000" stroke-width="1"/>
<line x1="1796.7" y1="918.5" x2="1800" y2="918.5" stroke="#000" stroke-width="1"/>
<line x1="1205" y1="910.5" x2="1208.3" y2="910.5" stroke="#000" stroke-width="1"/>
<line x1="1796.7" y1="910.5" x2="1800" y2="910.5" stroke="#000" stroke-width="1"/>
<line x1="1205" y1="905.5" x2="1208.3" y2="905.5" stroke="#000" stroke-width="1"/>
<line x1="1796.7" y1="905.5" x2="1800" y2="905.5" stroke="#000" stroke-width="1"/>
<line x1="1205" y1="900.5" x2="1208.3" y2="900.5" stroke="#000" stroke-width="1"/>
<line x1="1796.7" y1="900.5" x2="1800" y2="900.5" stroke="#000" stroke-width="1"/>
<line x1="1205" y1="897.5" x2="1208.3" y2="897.5" stroke="#000" stroke-width="1"/>
<line x1="1796.7" y1="897.5" x2="1800" y2="897.5" stroke="#000" stroke-width="1"/>
<line x1="1205" y1="894.5" x2="1208.3" y2="894.5" stroke="#000" stroke-width="1"/>
<line x1="1796.7" y1="894.5" x2="1800" y2="894.5" stroke="#000" stroke-width="1"/>
<line x1="1205" y1="892.5" x2="1208.3" y2="892.5" stroke="#000" stroke-width="1"/>
<line x1="1796.7" y1="892.5" x2="1800" y2="892.5" stroke="#000" stroke-width="1"/>
<line x1="1205" y1="889.5" x2="1208.3" y2="889.5" stroke="#000" stroke-width="1"/>
<line x1="1796.7" y1="889.5" x2="1800" y2="889.5" stroke="#000" stroke-width="1"/>
<line x1="1205" y1="875.5" x2="1208.3" y2="875.5" stroke="#000" stroke-width="1"/>
<line x1="1796.7" y1="875.5" x2="1800" y2="875.5" stroke="#000" stroke-width="1"/>
<line x1="1205" y1="867.5" x2="1208.3" y2="867.5" stroke="#000" stroke-width="1"/>
<line x1="1796.7" y1="867.5" x2="1800" y2="867.5" stroke="#000" stroke-width="1"/>
<line x1="1205" y1="862.5" x2="1208.3" y2="862.5" stroke="#000" stroke-width="1"/>
<line x1="1796.7" y1="862.5" x2="1800" y2="862.5" stroke="#000" stroke-width="1"/>
<line x1="1205" y1="857.5" x2="1208.3" y2="857.5" stroke="#000" stroke-width="1"/>
<line x1="1796.7" y1="857.5" x2="1800" y2="857.5" stroke="#000" stroke-width="1"/>
<line x1="1205" y1="854.5" x2="1208.3" y2="854.5" stroke="#000" stroke-width="1"/>
<line x1="1796.7" y1="854.5" x2="1800" y2="854.5" stroke="#000" stroke-width="1"/>
<line x1="1205" y1="851.5" x2="1208.3" y2="851.5" stroke="#000" stroke-width="1"/>
<line x1="1796.7" y1="851.5" x2="1800" y2="851.5" stroke="#000" stroke-width="1"/>
<line x1="1205" y1="849.5" x2="1208.3" y2="849.5" stroke="#000" stroke-width="1"/>
<line x1="1796.7" y1="849.5" x2="1800" y2="849.5" stroke="#000" stroke-width="1"/>
<line x1="1205" y1="846.5" x2="1208.3" y2="846.5" stroke="#000" stroke-width="1"/>
<line x1="1796.7" y1="846.5" x2="1800" y2="846.5" stroke="#000" stroke-width="1"/>
<text x="1198.4" y="1024.6" font-size="19" text-anchor="end" fill="#000">1<tspan dx="0.8">0</tspan><tspan dx="0.3" dy="-6.6" font-size="13.3">−1</tspan></text>
<text x="1198.4" y="981.6" font-size="19" text-anchor="end" fill="#000">1<tspan dx="0.8">0</tspan><tspan dx="0.3" dy="-6.6" font-size="13.3">0</tspan></text>
<text x="1198.4" y="938.6" font-size="19" text-anchor="end" fill="#000">1<tspan dx="0.8">0</tspan><tspan dx="0.3" dy="-6.6" font-size="13.3">1</tspan></text>
<text x="1198.4" y="895.6" font-size="19" text-anchor="end" fill="#000">1<tspan dx="0.8">0</tspan><tspan dx="0.3" dy="-6.6" font-size="13.3">2</tspan></text>
<text x="1198.4" y="852.6" font-size="19" text-anchor="end" fill="#000">1<tspan dx="0.8">0</tspan><tspan dx="0.3" dy="-6.6" font-size="13.3">3</tspan></text>
<line x1="1244.5" y1="1017" x2="1244.5" y2="1011.5" stroke="#000" stroke-width="1"/>
<line x1="1319.5" y1="1017" x2="1319.5" y2="1011.5" stroke="#000" stroke-width="1"/>
<line x1="1393.5" y1="1017" x2="1393.5" y2="1011.5" stroke="#000" stroke-width="1"/>
<line x1="1467.5" y1="1017" x2="1467.5" y2="1011.5" stroke="#000" stroke-width="1"/>
<line x1="1542.5" y1="1017" x2="1542.5" y2="1011.5" stroke="#000" stroke-width="1"/>
<line x1="1616.5" y1="1017" x2="1616.5" y2="1011.5" stroke="#000" stroke-width="1"/>
<line x1="1691.5" y1="1017" x2="1691.5" y2="1011.5" stroke="#000" stroke-width="1"/>
<line x1="1765.5" y1="1017" x2="1765.5" y2="1011.5" stroke="#000" stroke-width="1"/>
<rect x="1205" y="845" width="595" height="172" fill="none" stroke="#000" stroke-width="2"/>
<text x="1244.77" y="1037" font-size="19" text-anchor="middle" fill="#000">26</text>
<text x="1319.14" y="1037" font-size="19" text-anchor="middle" fill="#000">27</text>
<text x="1393.52" y="1037" font-size="19" text-anchor="middle" fill="#000">28</text>
<text x="1467.89" y="1037" font-size="19" text-anchor="middle" fill="#000">29</text>
<text x="1542.27" y="1037" font-size="19" text-anchor="middle" fill="#000">30</text>
<text x="1616.64" y="1037" font-size="19" text-anchor="middle" fill="#000">31</text>
<text x="1691.02" y="1037" font-size="19" text-anchor="middle" fill="#000">01</text>
<text x="1765.39" y="1037" font-size="19" text-anchor="middle" fill="#000">02</text>
<text x="1499" y="1066" font-size="24" text-anchor="middle" fill="#000">May/June</text>
<text x="1502.5" y="1093.6" font-size="24" text-anchor="middle" fill="#000">2019 (UT)</text>
<rect x="1205" y="110" width="595" height="345" fill="none" stroke="#000" stroke-width="2"/>
<line x1="1800" y1="110" x2="1800" y2="455" stroke="#f00" stroke-width="2"/>
<rect x="1205" y="478" width="595" height="344" fill="none" stroke="#000" stroke-width="2"/>
<line x1="1800" y1="478" x2="1800" y2="822" stroke="#f00" stroke-width="2"/>
<text transform="translate(173.5,284.7) rotate(-90)" x="0" y="0" font-size="24" text-anchor="middle" fill="#000">L*</text>
<text transform="translate(173.5,935) rotate(-90)" x="0" y="0" font-size="24" text-anchor="middle" fill="#000">Kp</text>
<text transform="translate(113.3,650.1) rotate(-90)" x="0" y="0" font-size="24" text-anchor="middle" fill="#000">&gt;2.0 MeV Electron Flux</text>
<text transform="translate(146.8,650) rotate(-90)" x="0" y="0" font-size="24" text-anchor="middle" fill="#000">( cm<tspan dy="-9" font-size="17">−2</tspan><tspan dx="-2.8" dy="9"> s</tspan><tspan dy="-9" font-size="17">−1</tspan><tspan dx="-2.85" dy="9"> sr</tspan><tspan dy="-9" font-size="17">−1</tspan><tspan dy="9"> )</tspan></text>
<text transform="translate(1116.1,282.2) rotate(-90)" x="0" y="0" font-size="24" text-anchor="middle" fill="#000">IMF Bz</text>
<text transform="translate(1146.2,282.2) rotate(-90)" x="0" y="0" font-size="24" text-anchor="middle" fill="#000">( nT )</text>
<text transform="translate(1105.4,652.4) rotate(-90)" x="0" y="0" font-size="24" text-anchor="middle" fill="#000">Dst</text>
<text transform="translate(1132.3,650.4) rotate(-90)" x="0" y="0" font-size="24" text-anchor="middle" fill="#000">( nT )</text>
<text transform="translate(1105.6,931.9) rotate(-90)" x="0" y="0" font-size="24" text-anchor="middle" fill="#000">&gt;10 MeV Proton Flux</text>
<text transform="translate(1138.7,928.7) rotate(-90)" x="0" y="0" font-size="24" text-anchor="middle" fill="#000">( cm<tspan dy="-9" font-size="17">2</tspan><tspan dx="-2.8" dy="9"> s</tspan><tspan dy="-9" font-size="17">−1</tspan><tspan dx="-2.85" dy="9"> sr</tspan><tspan dy="-9" font-size="17">−1</tspan><tspan dy="9"> )</tspan></text>
<text transform="translate(1878.7,283.5) rotate(-90)" x="0" y="0" font-size="24" text-anchor="middle" fill="#f00">SW Velocity</text>
<text transform="translate(1911.9,282) rotate(-90)" x="0" y="0" font-size="24" text-anchor="middle" fill="#f00">( km<tspan dx="-2.8"> s</tspan><tspan dy="-9" font-size="17">−1</tspan><tspan dy="9"> )</tspan></text>
<text transform="translate(1875.2,650) rotate(-90)" x="0" y="0" font-size="24" text-anchor="middle" fill="#f00">SW Pressure</text>
<text transform="translate(1905.5,649.6) rotate(-90)" x="0" y="0" font-size="24" text-anchor="middle" fill="#f00">( nPa )</text>
<text x="1000" y="40.8" font-size="24" text-anchor="middle" fill="#000">BAS-RBM Relativistic Electron Forecast, issued at 23:10 UT, 01 June 2019</text>
<text x="205" y="92.9" font-size="24" text-anchor="start" fill="#000">&gt;2.0 MeV Electron Flux at 88<tspan dx="2.8" dy="-9" font-size="17">∘</tspan><tspan dx="3.8" dy="9"> pitch angle ( cm</tspan><tspan dy="-9" font-size="17">−2</tspan><tspan dx="-2.8" dy="9"> s</tspan><tspan dy="-9" font-size="17">−1</tspan><tspan dx="-2.85" dy="9"> sr</tspan><tspan dy="-9" font-size="17">−1</tspan><tspan dy="9"> )</tspan></text>
</svg></body></html>
